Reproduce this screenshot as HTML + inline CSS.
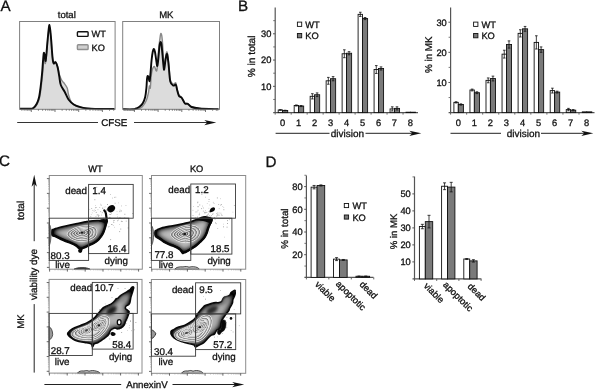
<!DOCTYPE html>
<html><head><meta charset="utf-8"><style>
html,body{margin:0;padding:0;background:#fff;overflow:hidden;}
svg{display:block;filter:grayscale(1) blur(0.3px);}
text{font-family:"Liberation Sans", sans-serif;stroke:#111;stroke-width:0.3px;text-rendering:geometricPrecision;}
</style></head><body>
<svg width="600" height="392" viewBox="0 0 600 392">
<rect x="0" y="0" width="600" height="392" fill="#fff"/>
<text x="0.6" y="10.6" font-size="15.2" text-anchor="start" fill="#111" >A</text>
<path d="M20.00,108.90 C21.83,108.90 28.58,109.08 31.00,108.90 C33.42,108.72 33.42,108.70 34.50,107.80 C35.58,106.90 36.62,105.38 37.50,103.50 C38.38,101.62 39.17,99.42 39.80,96.50 C40.43,93.58 40.83,89.75 41.30,86.00 C41.77,82.25 42.22,78.00 42.60,74.00 C42.98,70.00 43.33,64.83 43.60,62.00 C43.87,59.17 43.92,56.75 44.20,57.00 C44.48,57.25 44.90,64.00 45.30,63.50 C45.70,63.00 46.18,57.92 46.60,54.00 C47.02,50.08 47.32,44.50 47.80,40.00 C48.28,35.50 48.95,26.83 49.50,27.00 C50.05,27.17 50.72,37.00 51.10,41.00 C51.48,45.00 51.52,47.83 51.80,51.00 C52.08,54.17 52.47,58.00 52.80,60.00 C53.13,62.00 53.38,62.75 53.80,63.00 C54.22,63.25 54.83,61.42 55.30,61.50 C55.77,61.58 56.15,62.42 56.60,63.50 C57.05,64.58 57.52,66.08 58.00,68.00 C58.48,69.92 58.85,72.90 59.50,75.00 C60.15,77.10 61.15,79.27 61.90,80.60 C62.65,81.93 63.12,81.77 64.00,83.00 C64.88,84.23 66.45,86.08 67.20,88.00 C67.95,89.92 67.83,92.17 68.50,94.50 C69.17,96.83 69.95,100.08 71.20,102.00 C72.45,103.92 73.70,104.95 76.00,106.00 C78.30,107.05 81.83,107.82 85.00,108.30 C88.17,108.78 90.08,108.78 95.00,108.90 C99.92,109.02 111.25,108.98 114.50,109.00 L114.5,109 L20,108.9Z" fill="#dcdcdc" stroke="none"/>
<path d="M20.00,108.90 C21.83,108.90 28.58,109.08 31.00,108.90 C33.42,108.72 33.42,108.70 34.50,107.80 C35.58,106.90 36.62,105.38 37.50,103.50 C38.38,101.62 39.17,99.42 39.80,96.50 C40.43,93.58 40.83,89.75 41.30,86.00 C41.77,82.25 42.22,78.00 42.60,74.00 C42.98,70.00 43.33,64.83 43.60,62.00 C43.87,59.17 43.92,56.75 44.20,57.00 C44.48,57.25 44.90,64.00 45.30,63.50 C45.70,63.00 46.18,57.92 46.60,54.00 C47.02,50.08 47.32,44.50 47.80,40.00 C48.28,35.50 48.95,26.83 49.50,27.00 C50.05,27.17 50.72,37.00 51.10,41.00 C51.48,45.00 51.52,47.83 51.80,51.00 C52.08,54.17 52.47,58.00 52.80,60.00 C53.13,62.00 53.38,62.75 53.80,63.00 C54.22,63.25 54.83,61.42 55.30,61.50 C55.77,61.58 56.15,62.42 56.60,63.50 C57.05,64.58 57.52,66.08 58.00,68.00 C58.48,69.92 58.85,72.90 59.50,75.00 C60.15,77.10 61.15,79.27 61.90,80.60 C62.65,81.93 63.12,81.77 64.00,83.00 C64.88,84.23 66.45,86.08 67.20,88.00 C67.95,89.92 67.83,92.17 68.50,94.50 C69.17,96.83 69.95,100.08 71.20,102.00 C72.45,103.92 73.70,104.95 76.00,106.00 C78.30,107.05 81.83,107.82 85.00,108.30 C88.17,108.78 90.08,108.78 95.00,108.90 C99.92,109.02 111.25,108.98 114.50,109.00" fill="none" stroke="#888888" stroke-width="1.4" stroke-linejoin="round"/>
<path d="M20.00,108.70 C21.67,108.70 27.78,108.83 30.00,108.70 C32.22,108.57 32.20,108.68 33.30,107.90 C34.40,107.12 35.65,105.73 36.60,104.00 C37.55,102.27 38.33,100.33 39.00,97.50 C39.67,94.67 40.10,90.92 40.60,87.00 C41.10,83.08 41.60,78.33 42.00,74.00 C42.40,69.67 42.70,64.50 43.00,61.00 C43.30,57.50 43.52,53.92 43.80,53.00 C44.08,52.08 44.40,54.17 44.70,55.50 C45.00,56.83 45.28,61.58 45.60,61.00 C45.92,60.42 46.25,55.67 46.60,52.00 C46.95,48.33 47.22,43.50 47.70,39.00 C48.18,34.50 48.92,24.83 49.50,25.00 C50.08,25.17 50.80,35.83 51.20,40.00 C51.60,44.17 51.63,46.67 51.90,50.00 C52.17,53.33 52.50,57.75 52.80,60.00 C53.10,62.25 53.27,63.12 53.70,63.50 C54.13,63.88 54.92,62.22 55.40,62.30 C55.88,62.38 56.18,62.97 56.60,64.00 C57.02,65.03 57.47,66.50 57.90,68.50 C58.33,70.50 58.72,73.25 59.20,76.00 C59.68,78.75 59.87,82.33 60.80,85.00 C61.73,87.67 63.52,89.58 64.80,92.00 C66.08,94.42 67.00,97.42 68.50,99.50 C70.00,101.58 71.80,103.22 73.80,104.50 C75.80,105.78 78.30,106.55 80.50,107.20 C82.70,107.85 84.58,108.12 87.00,108.40 C89.42,108.68 90.42,108.80 95.00,108.90 C99.58,109.00 111.25,108.98 114.50,109.00" fill="none" stroke="#0a0a0a" stroke-width="1.9" stroke-linejoin="round"/>
<rect x="19.6" y="21.5" width="95.5" height="87.8" fill="none" stroke="#808080" stroke-width="1" />
<line x1="21.87" y1="109.4" x2="21.87" y2="110.7" stroke="#555" stroke-width="0.8" />
<line x1="24.17" y1="109.4" x2="24.17" y2="110.7" stroke="#555" stroke-width="0.8" />
<line x1="26.04" y1="109.4" x2="26.04" y2="110.7" stroke="#555" stroke-width="0.8" />
<line x1="27.63" y1="109.4" x2="27.63" y2="110.7" stroke="#555" stroke-width="0.8" />
<line x1="29.0" y1="109.4" x2="29.0" y2="110.7" stroke="#555" stroke-width="0.8" />
<line x1="30.22" y1="109.4" x2="30.22" y2="110.7" stroke="#555" stroke-width="0.8" />
<line x1="31.3" y1="109.4" x2="31.3" y2="112.0" stroke="#555" stroke-width="0.8" />
<line x1="38.43" y1="109.4" x2="38.43" y2="110.7" stroke="#555" stroke-width="0.8" />
<line x1="42.61" y1="109.4" x2="42.61" y2="110.7" stroke="#555" stroke-width="0.8" />
<line x1="45.57" y1="109.4" x2="45.57" y2="110.7" stroke="#555" stroke-width="0.8" />
<line x1="47.87" y1="109.4" x2="47.87" y2="110.7" stroke="#555" stroke-width="0.8" />
<line x1="49.74" y1="109.4" x2="49.74" y2="110.7" stroke="#555" stroke-width="0.8" />
<line x1="51.33" y1="109.4" x2="51.33" y2="110.7" stroke="#555" stroke-width="0.8" />
<line x1="52.7" y1="109.4" x2="52.7" y2="110.7" stroke="#555" stroke-width="0.8" />
<line x1="53.92" y1="109.4" x2="53.92" y2="110.7" stroke="#555" stroke-width="0.8" />
<line x1="55.0" y1="109.4" x2="55.0" y2="112.0" stroke="#555" stroke-width="0.8" />
<line x1="62.13" y1="109.4" x2="62.13" y2="110.7" stroke="#555" stroke-width="0.8" />
<line x1="66.31" y1="109.4" x2="66.31" y2="110.7" stroke="#555" stroke-width="0.8" />
<line x1="69.27" y1="109.4" x2="69.27" y2="110.7" stroke="#555" stroke-width="0.8" />
<line x1="71.57" y1="109.4" x2="71.57" y2="110.7" stroke="#555" stroke-width="0.8" />
<line x1="73.44" y1="109.4" x2="73.44" y2="110.7" stroke="#555" stroke-width="0.8" />
<line x1="75.03" y1="109.4" x2="75.03" y2="110.7" stroke="#555" stroke-width="0.8" />
<line x1="76.4" y1="109.4" x2="76.4" y2="110.7" stroke="#555" stroke-width="0.8" />
<line x1="77.62" y1="109.4" x2="77.62" y2="110.7" stroke="#555" stroke-width="0.8" />
<line x1="78.7" y1="109.4" x2="78.7" y2="112.0" stroke="#555" stroke-width="0.8" />
<line x1="85.83" y1="109.4" x2="85.83" y2="110.7" stroke="#555" stroke-width="0.8" />
<line x1="90.01" y1="109.4" x2="90.01" y2="110.7" stroke="#555" stroke-width="0.8" />
<line x1="92.97" y1="109.4" x2="92.97" y2="110.7" stroke="#555" stroke-width="0.8" />
<line x1="95.27" y1="109.4" x2="95.27" y2="110.7" stroke="#555" stroke-width="0.8" />
<line x1="97.14" y1="109.4" x2="97.14" y2="110.7" stroke="#555" stroke-width="0.8" />
<line x1="98.73" y1="109.4" x2="98.73" y2="110.7" stroke="#555" stroke-width="0.8" />
<line x1="100.1" y1="109.4" x2="100.1" y2="110.7" stroke="#555" stroke-width="0.8" />
<line x1="101.32" y1="109.4" x2="101.32" y2="110.7" stroke="#555" stroke-width="0.8" />
<line x1="102.4" y1="109.4" x2="102.4" y2="112.0" stroke="#555" stroke-width="0.8" />
<line x1="109.53" y1="109.4" x2="109.53" y2="110.7" stroke="#555" stroke-width="0.8" />
<line x1="113.71" y1="109.4" x2="113.71" y2="110.7" stroke="#555" stroke-width="0.8" />
<text x="66.8" y="18" font-size="9.5" text-anchor="middle" fill="#111" >total</text>
<path d="M123.00,109.30 C125.33,109.28 133.75,109.67 137.00,109.20 C140.25,108.73 140.95,107.95 142.50,106.50 C144.05,105.05 145.32,102.75 146.30,100.50 C147.28,98.25 147.88,95.42 148.40,93.00 C148.92,90.58 149.08,86.83 149.40,86.00 C149.72,85.17 150.00,89.67 150.30,88.00 C150.60,86.33 150.83,79.17 151.20,76.00 C151.57,72.83 151.97,70.58 152.50,69.00 C153.03,67.42 153.68,66.25 154.40,66.50 C155.12,66.75 156.13,72.92 156.80,70.50 C157.47,68.08 157.87,57.42 158.40,52.00 C158.93,46.58 159.55,41.08 160.00,38.00 C160.45,34.92 160.72,33.17 161.10,33.50 C161.48,33.83 161.92,35.92 162.30,40.00 C162.68,44.08 163.07,53.50 163.40,58.00 C163.73,62.50 163.93,67.17 164.30,67.00 C164.67,66.83 165.13,59.50 165.60,57.00 C166.07,54.50 166.58,51.00 167.10,52.00 C167.62,53.00 168.17,58.33 168.70,63.00 C169.23,67.67 169.52,76.50 170.30,80.00 C171.08,83.50 172.48,83.50 173.40,84.00 C174.32,84.50 175.13,82.00 175.80,83.00 C176.47,84.00 176.87,88.00 177.40,90.00 C177.93,92.00 178.33,93.83 179.00,95.00 C179.67,96.17 180.62,96.00 181.40,97.00 C182.18,98.00 183.05,99.92 183.70,101.00 C184.35,102.08 184.63,103.08 185.30,103.50 C185.97,103.92 186.65,102.92 187.70,103.50 C188.75,104.08 189.62,106.17 191.60,107.00 C193.58,107.83 195.12,108.13 199.60,108.50 C204.08,108.87 215.35,109.08 218.50,109.20 L218.5,109.2 L123,109.3Z" fill="#dcdcdc" stroke="none"/>
<path d="M123.00,109.30 C125.33,109.28 133.75,109.67 137.00,109.20 C140.25,108.73 140.95,107.95 142.50,106.50 C144.05,105.05 145.32,102.75 146.30,100.50 C147.28,98.25 147.88,95.42 148.40,93.00 C148.92,90.58 149.08,86.83 149.40,86.00 C149.72,85.17 150.00,89.67 150.30,88.00 C150.60,86.33 150.83,79.17 151.20,76.00 C151.57,72.83 151.97,70.58 152.50,69.00 C153.03,67.42 153.68,66.25 154.40,66.50 C155.12,66.75 156.13,72.92 156.80,70.50 C157.47,68.08 157.87,57.42 158.40,52.00 C158.93,46.58 159.55,41.08 160.00,38.00 C160.45,34.92 160.72,33.17 161.10,33.50 C161.48,33.83 161.92,35.92 162.30,40.00 C162.68,44.08 163.07,53.50 163.40,58.00 C163.73,62.50 163.93,67.17 164.30,67.00 C164.67,66.83 165.13,59.50 165.60,57.00 C166.07,54.50 166.58,51.00 167.10,52.00 C167.62,53.00 168.17,58.33 168.70,63.00 C169.23,67.67 169.52,76.50 170.30,80.00 C171.08,83.50 172.48,83.50 173.40,84.00 C174.32,84.50 175.13,82.00 175.80,83.00 C176.47,84.00 176.87,88.00 177.40,90.00 C177.93,92.00 178.33,93.83 179.00,95.00 C179.67,96.17 180.62,96.00 181.40,97.00 C182.18,98.00 183.05,99.92 183.70,101.00 C184.35,102.08 184.63,103.08 185.30,103.50 C185.97,103.92 186.65,102.92 187.70,103.50 C188.75,104.08 189.62,106.17 191.60,107.00 C193.58,107.83 195.12,108.13 199.60,108.50 C204.08,108.87 215.35,109.08 218.50,109.20" fill="none" stroke="#888888" stroke-width="1.4" stroke-linejoin="round"/>
<path d="M123.00,109.30 C124.67,109.30 130.83,109.43 133.00,109.30 C135.17,109.17 134.92,108.92 136.00,108.50 C137.08,108.08 138.37,107.67 139.50,106.80 C140.63,105.93 141.85,104.93 142.80,103.30 C143.75,101.67 144.60,99.55 145.20,97.00 C145.80,94.45 146.10,91.00 146.40,88.00 C146.70,85.00 146.80,81.00 147.00,79.00 C147.20,77.00 147.33,76.25 147.60,76.00 C147.87,75.75 148.27,76.67 148.60,77.50 C148.93,78.33 149.27,81.92 149.60,81.00 C149.93,80.08 150.27,75.50 150.60,72.00 C150.93,68.50 151.23,63.42 151.60,60.00 C151.97,56.58 152.42,53.33 152.80,51.50 C153.18,49.67 153.53,48.92 153.90,49.00 C154.27,49.08 154.62,50.17 155.00,52.00 C155.38,53.83 155.82,57.67 156.20,60.00 C156.58,62.33 156.92,66.50 157.30,66.00 C157.68,65.50 158.13,60.33 158.50,57.00 C158.87,53.67 159.17,48.50 159.50,46.00 C159.83,43.50 160.17,42.17 160.50,42.00 C160.83,41.83 161.17,42.83 161.50,45.00 C161.83,47.17 162.17,51.50 162.50,55.00 C162.83,58.50 163.22,63.58 163.50,66.00 C163.78,68.42 163.87,70.50 164.20,69.50 C164.53,68.50 165.02,62.58 165.50,60.00 C165.98,57.42 166.57,53.03 167.10,54.00 C167.63,54.97 168.17,61.20 168.70,65.80 C169.23,70.40 169.52,78.30 170.30,81.60 C171.08,84.90 172.48,85.07 173.40,85.60 C174.32,86.13 175.13,83.88 175.80,84.80 C176.47,85.72 176.87,89.25 177.40,91.10 C177.93,92.95 178.33,94.83 179.00,95.90 C179.67,96.97 180.62,96.58 181.40,97.50 C182.18,98.42 183.05,100.35 183.70,101.40 C184.35,102.45 184.63,103.40 185.30,103.80 C185.97,104.20 186.65,103.27 187.70,103.80 C188.75,104.33 189.62,106.22 191.60,107.00 C193.58,107.78 195.12,108.13 199.60,108.50 C204.08,108.87 215.35,109.08 218.50,109.20" fill="none" stroke="#0a0a0a" stroke-width="1.9" stroke-linejoin="round"/>
<rect x="122.7" y="21.5" width="96.8" height="87.8" fill="none" stroke="#808080" stroke-width="1" />
<line x1="124.97" y1="109.4" x2="124.97" y2="110.7" stroke="#555" stroke-width="0.8" />
<line x1="127.27" y1="109.4" x2="127.27" y2="110.7" stroke="#555" stroke-width="0.8" />
<line x1="129.14" y1="109.4" x2="129.14" y2="110.7" stroke="#555" stroke-width="0.8" />
<line x1="130.73" y1="109.4" x2="130.73" y2="110.7" stroke="#555" stroke-width="0.8" />
<line x1="132.1" y1="109.4" x2="132.1" y2="110.7" stroke="#555" stroke-width="0.8" />
<line x1="133.32" y1="109.4" x2="133.32" y2="110.7" stroke="#555" stroke-width="0.8" />
<line x1="134.4" y1="109.4" x2="134.4" y2="112.0" stroke="#555" stroke-width="0.8" />
<line x1="141.53" y1="109.4" x2="141.53" y2="110.7" stroke="#555" stroke-width="0.8" />
<line x1="145.71" y1="109.4" x2="145.71" y2="110.7" stroke="#555" stroke-width="0.8" />
<line x1="148.67" y1="109.4" x2="148.67" y2="110.7" stroke="#555" stroke-width="0.8" />
<line x1="150.97" y1="109.4" x2="150.97" y2="110.7" stroke="#555" stroke-width="0.8" />
<line x1="152.84" y1="109.4" x2="152.84" y2="110.7" stroke="#555" stroke-width="0.8" />
<line x1="154.43" y1="109.4" x2="154.43" y2="110.7" stroke="#555" stroke-width="0.8" />
<line x1="155.8" y1="109.4" x2="155.8" y2="110.7" stroke="#555" stroke-width="0.8" />
<line x1="157.02" y1="109.4" x2="157.02" y2="110.7" stroke="#555" stroke-width="0.8" />
<line x1="158.1" y1="109.4" x2="158.1" y2="112.0" stroke="#555" stroke-width="0.8" />
<line x1="165.23" y1="109.4" x2="165.23" y2="110.7" stroke="#555" stroke-width="0.8" />
<line x1="169.41" y1="109.4" x2="169.41" y2="110.7" stroke="#555" stroke-width="0.8" />
<line x1="172.37" y1="109.4" x2="172.37" y2="110.7" stroke="#555" stroke-width="0.8" />
<line x1="174.67" y1="109.4" x2="174.67" y2="110.7" stroke="#555" stroke-width="0.8" />
<line x1="176.54" y1="109.4" x2="176.54" y2="110.7" stroke="#555" stroke-width="0.8" />
<line x1="178.13" y1="109.4" x2="178.13" y2="110.7" stroke="#555" stroke-width="0.8" />
<line x1="179.5" y1="109.4" x2="179.5" y2="110.7" stroke="#555" stroke-width="0.8" />
<line x1="180.72" y1="109.4" x2="180.72" y2="110.7" stroke="#555" stroke-width="0.8" />
<line x1="181.8" y1="109.4" x2="181.8" y2="112.0" stroke="#555" stroke-width="0.8" />
<line x1="188.93" y1="109.4" x2="188.93" y2="110.7" stroke="#555" stroke-width="0.8" />
<line x1="193.11" y1="109.4" x2="193.11" y2="110.7" stroke="#555" stroke-width="0.8" />
<line x1="196.07" y1="109.4" x2="196.07" y2="110.7" stroke="#555" stroke-width="0.8" />
<line x1="198.37" y1="109.4" x2="198.37" y2="110.7" stroke="#555" stroke-width="0.8" />
<line x1="200.24" y1="109.4" x2="200.24" y2="110.7" stroke="#555" stroke-width="0.8" />
<line x1="201.83" y1="109.4" x2="201.83" y2="110.7" stroke="#555" stroke-width="0.8" />
<line x1="203.2" y1="109.4" x2="203.2" y2="110.7" stroke="#555" stroke-width="0.8" />
<line x1="204.42" y1="109.4" x2="204.42" y2="110.7" stroke="#555" stroke-width="0.8" />
<line x1="205.5" y1="109.4" x2="205.5" y2="112.0" stroke="#555" stroke-width="0.8" />
<line x1="212.63" y1="109.4" x2="212.63" y2="110.7" stroke="#555" stroke-width="0.8" />
<line x1="216.81" y1="109.4" x2="216.81" y2="110.7" stroke="#555" stroke-width="0.8" />
<text x="166.3" y="18" font-size="9.5" text-anchor="middle" fill="#111" >MK</text>
<rect x="77.4" y="31.7" width="10.7" height="4.7" fill="#fff" stroke="#111" stroke-width="1.4" rx="0.8"/>
<rect x="77.4" y="44.8" width="10.7" height="4.7" fill="#d0d0d0" stroke="#909090" stroke-width="1.4" rx="0.8"/>
<text x="91.6" y="36.9" font-size="9.2" text-anchor="start" fill="#111" >WT</text>
<text x="91.6" y="50.5" font-size="9.2" text-anchor="start" fill="#111" >KO</text>
<line x1="17.2" y1="122.5" x2="98" y2="122.5" stroke="#333" stroke-width="1" />
<text x="114.2" y="126.2" font-size="9.8" text-anchor="middle" fill="#111" >CFSE</text>
<line x1="134" y1="122.5" x2="208" y2="122.5" stroke="#333" stroke-width="1" />
<path d="M216.3,122.5 L204.3,119.9 L207.3,122.5 L204.3,125.3 Z" fill="#111"/>
<text x="238.0" y="10.8" font-size="15.2" text-anchor="start" fill="#111" >B</text>
<line x1="275.2" y1="7.5" x2="275.2" y2="113.1" stroke="#555" stroke-width="1.2" />
<line x1="273.0" y1="86.33" x2="275.2" y2="86.33" stroke="#555" stroke-width="1" />
<text x="271.35" y="89.63" font-size="9.3" text-anchor="end" fill="#111" >10</text>
<line x1="273.0" y1="60.06" x2="275.2" y2="60.06" stroke="#555" stroke-width="1" />
<text x="271.35" y="63.36" font-size="9.3" text-anchor="end" fill="#111" >20</text>
<line x1="273.0" y1="33.790000000000006" x2="275.2" y2="33.790000000000006" stroke="#555" stroke-width="1" />
<text x="271.35" y="37.09" font-size="9.3" text-anchor="end" fill="#111" >30</text>
<line x1="273.2" y1="99.465" x2="275.2" y2="99.465" stroke="#555" stroke-width="0.8" />
<line x1="273.2" y1="73.195" x2="275.2" y2="73.195" stroke="#555" stroke-width="0.8" />
<line x1="273.2" y1="46.925" x2="275.2" y2="46.925" stroke="#555" stroke-width="0.8" />
<line x1="273.2" y1="20.655" x2="275.2" y2="20.655" stroke="#555" stroke-width="0.8" />
<line x1="273.2" y1="112.6" x2="418" y2="112.6" stroke="#555" stroke-width="1.1" />
<line x1="275.2" y1="112.6" x2="275.2" y2="114.6" stroke="#555" stroke-width="0.9" />
<line x1="291.18" y1="112.6" x2="291.18" y2="114.6" stroke="#555" stroke-width="0.9" />
<line x1="307.15999999999997" y1="112.6" x2="307.15999999999997" y2="114.6" stroke="#555" stroke-width="0.9" />
<line x1="323.14" y1="112.6" x2="323.14" y2="114.6" stroke="#555" stroke-width="0.9" />
<line x1="339.12" y1="112.6" x2="339.12" y2="114.6" stroke="#555" stroke-width="0.9" />
<line x1="355.1" y1="112.6" x2="355.1" y2="114.6" stroke="#555" stroke-width="0.9" />
<line x1="371.08" y1="112.6" x2="371.08" y2="114.6" stroke="#555" stroke-width="0.9" />
<line x1="387.06" y1="112.6" x2="387.06" y2="114.6" stroke="#555" stroke-width="0.9" />
<line x1="403.03999999999996" y1="112.6" x2="403.03999999999996" y2="114.6" stroke="#555" stroke-width="0.9" />
<rect x="278.2" y="109.97" width="4.4" height="2.63" fill="#fff" stroke="#111" stroke-width="0.9" />
<rect x="282.6" y="110.5" width="5.1" height="2.1" fill="#7a7a7a" stroke="#111" stroke-width="0.9" />
<line x1="280.4" y1="109.71" x2="280.4" y2="110.24" stroke="#111" stroke-width="0.8" />
<line x1="279.1" y1="109.71" x2="281.7" y2="109.71" stroke="#111" stroke-width="0.8" />
<line x1="279.1" y1="110.24" x2="281.7" y2="110.24" stroke="#111" stroke-width="0.8" />
<line x1="285.15" y1="110.24" x2="285.15" y2="110.76" stroke="#111" stroke-width="0.8" />
<line x1="283.85" y1="110.24" x2="286.45" y2="110.24" stroke="#111" stroke-width="0.8" />
<line x1="283.85" y1="110.76" x2="286.45" y2="110.76" stroke="#111" stroke-width="0.8" />
<rect x="294.18" y="105.51" width="4.4" height="7.09" fill="#fff" stroke="#111" stroke-width="0.9" />
<rect x="298.58" y="106.03" width="5.1" height="6.57" fill="#7a7a7a" stroke="#111" stroke-width="0.9" />
<line x1="296.38" y1="104.98" x2="296.38" y2="106.03" stroke="#111" stroke-width="0.8" />
<line x1="295.08" y1="104.98" x2="297.68" y2="104.98" stroke="#111" stroke-width="0.8" />
<line x1="295.08" y1="106.03" x2="297.68" y2="106.03" stroke="#111" stroke-width="0.8" />
<line x1="301.13" y1="105.51" x2="301.13" y2="106.56" stroke="#111" stroke-width="0.8" />
<line x1="299.83" y1="105.51" x2="302.43" y2="105.51" stroke="#111" stroke-width="0.8" />
<line x1="299.83" y1="106.56" x2="302.43" y2="106.56" stroke="#111" stroke-width="0.8" />
<rect x="310.16" y="96.31" width="4.4" height="16.29" fill="#fff" stroke="#111" stroke-width="0.9" />
<rect x="314.56" y="94.74" width="5.1" height="17.86" fill="#7a7a7a" stroke="#111" stroke-width="0.9" />
<line x1="312.36" y1="93.69" x2="312.36" y2="98.94" stroke="#111" stroke-width="0.8" />
<line x1="311.06" y1="93.69" x2="313.66" y2="93.69" stroke="#111" stroke-width="0.8" />
<line x1="311.06" y1="98.94" x2="313.66" y2="98.94" stroke="#111" stroke-width="0.8" />
<line x1="317.11" y1="92.9" x2="317.11" y2="96.58" stroke="#111" stroke-width="0.8" />
<line x1="315.81" y1="92.9" x2="318.41" y2="92.9" stroke="#111" stroke-width="0.8" />
<line x1="315.81" y1="96.58" x2="318.41" y2="96.58" stroke="#111" stroke-width="0.8" />
<rect x="326.14" y="80.81" width="4.4" height="31.79" fill="#fff" stroke="#111" stroke-width="0.9" />
<rect x="330.54" y="78.71" width="5.1" height="33.89" fill="#7a7a7a" stroke="#111" stroke-width="0.9" />
<line x1="328.34" y1="77.4" x2="328.34" y2="84.23" stroke="#111" stroke-width="0.8" />
<line x1="327.04" y1="77.4" x2="329.64" y2="77.4" stroke="#111" stroke-width="0.8" />
<line x1="327.04" y1="84.23" x2="329.64" y2="84.23" stroke="#111" stroke-width="0.8" />
<line x1="333.09" y1="76.61" x2="333.09" y2="80.81" stroke="#111" stroke-width="0.8" />
<line x1="331.79" y1="76.61" x2="334.39" y2="76.61" stroke="#111" stroke-width="0.8" />
<line x1="331.79" y1="80.81" x2="334.39" y2="80.81" stroke="#111" stroke-width="0.8" />
<rect x="342.12" y="53.76" width="4.4" height="58.84" fill="#fff" stroke="#111" stroke-width="0.9" />
<rect x="346.52" y="53.23" width="5.1" height="59.37" fill="#7a7a7a" stroke="#111" stroke-width="0.9" />
<line x1="344.32" y1="49.81" x2="344.32" y2="57.7" stroke="#111" stroke-width="0.8" />
<line x1="343.02" y1="49.81" x2="345.62" y2="49.81" stroke="#111" stroke-width="0.8" />
<line x1="343.02" y1="57.7" x2="345.62" y2="57.7" stroke="#111" stroke-width="0.8" />
<line x1="349.07" y1="51.65" x2="349.07" y2="54.81" stroke="#111" stroke-width="0.8" />
<line x1="347.77" y1="51.65" x2="350.37" y2="51.65" stroke="#111" stroke-width="0.8" />
<line x1="347.77" y1="54.81" x2="350.37" y2="54.81" stroke="#111" stroke-width="0.8" />
<rect x="358.1" y="14.35" width="4.4" height="98.25" fill="#fff" stroke="#111" stroke-width="0.9" />
<rect x="362.5" y="18.55" width="5.1" height="94.05" fill="#7a7a7a" stroke="#111" stroke-width="0.9" />
<line x1="360.3" y1="12.25" x2="360.3" y2="16.45" stroke="#111" stroke-width="0.8" />
<line x1="359.0" y1="12.25" x2="361.6" y2="12.25" stroke="#111" stroke-width="0.8" />
<line x1="359.0" y1="16.45" x2="361.6" y2="16.45" stroke="#111" stroke-width="0.8" />
<line x1="365.05" y1="17.5" x2="365.05" y2="19.6" stroke="#111" stroke-width="0.8" />
<line x1="363.75" y1="17.5" x2="366.35" y2="17.5" stroke="#111" stroke-width="0.8" />
<line x1="363.75" y1="19.6" x2="366.35" y2="19.6" stroke="#111" stroke-width="0.8" />
<rect x="374.08" y="69.52" width="4.4" height="43.08" fill="#fff" stroke="#111" stroke-width="0.9" />
<rect x="378.48" y="68.47" width="5.1" height="44.13" fill="#7a7a7a" stroke="#111" stroke-width="0.9" />
<line x1="376.28" y1="65.58" x2="376.28" y2="73.46" stroke="#111" stroke-width="0.8" />
<line x1="374.98" y1="65.58" x2="377.58" y2="65.58" stroke="#111" stroke-width="0.8" />
<line x1="374.98" y1="73.46" x2="377.58" y2="73.46" stroke="#111" stroke-width="0.8" />
<line x1="381.03" y1="66.89" x2="381.03" y2="70.04" stroke="#111" stroke-width="0.8" />
<line x1="379.73" y1="66.89" x2="382.33" y2="66.89" stroke="#111" stroke-width="0.8" />
<line x1="379.73" y1="70.04" x2="382.33" y2="70.04" stroke="#111" stroke-width="0.8" />
<rect x="390.06" y="108.92" width="4.4" height="3.68" fill="#fff" stroke="#111" stroke-width="0.9" />
<rect x="394.46" y="108.4" width="5.1" height="4.2" fill="#7a7a7a" stroke="#111" stroke-width="0.9" />
<line x1="392.26" y1="106.82" x2="392.26" y2="111.02" stroke="#111" stroke-width="0.8" />
<line x1="390.96" y1="106.82" x2="393.56" y2="106.82" stroke="#111" stroke-width="0.8" />
<line x1="390.96" y1="111.02" x2="393.56" y2="111.02" stroke="#111" stroke-width="0.8" />
<line x1="397.01" y1="106.82" x2="397.01" y2="109.97" stroke="#111" stroke-width="0.8" />
<line x1="395.71" y1="106.82" x2="398.31" y2="106.82" stroke="#111" stroke-width="0.8" />
<line x1="395.71" y1="109.97" x2="398.31" y2="109.97" stroke="#111" stroke-width="0.8" />
<rect x="406.04" y="112.21" width="4.4" height="0.39" fill="#fff" stroke="#111" stroke-width="0.9" />
<rect x="410.44" y="112.21" width="5.1" height="0.39" fill="#7a7a7a" stroke="#111" stroke-width="0.9" />
<text x="282.6" y="125.7" font-size="9.3" text-anchor="middle" fill="#111" >0</text>
<text x="298.58" y="125.7" font-size="9.3" text-anchor="middle" fill="#111" >1</text>
<text x="314.56" y="125.7" font-size="9.3" text-anchor="middle" fill="#111" >2</text>
<text x="330.54" y="125.7" font-size="9.3" text-anchor="middle" fill="#111" >3</text>
<text x="346.52" y="125.7" font-size="9.3" text-anchor="middle" fill="#111" >4</text>
<text x="362.5" y="125.7" font-size="9.3" text-anchor="middle" fill="#111" >5</text>
<text x="378.48" y="125.7" font-size="9.3" text-anchor="middle" fill="#111" >6</text>
<text x="394.46" y="125.7" font-size="9.3" text-anchor="middle" fill="#111" >7</text>
<text x="410.44" y="125.7" font-size="9.3" text-anchor="middle" fill="#111" >8</text>
<rect x="297.4" y="22.1" width="4.3" height="4.3" fill="#fff" stroke="#111" stroke-width="0.9" />
<rect x="297.4" y="33.5" width="4.3" height="4.3" fill="#7a7a7a" stroke="#111" stroke-width="0.9" />
<text x="305.2" y="27.6" font-size="9.3" text-anchor="start" fill="#111" >WT</text>
<text x="305.2" y="39.0" font-size="9.3" text-anchor="start" fill="#111" >KO</text>
<text x="0" y="0" font-size="10.2" text-anchor="middle" fill="#111" transform="translate(254.8,56.4) rotate(-90)">% in total</text>
<line x1="275.6" y1="133.3" x2="329.5" y2="133.3" stroke="#222" stroke-width="1" />
<text x="347.4" y="136.8" font-size="10" text-anchor="middle" fill="#111" >division</text>
<line x1="365.5" y1="133.3" x2="414" y2="133.3" stroke="#222" stroke-width="1" />
<path d="M421.3,133.3 L409.3,130.70000000000002 L412.3,133.3 L409.3,136.10000000000002 Z" fill="#111"/>
<line x1="450.6" y1="7.5" x2="450.6" y2="113.1" stroke="#555" stroke-width="1.2" />
<line x1="448.40000000000003" y1="82.47" x2="450.6" y2="82.47" stroke="#555" stroke-width="1" />
<text x="446.75" y="85.77" font-size="9.3" text-anchor="end" fill="#111" >10</text>
<line x1="448.40000000000003" y1="52.339999999999996" x2="450.6" y2="52.339999999999996" stroke="#555" stroke-width="1" />
<text x="446.75" y="55.64" font-size="9.3" text-anchor="end" fill="#111" >20</text>
<line x1="448.40000000000003" y1="22.209999999999994" x2="450.6" y2="22.209999999999994" stroke="#555" stroke-width="1" />
<text x="446.75" y="25.51" font-size="9.3" text-anchor="end" fill="#111" >30</text>
<line x1="448.6" y1="97.535" x2="450.6" y2="97.535" stroke="#555" stroke-width="0.8" />
<line x1="448.6" y1="67.405" x2="450.6" y2="67.405" stroke="#555" stroke-width="0.8" />
<line x1="448.6" y1="37.27499999999999" x2="450.6" y2="37.27499999999999" stroke="#555" stroke-width="0.8" />
<line x1="448.6" y1="112.6" x2="594.5" y2="112.6" stroke="#555" stroke-width="1.1" />
<line x1="450.6" y1="112.6" x2="450.6" y2="114.6" stroke="#555" stroke-width="0.9" />
<line x1="466.65000000000003" y1="112.6" x2="466.65000000000003" y2="114.6" stroke="#555" stroke-width="0.9" />
<line x1="482.70000000000005" y1="112.6" x2="482.70000000000005" y2="114.6" stroke="#555" stroke-width="0.9" />
<line x1="498.75" y1="112.6" x2="498.75" y2="114.6" stroke="#555" stroke-width="0.9" />
<line x1="514.8000000000001" y1="112.6" x2="514.8000000000001" y2="114.6" stroke="#555" stroke-width="0.9" />
<line x1="530.85" y1="112.6" x2="530.85" y2="114.6" stroke="#555" stroke-width="0.9" />
<line x1="546.9000000000001" y1="112.6" x2="546.9000000000001" y2="114.6" stroke="#555" stroke-width="0.9" />
<line x1="562.95" y1="112.6" x2="562.95" y2="114.6" stroke="#555" stroke-width="0.9" />
<line x1="579.0" y1="112.6" x2="579.0" y2="114.6" stroke="#555" stroke-width="0.9" />
<rect x="453.9" y="102.36" width="4.4" height="10.24" fill="#fff" stroke="#111" stroke-width="0.9" />
<rect x="458.3" y="104.46" width="5.1" height="8.14" fill="#7a7a7a" stroke="#111" stroke-width="0.9" />
<line x1="456.1" y1="101.75" x2="456.1" y2="102.96" stroke="#111" stroke-width="0.8" />
<line x1="454.8" y1="101.75" x2="457.4" y2="101.75" stroke="#111" stroke-width="0.8" />
<line x1="454.8" y1="102.96" x2="457.4" y2="102.96" stroke="#111" stroke-width="0.8" />
<line x1="460.85" y1="103.86" x2="460.85" y2="105.07" stroke="#111" stroke-width="0.8" />
<line x1="459.55" y1="103.86" x2="462.15" y2="103.86" stroke="#111" stroke-width="0.8" />
<line x1="459.55" y1="105.07" x2="462.15" y2="105.07" stroke="#111" stroke-width="0.8" />
<rect x="469.95" y="90.0" width="4.4" height="22.6" fill="#fff" stroke="#111" stroke-width="0.9" />
<rect x="474.35" y="92.71" width="5.1" height="19.89" fill="#7a7a7a" stroke="#111" stroke-width="0.9" />
<line x1="472.15" y1="89.1" x2="472.15" y2="90.91" stroke="#111" stroke-width="0.8" />
<line x1="470.85" y1="89.1" x2="473.45" y2="89.1" stroke="#111" stroke-width="0.8" />
<line x1="470.85" y1="90.91" x2="473.45" y2="90.91" stroke="#111" stroke-width="0.8" />
<line x1="476.9" y1="91.81" x2="476.9" y2="93.62" stroke="#111" stroke-width="0.8" />
<line x1="475.6" y1="91.81" x2="478.2" y2="91.81" stroke="#111" stroke-width="0.8" />
<line x1="475.6" y1="93.62" x2="478.2" y2="93.62" stroke="#111" stroke-width="0.8" />
<rect x="486.0" y="80.36" width="4.4" height="32.24" fill="#fff" stroke="#111" stroke-width="0.9" />
<rect x="490.4" y="78.55" width="5.1" height="34.05" fill="#7a7a7a" stroke="#111" stroke-width="0.9" />
<line x1="488.2" y1="77.95" x2="488.2" y2="82.77" stroke="#111" stroke-width="0.8" />
<line x1="486.9" y1="77.95" x2="489.5" y2="77.95" stroke="#111" stroke-width="0.8" />
<line x1="486.9" y1="82.77" x2="489.5" y2="82.77" stroke="#111" stroke-width="0.8" />
<line x1="492.95" y1="76.14" x2="492.95" y2="80.96" stroke="#111" stroke-width="0.8" />
<line x1="491.65" y1="76.14" x2="494.25" y2="76.14" stroke="#111" stroke-width="0.8" />
<line x1="491.65" y1="80.96" x2="494.25" y2="80.96" stroke="#111" stroke-width="0.8" />
<rect x="502.05" y="54.15" width="4.4" height="58.45" fill="#fff" stroke="#111" stroke-width="0.9" />
<rect x="506.45" y="44.51" width="5.1" height="68.09" fill="#7a7a7a" stroke="#111" stroke-width="0.9" />
<line x1="504.25" y1="50.23" x2="504.25" y2="58.06" stroke="#111" stroke-width="0.8" />
<line x1="502.95" y1="50.23" x2="505.55" y2="50.23" stroke="#111" stroke-width="0.8" />
<line x1="502.95" y1="58.06" x2="505.55" y2="58.06" stroke="#111" stroke-width="0.8" />
<line x1="509.0" y1="40.89" x2="509.0" y2="48.12" stroke="#111" stroke-width="0.8" />
<line x1="507.7" y1="40.89" x2="510.3" y2="40.89" stroke="#111" stroke-width="0.8" />
<line x1="507.7" y1="48.12" x2="510.3" y2="48.12" stroke="#111" stroke-width="0.8" />
<rect x="518.1" y="33.36" width="4.4" height="79.24" fill="#fff" stroke="#111" stroke-width="0.9" />
<rect x="522.5" y="28.84" width="5.1" height="83.76" fill="#7a7a7a" stroke="#111" stroke-width="0.9" />
<line x1="520.3" y1="29.74" x2="520.3" y2="36.97" stroke="#111" stroke-width="0.8" />
<line x1="519.0" y1="29.74" x2="521.6" y2="29.74" stroke="#111" stroke-width="0.8" />
<line x1="519.0" y1="36.97" x2="521.6" y2="36.97" stroke="#111" stroke-width="0.8" />
<line x1="525.05" y1="26.43" x2="525.05" y2="31.25" stroke="#111" stroke-width="0.8" />
<line x1="523.75" y1="26.43" x2="526.35" y2="26.43" stroke="#111" stroke-width="0.8" />
<line x1="523.75" y1="31.25" x2="526.35" y2="31.25" stroke="#111" stroke-width="0.8" />
<rect x="534.15" y="42.4" width="4.4" height="70.2" fill="#fff" stroke="#111" stroke-width="0.9" />
<rect x="538.55" y="49.63" width="5.1" height="62.97" fill="#7a7a7a" stroke="#111" stroke-width="0.9" />
<line x1="536.35" y1="35.77" x2="536.35" y2="49.03" stroke="#111" stroke-width="0.8" />
<line x1="535.05" y1="35.77" x2="537.65" y2="35.77" stroke="#111" stroke-width="0.8" />
<line x1="535.05" y1="49.03" x2="537.65" y2="49.03" stroke="#111" stroke-width="0.8" />
<line x1="541.1" y1="46.92" x2="541.1" y2="52.34" stroke="#111" stroke-width="0.8" />
<line x1="539.8" y1="46.92" x2="542.4" y2="46.92" stroke="#111" stroke-width="0.8" />
<line x1="539.8" y1="52.34" x2="542.4" y2="52.34" stroke="#111" stroke-width="0.8" />
<rect x="550.2" y="90.61" width="4.4" height="21.99" fill="#fff" stroke="#111" stroke-width="0.9" />
<rect x="554.6" y="92.11" width="5.1" height="20.49" fill="#7a7a7a" stroke="#111" stroke-width="0.9" />
<line x1="552.4" y1="88.19" x2="552.4" y2="93.02" stroke="#111" stroke-width="0.8" />
<line x1="551.1" y1="88.19" x2="553.7" y2="88.19" stroke="#111" stroke-width="0.8" />
<line x1="551.1" y1="93.02" x2="553.7" y2="93.02" stroke="#111" stroke-width="0.8" />
<line x1="557.15" y1="91.21" x2="557.15" y2="93.02" stroke="#111" stroke-width="0.8" />
<line x1="555.85" y1="91.21" x2="558.45" y2="91.21" stroke="#111" stroke-width="0.8" />
<line x1="555.85" y1="93.02" x2="558.45" y2="93.02" stroke="#111" stroke-width="0.8" />
<rect x="566.25" y="109.59" width="4.4" height="3.01" fill="#fff" stroke="#111" stroke-width="0.9" />
<rect x="570.65" y="110.19" width="5.1" height="2.41" fill="#7a7a7a" stroke="#111" stroke-width="0.9" />
<line x1="568.45" y1="108.38" x2="568.45" y2="110.79" stroke="#111" stroke-width="0.8" />
<line x1="567.15" y1="108.38" x2="569.75" y2="108.38" stroke="#111" stroke-width="0.8" />
<line x1="567.15" y1="110.79" x2="569.75" y2="110.79" stroke="#111" stroke-width="0.8" />
<line x1="573.2" y1="109.59" x2="573.2" y2="110.79" stroke="#111" stroke-width="0.8" />
<line x1="571.9" y1="109.59" x2="574.5" y2="109.59" stroke="#111" stroke-width="0.8" />
<line x1="571.9" y1="110.79" x2="574.5" y2="110.79" stroke="#111" stroke-width="0.8" />
<rect x="582.3" y="111.85" width="4.4" height="0.75" fill="#fff" stroke="#111" stroke-width="0.9" />
<rect x="586.7" y="111.85" width="5.1" height="0.75" fill="#7a7a7a" stroke="#111" stroke-width="0.9" />
<text x="458.3" y="125.7" font-size="9.3" text-anchor="middle" fill="#111" >0</text>
<text x="474.35" y="125.7" font-size="9.3" text-anchor="middle" fill="#111" >1</text>
<text x="490.4" y="125.7" font-size="9.3" text-anchor="middle" fill="#111" >2</text>
<text x="506.45" y="125.7" font-size="9.3" text-anchor="middle" fill="#111" >3</text>
<text x="522.5" y="125.7" font-size="9.3" text-anchor="middle" fill="#111" >4</text>
<text x="538.55" y="125.7" font-size="9.3" text-anchor="middle" fill="#111" >5</text>
<text x="554.6" y="125.7" font-size="9.3" text-anchor="middle" fill="#111" >6</text>
<text x="570.65" y="125.7" font-size="9.3" text-anchor="middle" fill="#111" >7</text>
<text x="586.7" y="125.7" font-size="9.3" text-anchor="middle" fill="#111" >8</text>
<rect x="473.6" y="22.1" width="4.3" height="4.3" fill="#fff" stroke="#111" stroke-width="0.9" />
<rect x="473.6" y="33.5" width="4.3" height="4.3" fill="#7a7a7a" stroke="#111" stroke-width="0.9" />
<text x="481.4" y="27.6" font-size="9.3" text-anchor="start" fill="#111" >WT</text>
<text x="481.4" y="39.0" font-size="9.3" text-anchor="start" fill="#111" >KO</text>
<text x="0" y="0" font-size="9.9" text-anchor="middle" fill="#111" transform="translate(432.2,54.7) rotate(-90)">% in MK</text>
<line x1="450.5" y1="133.3" x2="501" y2="133.3" stroke="#222" stroke-width="1" />
<text x="523.4" y="136.8" font-size="10" text-anchor="middle" fill="#111" >division</text>
<line x1="541" y1="133.3" x2="586" y2="133.3" stroke="#222" stroke-width="1" />
<path d="M593.3,133.3 L581.3,130.70000000000002 L584.3,133.3 L581.3,136.10000000000002 Z" fill="#111"/>
<text x="-0.9" y="165.8" font-size="15.2" text-anchor="start" fill="#111" >C</text>
<text x="95.5" y="171.6" font-size="9.3" text-anchor="middle" fill="#111" >WT</text>
<text x="196.6" y="171.6" font-size="9.3" text-anchor="middle" fill="#111" >KO</text>
<text x="0" y="0" font-size="10.1" text-anchor="middle" fill="#111" transform="translate(23.9,210.4) rotate(-90)">total</text>
<text x="0" y="0" font-size="9.6" text-anchor="middle" fill="#111" transform="translate(23.7,321.5) rotate(-90)">MK</text>
<path d="M34.2,174.8 L31.6,186.8 L34.2,183.8 L36.800000000000004,186.8 Z" fill="#111"/>
<line x1="34.2" y1="184" x2="34.2" y2="241.2" stroke="#222" stroke-width="1" />
<text x="0" y="0" font-size="9.9" text-anchor="middle" fill="#111" transform="translate(37.4,274.6) rotate(-90)">viability dye</text>
<line x1="34.2" y1="304.1" x2="34.2" y2="372.6" stroke="#222" stroke-width="1" />
<line x1="44.4" y1="384.5" x2="121.2" y2="384.5" stroke="#222" stroke-width="1" />
<text x="147" y="388.3" font-size="9.7" text-anchor="middle" fill="#111" >AnnexinV</text>
<line x1="172.5" y1="384.5" x2="236" y2="384.5" stroke="#222" stroke-width="1" />
<path d="M244.2,384.5 L232.2,381.9 L235.2,384.5 L232.2,387.3 Z" fill="#111"/>
<defs>
<filter id="zo" x="-20%" y="-20%" width="140%" height="140%" color-interpolation-filters="sRGB">
<feGaussianBlur in="SourceAlpha" stdDeviation="3" result="b"/>
<feComposite in="SourceAlpha" in2="b" operator="arithmetic" k2="1.8" k3="-1.8" result="rim"/>
<feFlood flood-color="#000"/>
<feComposite in2="rim" operator="in" result="sh"/>
<feMerge><feMergeNode in="SourceGraphic"/><feMergeNode in="sh"/></feMerge>
</filter>
<filter id="zi" x="-30%" y="-30%" width="160%" height="160%" color-interpolation-filters="sRGB">
<feGaussianBlur in="SourceAlpha" stdDeviation="1.0" result="b"/>
<feComposite in="SourceAlpha" in2="b" operator="arithmetic" k2="1.6" k3="-1.6" result="rim"/>
<feFlood flood-color="#000"/>
<feComposite in2="rim" operator="in" result="sh"/>
<feMerge><feMergeNode in="SourceGraphic"/><feMergeNode in="sh"/></feMerge>
</filter>
<filter id="bl" x="-50%" y="-50%" width="200%" height="200%"><feGaussianBlur stdDeviation="1.5"/></filter>
</defs>
<rect x="102.2" y="220.1" width="0.6" height="0.6" fill="#9a9a9a"/>
<rect x="117.2" y="220.4" width="0.8" height="0.8" fill="#9a9a9a"/>
<rect x="106.0" y="219.1" width="0.9" height="0.9" fill="#9a9a9a"/>
<rect x="109.3" y="216.9" width="0.9" height="0.9" fill="#9a9a9a"/>
<rect x="118.2" y="219.7" width="0.7" height="0.7" fill="#9a9a9a"/>
<rect x="95.1" y="205.3" width="0.6" height="0.6" fill="#9a9a9a"/>
<rect x="95.2" y="210.3" width="0.7" height="0.7" fill="#9a9a9a"/>
<rect x="125.8" y="220.7" width="0.8" height="0.8" fill="#9a9a9a"/>
<rect x="93.0" y="221.1" width="0.8" height="0.8" fill="#9a9a9a"/>
<rect x="89.5" y="209.4" width="0.6" height="0.6" fill="#9a9a9a"/>
<rect x="91.3" y="208.0" width="0.8" height="0.8" fill="#9a9a9a"/>
<rect x="119.2" y="224.1" width="0.6" height="0.6" fill="#9a9a9a"/>
<rect x="95.6" y="207.0" width="0.9" height="0.9" fill="#9a9a9a"/>
<rect x="107.1" y="204.0" width="0.9" height="0.9" fill="#9a9a9a"/>
<rect x="99.6" y="220.8" width="0.7" height="0.7" fill="#9a9a9a"/>
<rect x="102.4" y="207.9" width="0.8" height="0.8" fill="#9a9a9a"/>
<rect x="103.8" y="206.8" width="0.6" height="0.6" fill="#9a9a9a"/>
<rect x="113.4" y="222.0" width="0.8" height="0.8" fill="#9a9a9a"/>
<rect x="112.4" y="224.5" width="0.6" height="0.6" fill="#9a9a9a"/>
<rect x="109.3" y="214.0" width="0.8" height="0.8" fill="#9a9a9a"/>
<rect x="99.5" y="222.8" width="0.9" height="0.9" fill="#9a9a9a"/>
<rect x="94.4" y="209.7" width="0.6" height="0.6" fill="#9a9a9a"/>
<rect x="116.7" y="211.1" width="0.6" height="0.6" fill="#9a9a9a"/>
<rect x="120.9" y="220.8" width="0.9" height="0.9" fill="#9a9a9a"/>
<rect x="102.7" y="224.6" width="0.8" height="0.8" fill="#9a9a9a"/>
<rect x="117.1" y="216.6" width="0.7" height="0.7" fill="#9a9a9a"/>
<rect x="95.2" y="207.5" width="0.7" height="0.7" fill="#9a9a9a"/>
<rect x="105.7" y="209.8" width="0.7" height="0.7" fill="#9a9a9a"/>
<rect x="98.4" y="215.1" width="0.9" height="0.9" fill="#9a9a9a"/>
<rect x="114.3" y="196.9" width="0.8" height="0.8" fill="#9a9a9a"/>
<rect x="96.3" y="186.8" width="0.9" height="0.9" fill="#9a9a9a"/>
<rect x="111.1" y="213.5" width="0.7" height="0.7" fill="#9a9a9a"/>
<rect x="114.4" y="226.9" width="0.6" height="0.6" fill="#9a9a9a"/>
<rect x="90.4" y="216.3" width="0.8" height="0.8" fill="#9a9a9a"/>
<rect x="103.8" y="220.5" width="0.8" height="0.8" fill="#9a9a9a"/>
<rect x="97.6" y="209.4" width="0.7" height="0.7" fill="#9a9a9a"/>
<rect x="100.2" y="203.8" width="0.6" height="0.6" fill="#9a9a9a"/>
<rect x="120.9" y="210.5" width="0.9" height="0.9" fill="#9a9a9a"/>
<rect x="96.2" y="221.0" width="0.9" height="0.9" fill="#9a9a9a"/>
<rect x="102.4" y="212.3" width="0.6" height="0.6" fill="#9a9a9a"/>
<rect x="116.8" y="214.0" width="0.6" height="0.6" fill="#9a9a9a"/>
<rect x="103.1" y="217.8" width="0.6" height="0.6" fill="#9a9a9a"/>
<rect x="92.5" y="209.9" width="0.8" height="0.8" fill="#9a9a9a"/>
<rect x="101.8" y="212.5" width="0.7" height="0.7" fill="#9a9a9a"/>
<rect x="100.3" y="211.3" width="0.8" height="0.8" fill="#9a9a9a"/>
<rect x="119.4" y="211.2" width="0.9" height="0.9" fill="#9a9a9a"/>
<rect x="120.3" y="228.6" width="0.9" height="0.9" fill="#9a9a9a"/>
<rect x="95.6" y="216.1" width="0.7" height="0.7" fill="#9a9a9a"/>
<rect x="113.1" y="220.5" width="0.8" height="0.8" fill="#9a9a9a"/>
<rect x="97.6" y="214.3" width="0.8" height="0.8" fill="#9a9a9a"/>
<rect x="113.3" y="225.0" width="0.6" height="0.6" fill="#9a9a9a"/>
<rect x="105.5" y="206.6" width="0.6" height="0.6" fill="#9a9a9a"/>
<rect x="102.2" y="207.7" width="0.8" height="0.8" fill="#9a9a9a"/>
<rect x="113.6" y="209.9" width="0.7" height="0.7" fill="#9a9a9a"/>
<rect x="101.2" y="221.2" width="0.7" height="0.7" fill="#9a9a9a"/>
<rect x="112.0" y="197.7" width="0.7" height="0.7" fill="#9a9a9a"/>
<rect x="109.0" y="226.1" width="0.6" height="0.6" fill="#9a9a9a"/>
<rect x="124.4" y="213.8" width="0.9" height="0.9" fill="#9a9a9a"/>
<rect x="104.0" y="230.3" width="0.8" height="0.8" fill="#9a9a9a"/>
<rect x="132.3" y="213.1" width="0.8" height="0.8" fill="#9a9a9a"/>
<rect x="109.5" y="217.3" width="0.9" height="0.9" fill="#9a9a9a"/>
<rect x="107.4" y="221.4" width="0.6" height="0.6" fill="#9a9a9a"/>
<rect x="106.4" y="211.0" width="0.6" height="0.6" fill="#9a9a9a"/>
<rect x="121.2" y="205.6" width="0.7" height="0.7" fill="#9a9a9a"/>
<rect x="98.2" y="215.9" width="0.8" height="0.8" fill="#9a9a9a"/>
<rect x="127.7" y="227.5" width="0.9" height="0.9" fill="#9a9a9a"/>
<rect x="110.6" y="218.0" width="0.7" height="0.7" fill="#9a9a9a"/>
<rect x="119.5" y="217.3" width="0.9" height="0.9" fill="#9a9a9a"/>
<rect x="107.1" y="209.7" width="0.9" height="0.9" fill="#9a9a9a"/>
<rect x="99.4" y="207.2" width="0.7" height="0.7" fill="#9a9a9a"/>
<rect x="124.5" y="217.4" width="0.6" height="0.6" fill="#9a9a9a"/>
<rect x="108.5" y="208.9" width="0.8" height="0.8" fill="#9a9a9a"/>
<rect x="108.0" y="226.5" width="0.8" height="0.8" fill="#9a9a9a"/>
<rect x="104.3" y="225.4" width="0.7" height="0.7" fill="#9a9a9a"/>
<rect x="121.7" y="221.1" width="0.9" height="0.9" fill="#9a9a9a"/>
<rect x="94.4" y="199.3" width="0.9" height="0.9" fill="#9a9a9a"/>
<rect x="115.5" y="196.8" width="0.7" height="0.7" fill="#9a9a9a"/>
<rect x="91.9" y="212.6" width="0.6" height="0.6" fill="#9a9a9a"/>
<rect x="118.3" y="202.6" width="0.6" height="0.6" fill="#9a9a9a"/>
<rect x="106.0" y="209.4" width="0.7" height="0.7" fill="#9a9a9a"/>
<rect x="95.8" y="211.9" width="0.9" height="0.9" fill="#9a9a9a"/>
<rect x="106.1" y="210.4" width="0.6" height="0.6" fill="#9a9a9a"/>
<rect x="105.1" y="223.1" width="0.6" height="0.6" fill="#9a9a9a"/>
<rect x="90.9" y="214.4" width="0.6" height="0.6" fill="#9a9a9a"/>
<rect x="90.8" y="219.8" width="0.7" height="0.7" fill="#9a9a9a"/>
<rect x="100.7" y="204.7" width="0.9" height="0.9" fill="#9a9a9a"/>
<rect x="96.7" y="214.6" width="0.8" height="0.8" fill="#9a9a9a"/>
<rect x="125.6" y="205.1" width="0.7" height="0.7" fill="#9a9a9a"/>
<rect x="108.2" y="210.4" width="0.6" height="0.6" fill="#9a9a9a"/>
<rect x="97.5" y="220.5" width="0.7" height="0.7" fill="#9a9a9a"/>
<rect x="98.2" y="218.0" width="0.8" height="0.8" fill="#9a9a9a"/>
<rect x="110.0" y="194.2" width="0.7" height="0.7" fill="#9a9a9a"/>
<rect x="119.7" y="209.7" width="0.8" height="0.8" fill="#9a9a9a"/>
<rect x="119.2" y="231.2" width="0.9" height="0.9" fill="#9a9a9a"/>
<rect x="110.2" y="239.2" width="0.9" height="0.9" fill="#9a9a9a"/>
<rect x="109.9" y="211.1" width="0.7" height="0.7" fill="#9a9a9a"/>
<rect x="111.2" y="224.0" width="0.9" height="0.9" fill="#9a9a9a"/>
<rect x="101.1" y="220.6" width="0.8" height="0.8" fill="#9a9a9a"/>
<rect x="113.8" y="220.2" width="0.8" height="0.8" fill="#9a9a9a"/>
<rect x="93.8" y="211.4" width="0.6" height="0.6" fill="#9a9a9a"/>
<rect x="95.1" y="223.0" width="0.8" height="0.8" fill="#9a9a9a"/>
<rect x="101.0" y="214.7" width="0.7" height="0.7" fill="#9a9a9a"/>
<rect x="110.1" y="214.2" width="0.8" height="0.8" fill="#9a9a9a"/>
<rect x="101.7" y="236.5" width="0.7" height="0.7" fill="#9a9a9a"/>
<rect x="104.3" y="220.2" width="0.9" height="0.9" fill="#9a9a9a"/>
<rect x="114.7" y="202.8" width="0.8" height="0.8" fill="#9a9a9a"/>
<rect x="93.7" y="221.9" width="0.9" height="0.9" fill="#9a9a9a"/>
<rect x="103.5" y="210.9" width="0.6" height="0.6" fill="#9a9a9a"/>
<rect x="107.1" y="208.9" width="0.6" height="0.6" fill="#9a9a9a"/>
<rect x="104.8" y="216.8" width="0.6" height="0.6" fill="#9a9a9a"/>
<path d="M52.63,230.12 C53.11,229.03 53.30,229.25 55.46,228.56 C57.62,227.87 62.20,226.77 65.58,225.98 C68.97,225.18 72.50,224.47 75.76,223.78 C79.03,223.10 83.07,222.31 85.16,221.88 C87.25,221.45 86.33,221.43 88.29,221.19 C90.25,220.96 94.41,220.58 96.93,220.50 C99.45,220.42 101.88,220.57 103.41,220.70 C104.95,220.82 105.73,220.65 106.14,221.26 C106.56,221.87 106.16,223.12 105.91,224.37 C105.66,225.61 105.11,227.32 104.64,228.75 C104.17,230.18 103.71,231.65 103.08,232.95 C102.45,234.25 101.72,235.32 100.85,236.53 C99.98,237.74 99.03,239.12 97.85,240.21 C96.68,241.31 95.10,242.36 93.80,243.11 C92.50,243.85 91.42,244.05 90.06,244.67 C88.71,245.30 86.96,246.28 85.67,246.87 C84.37,247.46 83.06,247.73 82.29,248.21 C81.52,248.70 81.55,249.82 81.04,249.80 C80.53,249.78 80.05,248.82 79.21,248.09 C78.38,247.36 77.42,246.29 76.02,245.42 C74.62,244.55 72.54,243.61 70.82,242.87 C69.10,242.12 67.39,241.64 65.70,240.96 C64.00,240.28 62.33,239.57 60.64,238.78 C58.95,237.98 56.89,236.80 55.55,236.18 C54.22,235.56 53.11,236.07 52.63,235.06 C52.14,234.05 52.16,231.20 52.63,230.12Z" fill="#bcbcbc" filter="url(#zo)"/>
<path d="M52.63,230.12 C53.11,229.03 53.30,229.25 55.46,228.56 C57.62,227.87 62.20,226.77 65.58,225.98 C68.97,225.18 72.50,224.47 75.76,223.78 C79.03,223.10 83.07,222.31 85.16,221.88 C87.25,221.45 86.33,221.43 88.29,221.19 C90.25,220.96 94.41,220.58 96.93,220.50 C99.45,220.42 101.88,220.57 103.41,220.70 C104.95,220.82 105.73,220.65 106.14,221.26 C106.56,221.87 106.16,223.12 105.91,224.37 C105.66,225.61 105.11,227.32 104.64,228.75 C104.17,230.18 103.71,231.65 103.08,232.95 C102.45,234.25 101.72,235.32 100.85,236.53 C99.98,237.74 99.03,239.12 97.85,240.21 C96.68,241.31 95.10,242.36 93.80,243.11 C92.50,243.85 91.42,244.05 90.06,244.67 C88.71,245.30 86.96,246.28 85.67,246.87 C84.37,247.46 83.06,247.73 82.29,248.21 C81.52,248.70 81.55,249.82 81.04,249.80 C80.53,249.78 80.05,248.82 79.21,248.09 C78.38,247.36 77.42,246.29 76.02,245.42 C74.62,244.55 72.54,243.61 70.82,242.87 C69.10,242.12 67.39,241.64 65.70,240.96 C64.00,240.28 62.33,239.57 60.64,238.78 C58.95,237.98 56.89,236.80 55.55,236.18 C54.22,235.56 53.11,236.07 52.63,235.06 C52.14,234.05 52.16,231.20 52.63,230.12Z" fill="none" stroke="#080808" stroke-width="1.6" stroke-linejoin="round"/>
<path d="M81.04,249.80 C80.74,249.52 80.05,248.82 79.21,248.09 C78.38,247.36 77.42,246.29 76.02,245.42 C74.62,244.55 72.54,243.61 70.82,242.87 C69.10,242.12 67.39,241.64 65.70,240.96 C64.00,240.28 62.33,239.57 60.64,238.78 C58.95,237.98 56.89,236.80 55.55,236.18 C54.22,235.56 53.11,236.07 52.63,235.06 C52.14,234.05 52.63,230.94 52.63,230.12" fill="none" stroke="#080808" stroke-width="2.6" stroke-linecap="round"/>
<path d="M105.91,224.37 C105.70,225.10 105.11,227.32 104.64,228.75 C104.17,230.18 103.71,231.65 103.08,232.95 C102.45,234.25 101.72,235.32 100.85,236.53 C99.98,237.74 99.03,239.12 97.85,240.21 C96.68,241.31 95.10,242.36 93.80,243.11 C92.50,243.85 91.42,244.05 90.06,244.67 C88.71,245.30 86.96,246.28 85.67,246.87 C84.37,247.46 82.85,247.99 82.29,248.21" fill="none" stroke="#080808" stroke-width="2.3" stroke-linecap="round"/>
<path d="M67.15,234.14 C67.15,232.55 69.62,230.77 71.55,229.52 C73.47,228.27 76.04,227.28 78.70,226.66 C81.36,226.04 84.84,225.67 87.50,225.78 C90.16,225.89 93.09,226.29 94.65,227.32 C96.21,228.35 96.85,230.25 96.85,231.94 C96.85,233.63 96.21,235.97 94.65,237.44 C93.09,238.91 90.16,240.10 87.50,240.74 C84.84,241.38 81.36,241.56 78.70,241.29 C76.04,241.01 73.47,240.28 71.55,239.09 C69.62,237.90 67.15,235.74 67.15,234.14Z" fill="#d0d0d0" filter="url(#zi)"/>
<path d="M67.15,234.14 C67.15,232.55 69.62,230.77 71.55,229.52 C73.47,228.27 76.04,227.28 78.70,226.66 C81.36,226.04 84.84,225.67 87.50,225.78 C90.16,225.89 93.09,226.29 94.65,227.32 C96.21,228.35 96.85,230.25 96.85,231.94 C96.85,233.63 96.21,235.97 94.65,237.44 C93.09,238.91 90.16,240.10 87.50,240.74 C84.84,241.38 81.36,241.56 78.70,241.29 C76.04,241.01 73.47,240.28 71.55,239.09 C69.62,237.90 67.15,235.74 67.15,234.14Z" fill="none" stroke="#f4f4f4" stroke-width="0.7"/>
<path d="M70.12,233.83 C70.12,232.56 72.10,231.13 73.64,230.14 C75.18,229.14 77.23,228.35 79.36,227.85 C81.49,227.35 84.27,227.06 86.40,227.14 C88.53,227.23 90.87,227.55 92.12,228.38 C93.37,229.20 93.88,230.72 93.88,232.07 C93.88,233.42 93.37,235.30 92.12,236.47 C90.87,237.65 88.53,238.60 86.40,239.11 C84.27,239.63 81.49,239.77 79.36,239.55 C77.23,239.33 75.18,238.75 73.64,237.79 C72.10,236.84 70.12,235.11 70.12,233.83Z" fill="#d0d0d0" filter="url(#zi)"/>
<path d="M70.12,233.83 C70.12,232.56 72.10,231.13 73.64,230.14 C75.18,229.14 77.23,228.35 79.36,227.85 C81.49,227.35 84.27,227.06 86.40,227.14 C88.53,227.23 90.87,227.55 92.12,228.38 C93.37,229.20 93.88,230.72 93.88,232.07 C93.88,233.42 93.37,235.30 92.12,236.47 C90.87,237.65 88.53,238.60 86.40,239.11 C84.27,239.63 81.49,239.77 79.36,239.55 C77.23,239.33 75.18,238.75 73.64,237.79 C72.10,236.84 70.12,235.11 70.12,233.83Z" fill="none" stroke="#f4f4f4" stroke-width="0.7"/>
<path d="M72.94,233.54 C72.94,232.57 74.45,231.48 75.63,230.72 C76.80,229.96 78.37,229.36 79.99,228.98 C81.61,228.60 83.73,228.37 85.36,228.44 C86.98,228.51 88.77,228.75 89.72,229.38 C90.67,230.01 91.06,231.17 91.06,232.20 C91.06,233.23 90.67,234.66 89.72,235.55 C88.77,236.45 86.98,237.17 85.36,237.57 C83.73,237.96 81.61,238.07 79.99,237.90 C78.37,237.73 76.80,237.29 75.63,236.56 C74.45,235.83 72.94,234.51 72.94,233.54Z" fill="#d0d0d0" filter="url(#zi)"/>
<path d="M72.94,233.54 C72.94,232.57 74.45,231.48 75.63,230.72 C76.80,229.96 78.37,229.36 79.99,228.98 C81.61,228.60 83.73,228.37 85.36,228.44 C86.98,228.51 88.77,228.75 89.72,229.38 C90.67,230.01 91.06,231.17 91.06,232.20 C91.06,233.23 90.67,234.66 89.72,235.55 C88.77,236.45 86.98,237.17 85.36,237.57 C83.73,237.96 81.61,238.07 79.99,237.90 C78.37,237.73 76.80,237.29 75.63,236.56 C74.45,235.83 72.94,234.51 72.94,233.54Z" fill="none" stroke="#f4f4f4" stroke-width="0.7"/>
<path d="M75.61,233.26 C75.61,232.58 76.68,231.81 77.51,231.28 C78.33,230.74 79.44,230.31 80.58,230.05 C81.72,229.78 83.22,229.62 84.36,229.67 C85.51,229.71 86.77,229.89 87.44,230.33 C88.11,230.77 88.39,231.59 88.39,232.32 C88.39,233.04 88.11,234.05 87.44,234.68 C86.77,235.31 85.51,235.82 84.36,236.10 C83.22,236.38 81.72,236.45 80.58,236.34 C79.44,236.22 78.33,235.90 77.51,235.39 C76.68,234.88 75.61,233.95 75.61,233.26Z" fill="#d0d0d0" filter="url(#zi)"/>
<path d="M75.61,233.26 C75.61,232.58 76.68,231.81 77.51,231.28 C78.33,230.74 79.44,230.31 80.58,230.05 C81.72,229.78 83.22,229.62 84.36,229.67 C85.51,229.71 86.77,229.89 87.44,230.33 C88.11,230.77 88.39,231.59 88.39,232.32 C88.39,233.04 88.11,234.05 87.44,234.68 C86.77,235.31 85.51,235.82 84.36,236.10 C83.22,236.38 81.72,236.45 80.58,236.34 C79.44,236.22 78.33,235.90 77.51,235.39 C76.68,234.88 75.61,233.95 75.61,233.26Z" fill="none" stroke="#f4f4f4" stroke-width="0.7"/>
<path d="M78.14,233.00 C78.14,232.59 78.78,232.12 79.28,231.80 C79.78,231.48 80.45,231.22 81.14,231.06 C81.83,230.89 82.74,230.80 83.43,230.83 C84.12,230.86 84.88,230.96 85.29,231.23 C85.69,231.49 85.86,231.99 85.86,232.43 C85.86,232.87 85.69,233.48 85.29,233.86 C84.88,234.24 84.12,234.55 83.43,234.72 C82.74,234.88 81.83,234.93 81.14,234.86 C80.45,234.79 79.78,234.60 79.28,234.29 C78.78,233.98 78.14,233.42 78.14,233.00Z" fill="#d0d0d0" filter="url(#zi)"/>
<path d="M78.14,233.00 C78.14,232.59 78.78,232.12 79.28,231.80 C79.78,231.48 80.45,231.22 81.14,231.06 C81.83,230.89 82.74,230.80 83.43,230.83 C84.12,230.86 84.88,230.96 85.29,231.23 C85.69,231.49 85.86,231.99 85.86,232.43 C85.86,232.87 85.69,233.48 85.29,233.86 C84.88,234.24 84.12,234.55 83.43,234.72 C82.74,234.88 81.83,234.93 81.14,234.86 C80.45,234.79 79.78,234.60 79.28,234.29 C78.78,233.98 78.14,233.42 78.14,233.00Z" fill="none" stroke="#f4f4f4" stroke-width="0.7"/>
<path d="M80.52,232.75 C80.52,232.59 80.76,232.42 80.95,232.29 C81.15,232.17 81.40,232.07 81.67,232.01 C81.94,231.94 82.28,231.91 82.55,231.92 C82.82,231.93 83.11,231.97 83.27,232.07 C83.42,232.17 83.48,232.37 83.48,232.53 C83.48,232.70 83.42,232.94 83.27,233.08 C83.11,233.23 82.82,233.35 82.55,233.41 C82.28,233.48 81.94,233.50 81.67,233.47 C81.40,233.44 81.15,233.37 80.95,233.25 C80.76,233.13 80.52,232.91 80.52,232.75Z" fill="#d0d0d0" filter="url(#zi)"/>
<path d="M80.52,232.75 C80.52,232.59 80.76,232.42 80.95,232.29 C81.15,232.17 81.40,232.07 81.67,232.01 C81.94,231.94 82.28,231.91 82.55,231.92 C82.82,231.93 83.11,231.97 83.27,232.07 C83.42,232.17 83.48,232.37 83.48,232.53 C83.48,232.70 83.42,232.94 83.27,233.08 C83.11,233.23 82.82,233.35 82.55,233.41 C82.28,233.48 81.94,233.50 81.67,233.47 C81.40,233.44 81.15,233.37 80.95,233.25 C80.76,233.13 80.52,232.91 80.52,232.75Z" fill="none" stroke="#f4f4f4" stroke-width="0.7"/>
<ellipse cx="82" cy="232.6" rx="1.5" ry="1.2" fill="#1a1a1a"/>
<path d="M99,220.2 C101.5,219 104.5,218.6 107.5,219.8 C108,221.5 107.8,223.5 107,224.5 C105,223 102,221.8 99,221.2 Z" fill="#080808"/>
<circle cx="80.2" cy="250.8" r="2.1" fill="#080808"/>
<path d="M106.9,221.5 C106.6,218 106.2,215.5 105.9,213.5 C105.6,212 104.8,211 104.3,210.4" fill="none" stroke="#080808" stroke-width="2.2" stroke-linecap="round"/>
<ellipse cx="111.2" cy="208.7" rx="4.1" ry="3.3" transform="rotate(-35 111.2 208.7)" fill="#080808"/>
<path d="M49.3,224.2 C51.5,226 51.8,240 49.3,245.6 Z" fill="#9a9a9a" stroke="#333" stroke-width="0.7"/>
<path d="M74,269.2 C76,268 79,267.6 82,267.7 C85,267.5 88,268 90,269.2 Z" fill="#222" stroke="#111" stroke-width="0.8"/>
<rect x="49.3" y="175.5" width="93.0" height="93.7" fill="none" stroke="#8c8c8c" stroke-width="1" />
<line x1="46.9" y1="178.6" x2="49.3" y2="178.6" stroke="#444" stroke-width="0.8" />
<line x1="46.9" y1="193.4" x2="49.3" y2="193.4" stroke="#444" stroke-width="0.8" />
<line x1="48.099999999999994" y1="188.94" x2="49.3" y2="188.94" stroke="#999" stroke-width="0.6" />
<line x1="48.099999999999994" y1="186.34" x2="49.3" y2="186.34" stroke="#999" stroke-width="0.6" />
<line x1="48.099999999999994" y1="184.49" x2="49.3" y2="184.49" stroke="#999" stroke-width="0.6" />
<line x1="48.099999999999994" y1="183.06" x2="49.3" y2="183.06" stroke="#999" stroke-width="0.6" />
<line x1="48.099999999999994" y1="181.88" x2="49.3" y2="181.88" stroke="#999" stroke-width="0.6" />
<line x1="48.099999999999994" y1="180.89" x2="49.3" y2="180.89" stroke="#999" stroke-width="0.6" />
<line x1="48.099999999999994" y1="180.03" x2="49.3" y2="180.03" stroke="#999" stroke-width="0.6" />
<line x1="48.099999999999994" y1="179.28" x2="49.3" y2="179.28" stroke="#999" stroke-width="0.6" />
<line x1="46.9" y1="208.2" x2="49.3" y2="208.2" stroke="#444" stroke-width="0.8" />
<line x1="48.099999999999994" y1="203.74" x2="49.3" y2="203.74" stroke="#999" stroke-width="0.6" />
<line x1="48.099999999999994" y1="201.14" x2="49.3" y2="201.14" stroke="#999" stroke-width="0.6" />
<line x1="48.099999999999994" y1="199.29" x2="49.3" y2="199.29" stroke="#999" stroke-width="0.6" />
<line x1="48.099999999999994" y1="197.86" x2="49.3" y2="197.86" stroke="#999" stroke-width="0.6" />
<line x1="48.099999999999994" y1="196.68" x2="49.3" y2="196.68" stroke="#999" stroke-width="0.6" />
<line x1="48.099999999999994" y1="195.69" x2="49.3" y2="195.69" stroke="#999" stroke-width="0.6" />
<line x1="48.099999999999994" y1="194.83" x2="49.3" y2="194.83" stroke="#999" stroke-width="0.6" />
<line x1="48.099999999999994" y1="194.08" x2="49.3" y2="194.08" stroke="#999" stroke-width="0.6" />
<line x1="46.9" y1="223.0" x2="49.3" y2="223.0" stroke="#444" stroke-width="0.8" />
<line x1="48.099999999999994" y1="218.54" x2="49.3" y2="218.54" stroke="#999" stroke-width="0.6" />
<line x1="48.099999999999994" y1="215.94" x2="49.3" y2="215.94" stroke="#999" stroke-width="0.6" />
<line x1="48.099999999999994" y1="214.09" x2="49.3" y2="214.09" stroke="#999" stroke-width="0.6" />
<line x1="48.099999999999994" y1="212.66" x2="49.3" y2="212.66" stroke="#999" stroke-width="0.6" />
<line x1="48.099999999999994" y1="211.48" x2="49.3" y2="211.48" stroke="#999" stroke-width="0.6" />
<line x1="48.099999999999994" y1="210.49" x2="49.3" y2="210.49" stroke="#999" stroke-width="0.6" />
<line x1="48.099999999999994" y1="209.63" x2="49.3" y2="209.63" stroke="#999" stroke-width="0.6" />
<line x1="48.099999999999994" y1="208.88" x2="49.3" y2="208.88" stroke="#999" stroke-width="0.6" />
<line x1="46.9" y1="237.8" x2="49.3" y2="237.8" stroke="#444" stroke-width="0.8" />
<line x1="48.099999999999994" y1="233.34" x2="49.3" y2="233.34" stroke="#999" stroke-width="0.6" />
<line x1="48.099999999999994" y1="230.74" x2="49.3" y2="230.74" stroke="#999" stroke-width="0.6" />
<line x1="48.099999999999994" y1="228.89" x2="49.3" y2="228.89" stroke="#999" stroke-width="0.6" />
<line x1="48.099999999999994" y1="227.46" x2="49.3" y2="227.46" stroke="#999" stroke-width="0.6" />
<line x1="48.099999999999994" y1="226.28" x2="49.3" y2="226.28" stroke="#999" stroke-width="0.6" />
<line x1="48.099999999999994" y1="225.29" x2="49.3" y2="225.29" stroke="#999" stroke-width="0.6" />
<line x1="48.099999999999994" y1="224.43" x2="49.3" y2="224.43" stroke="#999" stroke-width="0.6" />
<line x1="48.099999999999994" y1="223.68" x2="49.3" y2="223.68" stroke="#999" stroke-width="0.6" />
<line x1="46.9" y1="252.6" x2="49.3" y2="252.6" stroke="#444" stroke-width="0.8" />
<line x1="48.099999999999994" y1="248.14" x2="49.3" y2="248.14" stroke="#999" stroke-width="0.6" />
<line x1="48.099999999999994" y1="245.54" x2="49.3" y2="245.54" stroke="#999" stroke-width="0.6" />
<line x1="48.099999999999994" y1="243.69" x2="49.3" y2="243.69" stroke="#999" stroke-width="0.6" />
<line x1="48.099999999999994" y1="242.26" x2="49.3" y2="242.26" stroke="#999" stroke-width="0.6" />
<line x1="48.099999999999994" y1="241.08" x2="49.3" y2="241.08" stroke="#999" stroke-width="0.6" />
<line x1="48.099999999999994" y1="240.09" x2="49.3" y2="240.09" stroke="#999" stroke-width="0.6" />
<line x1="48.099999999999994" y1="239.23" x2="49.3" y2="239.23" stroke="#999" stroke-width="0.6" />
<line x1="48.099999999999994" y1="238.48" x2="49.3" y2="238.48" stroke="#999" stroke-width="0.6" />
<line x1="46.9" y1="267.4" x2="49.3" y2="267.4" stroke="#444" stroke-width="0.8" />
<line x1="48.099999999999994" y1="262.94" x2="49.3" y2="262.94" stroke="#999" stroke-width="0.6" />
<line x1="48.099999999999994" y1="260.34" x2="49.3" y2="260.34" stroke="#999" stroke-width="0.6" />
<line x1="48.099999999999994" y1="258.49" x2="49.3" y2="258.49" stroke="#999" stroke-width="0.6" />
<line x1="48.099999999999994" y1="257.06" x2="49.3" y2="257.06" stroke="#999" stroke-width="0.6" />
<line x1="48.099999999999994" y1="255.88" x2="49.3" y2="255.88" stroke="#999" stroke-width="0.6" />
<line x1="48.099999999999994" y1="254.89" x2="49.3" y2="254.89" stroke="#999" stroke-width="0.6" />
<line x1="48.099999999999994" y1="254.03" x2="49.3" y2="254.03" stroke="#999" stroke-width="0.6" />
<line x1="48.099999999999994" y1="253.28" x2="49.3" y2="253.28" stroke="#999" stroke-width="0.6" />
<line x1="49.6" y1="269.2" x2="49.6" y2="271.59999999999997" stroke="#444" stroke-width="0.8" />
<line x1="54.96" y1="269.2" x2="54.96" y2="270.4" stroke="#999" stroke-width="0.6" />
<line x1="58.09" y1="269.2" x2="58.09" y2="270.4" stroke="#999" stroke-width="0.6" />
<line x1="60.32" y1="269.2" x2="60.32" y2="270.4" stroke="#999" stroke-width="0.6" />
<line x1="62.04" y1="269.2" x2="62.04" y2="270.4" stroke="#999" stroke-width="0.6" />
<line x1="63.45" y1="269.2" x2="63.45" y2="270.4" stroke="#999" stroke-width="0.6" />
<line x1="64.64" y1="269.2" x2="64.64" y2="270.4" stroke="#999" stroke-width="0.6" />
<line x1="65.68" y1="269.2" x2="65.68" y2="270.4" stroke="#999" stroke-width="0.6" />
<line x1="66.59" y1="269.2" x2="66.59" y2="270.4" stroke="#999" stroke-width="0.6" />
<line x1="67.4" y1="269.2" x2="67.4" y2="271.59999999999997" stroke="#444" stroke-width="0.8" />
<line x1="72.76" y1="269.2" x2="72.76" y2="270.4" stroke="#999" stroke-width="0.6" />
<line x1="75.89" y1="269.2" x2="75.89" y2="270.4" stroke="#999" stroke-width="0.6" />
<line x1="78.12" y1="269.2" x2="78.12" y2="270.4" stroke="#999" stroke-width="0.6" />
<line x1="79.84" y1="269.2" x2="79.84" y2="270.4" stroke="#999" stroke-width="0.6" />
<line x1="81.25" y1="269.2" x2="81.25" y2="270.4" stroke="#999" stroke-width="0.6" />
<line x1="82.44" y1="269.2" x2="82.44" y2="270.4" stroke="#999" stroke-width="0.6" />
<line x1="83.48" y1="269.2" x2="83.48" y2="270.4" stroke="#999" stroke-width="0.6" />
<line x1="84.39" y1="269.2" x2="84.39" y2="270.4" stroke="#999" stroke-width="0.6" />
<line x1="85.2" y1="269.2" x2="85.2" y2="271.59999999999997" stroke="#444" stroke-width="0.8" />
<line x1="90.56" y1="269.2" x2="90.56" y2="270.4" stroke="#999" stroke-width="0.6" />
<line x1="93.69" y1="269.2" x2="93.69" y2="270.4" stroke="#999" stroke-width="0.6" />
<line x1="95.92" y1="269.2" x2="95.92" y2="270.4" stroke="#999" stroke-width="0.6" />
<line x1="97.64" y1="269.2" x2="97.64" y2="270.4" stroke="#999" stroke-width="0.6" />
<line x1="99.05" y1="269.2" x2="99.05" y2="270.4" stroke="#999" stroke-width="0.6" />
<line x1="100.24" y1="269.2" x2="100.24" y2="270.4" stroke="#999" stroke-width="0.6" />
<line x1="101.28" y1="269.2" x2="101.28" y2="270.4" stroke="#999" stroke-width="0.6" />
<line x1="102.19" y1="269.2" x2="102.19" y2="270.4" stroke="#999" stroke-width="0.6" />
<line x1="103.0" y1="269.2" x2="103.0" y2="271.59999999999997" stroke="#444" stroke-width="0.8" />
<line x1="108.36" y1="269.2" x2="108.36" y2="270.4" stroke="#999" stroke-width="0.6" />
<line x1="111.49" y1="269.2" x2="111.49" y2="270.4" stroke="#999" stroke-width="0.6" />
<line x1="113.72" y1="269.2" x2="113.72" y2="270.4" stroke="#999" stroke-width="0.6" />
<line x1="115.44" y1="269.2" x2="115.44" y2="270.4" stroke="#999" stroke-width="0.6" />
<line x1="116.85" y1="269.2" x2="116.85" y2="270.4" stroke="#999" stroke-width="0.6" />
<line x1="118.04" y1="269.2" x2="118.04" y2="270.4" stroke="#999" stroke-width="0.6" />
<line x1="119.08" y1="269.2" x2="119.08" y2="270.4" stroke="#999" stroke-width="0.6" />
<line x1="119.99" y1="269.2" x2="119.99" y2="270.4" stroke="#999" stroke-width="0.6" />
<line x1="120.8" y1="269.2" x2="120.8" y2="271.59999999999997" stroke="#444" stroke-width="0.8" />
<line x1="126.16" y1="269.2" x2="126.16" y2="270.4" stroke="#999" stroke-width="0.6" />
<line x1="129.29" y1="269.2" x2="129.29" y2="270.4" stroke="#999" stroke-width="0.6" />
<line x1="131.52" y1="269.2" x2="131.52" y2="270.4" stroke="#999" stroke-width="0.6" />
<line x1="133.24" y1="269.2" x2="133.24" y2="270.4" stroke="#999" stroke-width="0.6" />
<line x1="134.65" y1="269.2" x2="134.65" y2="270.4" stroke="#999" stroke-width="0.6" />
<line x1="135.84" y1="269.2" x2="135.84" y2="270.4" stroke="#999" stroke-width="0.6" />
<line x1="136.88" y1="269.2" x2="136.88" y2="270.4" stroke="#999" stroke-width="0.6" />
<line x1="137.79" y1="269.2" x2="137.79" y2="270.4" stroke="#999" stroke-width="0.6" />
<line x1="138.6" y1="269.2" x2="138.6" y2="271.59999999999997" stroke="#444" stroke-width="0.8" />
<rect x="88.6" y="184.4" width="44.6" height="33.8" fill="none" stroke="#3a3a3a" stroke-width="0.9" />
<rect x="49.3" y="218.2" width="39.3" height="42.2" fill="none" stroke="#3a3a3a" stroke-width="0.9" />
<rect x="88.6" y="218.2" width="40.2" height="35.4" fill="none" stroke="#3a3a3a" stroke-width="0.9" />
<rect x="208.5" y="211.0" width="0.7" height="0.7" fill="#9a9a9a"/>
<rect x="227.0" y="223.1" width="0.9" height="0.9" fill="#9a9a9a"/>
<rect x="204.6" y="212.9" width="0.7" height="0.7" fill="#9a9a9a"/>
<rect x="233.9" y="205.0" width="0.8" height="0.8" fill="#9a9a9a"/>
<rect x="214.0" y="217.1" width="0.8" height="0.8" fill="#9a9a9a"/>
<rect x="197.7" y="206.1" width="0.7" height="0.7" fill="#9a9a9a"/>
<rect x="203.8" y="226.4" width="0.7" height="0.7" fill="#9a9a9a"/>
<rect x="204.4" y="232.9" width="0.8" height="0.8" fill="#9a9a9a"/>
<rect x="209.1" y="215.4" width="0.7" height="0.7" fill="#9a9a9a"/>
<rect x="198.8" y="214.3" width="0.9" height="0.9" fill="#9a9a9a"/>
<rect x="223.0" y="226.4" width="0.9" height="0.9" fill="#9a9a9a"/>
<rect x="199.3" y="204.5" width="0.9" height="0.9" fill="#9a9a9a"/>
<rect x="216.3" y="213.4" width="0.7" height="0.7" fill="#9a9a9a"/>
<rect x="217.0" y="214.0" width="0.7" height="0.7" fill="#9a9a9a"/>
<rect x="198.6" y="220.2" width="0.6" height="0.6" fill="#9a9a9a"/>
<rect x="208.0" y="213.6" width="0.8" height="0.8" fill="#9a9a9a"/>
<rect x="203.6" y="216.4" width="0.9" height="0.9" fill="#9a9a9a"/>
<rect x="218.3" y="204.2" width="0.8" height="0.8" fill="#9a9a9a"/>
<rect x="193.3" y="206.1" width="0.6" height="0.6" fill="#9a9a9a"/>
<rect x="200.8" y="216.5" width="0.9" height="0.9" fill="#9a9a9a"/>
<rect x="217.5" y="215.2" width="0.8" height="0.8" fill="#9a9a9a"/>
<rect x="220.6" y="212.8" width="0.7" height="0.7" fill="#9a9a9a"/>
<rect x="229.2" y="219.4" width="0.7" height="0.7" fill="#9a9a9a"/>
<rect x="206.7" y="215.4" width="0.9" height="0.9" fill="#9a9a9a"/>
<rect x="214.7" y="219.1" width="0.7" height="0.7" fill="#9a9a9a"/>
<rect x="207.2" y="232.3" width="0.6" height="0.6" fill="#9a9a9a"/>
<rect x="206.6" y="219.3" width="0.9" height="0.9" fill="#9a9a9a"/>
<rect x="197.6" y="209.8" width="0.8" height="0.8" fill="#9a9a9a"/>
<rect x="204.3" y="221.9" width="0.7" height="0.7" fill="#9a9a9a"/>
<rect x="197.4" y="201.7" width="0.9" height="0.9" fill="#9a9a9a"/>
<rect x="208.6" y="199.1" width="0.9" height="0.9" fill="#9a9a9a"/>
<rect x="217.4" y="228.0" width="0.7" height="0.7" fill="#9a9a9a"/>
<rect x="227.1" y="220.2" width="0.9" height="0.9" fill="#9a9a9a"/>
<rect x="205.0" y="196.8" width="0.7" height="0.7" fill="#9a9a9a"/>
<rect x="222.5" y="206.0" width="0.6" height="0.6" fill="#9a9a9a"/>
<rect x="213.7" y="203.3" width="0.7" height="0.7" fill="#9a9a9a"/>
<rect x="209.8" y="216.5" width="0.8" height="0.8" fill="#9a9a9a"/>
<rect x="217.4" y="212.6" width="0.9" height="0.9" fill="#9a9a9a"/>
<rect x="192.6" y="209.9" width="0.7" height="0.7" fill="#9a9a9a"/>
<rect x="206.1" y="215.1" width="0.6" height="0.6" fill="#9a9a9a"/>
<rect x="206.9" y="203.2" width="0.6" height="0.6" fill="#9a9a9a"/>
<rect x="204.8" y="211.9" width="0.9" height="0.9" fill="#9a9a9a"/>
<rect x="206.9" y="218.9" width="0.8" height="0.8" fill="#9a9a9a"/>
<rect x="208.8" y="231.7" width="0.7" height="0.7" fill="#9a9a9a"/>
<rect x="205.1" y="187.8" width="0.9" height="0.9" fill="#9a9a9a"/>
<rect x="209.5" y="211.7" width="0.8" height="0.8" fill="#9a9a9a"/>
<rect x="208.6" y="201.2" width="0.7" height="0.7" fill="#9a9a9a"/>
<rect x="212.5" y="217.6" width="0.8" height="0.8" fill="#9a9a9a"/>
<rect x="197.2" y="202.5" width="0.7" height="0.7" fill="#9a9a9a"/>
<rect x="210.9" y="215.3" width="0.8" height="0.8" fill="#9a9a9a"/>
<rect x="212.0" y="214.2" width="0.7" height="0.7" fill="#9a9a9a"/>
<rect x="202.9" y="207.6" width="0.8" height="0.8" fill="#9a9a9a"/>
<rect x="195.0" y="217.5" width="0.6" height="0.6" fill="#9a9a9a"/>
<rect x="220.9" y="214.5" width="0.8" height="0.8" fill="#9a9a9a"/>
<rect x="232.6" y="211.8" width="0.6" height="0.6" fill="#9a9a9a"/>
<rect x="205.9" y="218.9" width="0.9" height="0.9" fill="#9a9a9a"/>
<rect x="217.9" y="214.6" width="0.7" height="0.7" fill="#9a9a9a"/>
<rect x="211.3" y="217.0" width="0.8" height="0.8" fill="#9a9a9a"/>
<rect x="212.6" y="213.4" width="0.8" height="0.8" fill="#9a9a9a"/>
<rect x="220.0" y="204.8" width="0.7" height="0.7" fill="#9a9a9a"/>
<rect x="201.9" y="218.6" width="0.9" height="0.9" fill="#9a9a9a"/>
<rect x="202.3" y="205.7" width="0.7" height="0.7" fill="#9a9a9a"/>
<rect x="197.8" y="219.9" width="0.6" height="0.6" fill="#9a9a9a"/>
<rect x="207.3" y="214.5" width="0.8" height="0.8" fill="#9a9a9a"/>
<rect x="210.0" y="210.7" width="0.7" height="0.7" fill="#9a9a9a"/>
<rect x="201.5" y="194.0" width="0.8" height="0.8" fill="#9a9a9a"/>
<rect x="206.9" y="218.7" width="0.9" height="0.9" fill="#9a9a9a"/>
<rect x="221.7" y="214.9" width="0.8" height="0.8" fill="#9a9a9a"/>
<rect x="223.5" y="207.4" width="0.6" height="0.6" fill="#9a9a9a"/>
<rect x="206.3" y="218.2" width="0.8" height="0.8" fill="#9a9a9a"/>
<rect x="202.9" y="210.7" width="0.8" height="0.8" fill="#9a9a9a"/>
<rect x="198.2" y="218.4" width="0.8" height="0.8" fill="#9a9a9a"/>
<rect x="209.5" y="204.7" width="0.6" height="0.6" fill="#9a9a9a"/>
<rect x="212.9" y="201.9" width="0.7" height="0.7" fill="#9a9a9a"/>
<rect x="206.3" y="211.9" width="0.9" height="0.9" fill="#9a9a9a"/>
<rect x="201.4" y="208.5" width="0.6" height="0.6" fill="#9a9a9a"/>
<rect x="218.8" y="208.4" width="0.7" height="0.7" fill="#9a9a9a"/>
<rect x="197.1" y="216.6" width="0.8" height="0.8" fill="#9a9a9a"/>
<rect x="206.3" y="231.4" width="0.8" height="0.8" fill="#9a9a9a"/>
<rect x="200.2" y="219.1" width="0.9" height="0.9" fill="#9a9a9a"/>
<rect x="196.7" y="211.5" width="0.7" height="0.7" fill="#9a9a9a"/>
<rect x="204.3" y="211.9" width="0.9" height="0.9" fill="#9a9a9a"/>
<rect x="195.5" y="211.6" width="0.8" height="0.8" fill="#9a9a9a"/>
<rect x="219.0" y="214.8" width="0.7" height="0.7" fill="#9a9a9a"/>
<rect x="199.1" y="212.8" width="0.7" height="0.7" fill="#9a9a9a"/>
<rect x="204.4" y="218.7" width="0.7" height="0.7" fill="#9a9a9a"/>
<rect x="193.4" y="228.4" width="0.7" height="0.7" fill="#9a9a9a"/>
<rect x="220.9" y="204.2" width="0.9" height="0.9" fill="#9a9a9a"/>
<rect x="193.5" y="226.1" width="0.7" height="0.7" fill="#9a9a9a"/>
<rect x="199.9" y="221.3" width="0.6" height="0.6" fill="#9a9a9a"/>
<rect x="192.6" y="215.2" width="0.8" height="0.8" fill="#9a9a9a"/>
<rect x="216.2" y="223.4" width="0.7" height="0.7" fill="#9a9a9a"/>
<rect x="226.6" y="226.7" width="0.9" height="0.9" fill="#9a9a9a"/>
<rect x="197.3" y="221.4" width="0.8" height="0.8" fill="#9a9a9a"/>
<rect x="220.0" y="198.5" width="0.6" height="0.6" fill="#9a9a9a"/>
<rect x="215.1" y="222.5" width="0.9" height="0.9" fill="#9a9a9a"/>
<rect x="219.5" y="212.7" width="0.6" height="0.6" fill="#9a9a9a"/>
<rect x="216.9" y="197.5" width="0.9" height="0.9" fill="#9a9a9a"/>
<rect x="207.1" y="219.8" width="0.7" height="0.7" fill="#9a9a9a"/>
<rect x="224.0" y="236.8" width="0.6" height="0.6" fill="#9a9a9a"/>
<rect x="223.4" y="209.3" width="0.9" height="0.9" fill="#9a9a9a"/>
<rect x="223.4" y="223.8" width="0.6" height="0.6" fill="#9a9a9a"/>
<rect x="208.6" y="207.9" width="0.6" height="0.6" fill="#9a9a9a"/>
<rect x="201.3" y="208.3" width="0.7" height="0.7" fill="#9a9a9a"/>
<rect x="197.6" y="206.3" width="0.9" height="0.9" fill="#9a9a9a"/>
<rect x="205.3" y="210.4" width="0.6" height="0.6" fill="#9a9a9a"/>
<rect x="198.8" y="237.8" width="0.7" height="0.7" fill="#9a9a9a"/>
<rect x="201.0" y="219.6" width="0.6" height="0.6" fill="#9a9a9a"/>
<rect x="216.3" y="215.6" width="0.9" height="0.9" fill="#9a9a9a"/>
<rect x="205.3" y="223.6" width="0.7" height="0.7" fill="#9a9a9a"/>
<path d="M155.76,230.95 C156.70,229.63 158.63,228.84 161.45,227.96 C164.26,227.08 168.92,226.43 172.66,225.68 C176.39,224.94 180.93,224.09 183.86,223.48 C186.79,222.88 188.46,222.59 190.23,222.07 C192.00,221.55 192.87,220.94 194.47,220.35 C196.08,219.77 198.41,219.01 199.83,218.56 C201.26,218.12 201.75,217.76 203.04,217.70 C204.33,217.64 206.19,217.95 207.56,218.19 C208.93,218.42 210.66,218.63 211.27,219.10 C211.88,219.57 211.72,219.55 211.23,220.98 C210.74,222.42 209.16,225.58 208.35,227.72 C207.54,229.85 207.13,232.02 206.37,233.78 C205.60,235.55 204.87,236.90 203.77,238.31 C202.67,239.71 201.20,240.89 199.76,242.21 C198.32,243.54 196.79,245.02 195.12,246.26 C193.46,247.49 191.35,248.65 189.78,249.62 C188.21,250.59 186.85,251.52 185.68,252.06 C184.52,252.61 183.76,253.31 182.82,252.87 C181.87,252.42 181.11,250.37 180.03,249.40 C178.96,248.44 177.58,247.73 176.37,247.09 C175.17,246.45 174.14,246.09 172.80,245.56 C171.46,245.02 169.80,244.53 168.32,243.87 C166.85,243.21 165.40,242.54 163.92,241.62 C162.45,240.70 160.82,239.31 159.47,238.35 C158.12,237.39 156.45,237.10 155.83,235.87 C155.21,234.63 154.83,232.27 155.76,230.95Z" fill="#bcbcbc" filter="url(#zo)"/>
<path d="M155.76,230.95 C156.70,229.63 158.63,228.84 161.45,227.96 C164.26,227.08 168.92,226.43 172.66,225.68 C176.39,224.94 180.93,224.09 183.86,223.48 C186.79,222.88 188.46,222.59 190.23,222.07 C192.00,221.55 192.87,220.94 194.47,220.35 C196.08,219.77 198.41,219.01 199.83,218.56 C201.26,218.12 201.75,217.76 203.04,217.70 C204.33,217.64 206.19,217.95 207.56,218.19 C208.93,218.42 210.66,218.63 211.27,219.10 C211.88,219.57 211.72,219.55 211.23,220.98 C210.74,222.42 209.16,225.58 208.35,227.72 C207.54,229.85 207.13,232.02 206.37,233.78 C205.60,235.55 204.87,236.90 203.77,238.31 C202.67,239.71 201.20,240.89 199.76,242.21 C198.32,243.54 196.79,245.02 195.12,246.26 C193.46,247.49 191.35,248.65 189.78,249.62 C188.21,250.59 186.85,251.52 185.68,252.06 C184.52,252.61 183.76,253.31 182.82,252.87 C181.87,252.42 181.11,250.37 180.03,249.40 C178.96,248.44 177.58,247.73 176.37,247.09 C175.17,246.45 174.14,246.09 172.80,245.56 C171.46,245.02 169.80,244.53 168.32,243.87 C166.85,243.21 165.40,242.54 163.92,241.62 C162.45,240.70 160.82,239.31 159.47,238.35 C158.12,237.39 156.45,237.10 155.83,235.87 C155.21,234.63 154.83,232.27 155.76,230.95Z" fill="none" stroke="#080808" stroke-width="1.6" stroke-linejoin="round"/>
<path d="M182.82,252.87 C182.35,252.29 181.11,250.37 180.03,249.40 C178.96,248.44 177.58,247.73 176.37,247.09 C175.17,246.45 174.14,246.09 172.80,245.56 C171.46,245.02 169.80,244.53 168.32,243.87 C166.85,243.21 165.40,242.54 163.92,241.62 C162.45,240.70 160.82,239.31 159.47,238.35 C158.12,237.39 156.45,237.10 155.83,235.87 C155.21,234.63 155.77,231.77 155.76,230.95" fill="none" stroke="#080808" stroke-width="2.6" stroke-linecap="round"/>
<path d="M207.56,218.19 C208.18,218.34 210.66,218.63 211.27,219.10 C211.88,219.57 211.72,219.55 211.23,220.98 C210.74,222.42 209.16,225.58 208.35,227.72 C207.54,229.85 207.13,232.02 206.37,233.78 C205.60,235.55 204.87,236.90 203.77,238.31 C202.67,239.71 201.20,240.89 199.76,242.21 C198.32,243.54 196.79,245.02 195.12,246.26 C193.46,247.49 191.35,248.65 189.78,249.62 C188.21,250.59 186.37,251.66 185.68,252.06" fill="none" stroke="#080808" stroke-width="2.3" stroke-linecap="round"/>
<path d="M170.74,234.88 C170.56,233.12 173.21,231.03 175.14,229.60 C177.06,228.17 179.91,227.07 182.29,226.30 C184.67,225.53 187.06,224.94 189.44,224.98 C191.82,225.02 194.79,225.47 196.59,226.52 C198.39,227.56 199.95,229.45 200.22,231.25 C200.50,233.05 199.58,235.59 198.24,237.30 C196.90,239.01 194.57,240.60 192.19,241.48 C189.81,242.36 186.60,242.80 183.94,242.58 C181.28,242.36 178.44,241.44 176.24,240.16 C174.04,238.88 170.92,236.64 170.74,234.88Z" fill="#d0d0d0" filter="url(#zi)"/>
<path d="M170.74,234.88 C170.56,233.12 173.21,231.03 175.14,229.60 C177.06,228.17 179.91,227.07 182.29,226.30 C184.67,225.53 187.06,224.94 189.44,224.98 C191.82,225.02 194.79,225.47 196.59,226.52 C198.39,227.56 199.95,229.45 200.22,231.25 C200.50,233.05 199.58,235.59 198.24,237.30 C196.90,239.01 194.57,240.60 192.19,241.48 C189.81,242.36 186.60,242.80 183.94,242.58 C181.28,242.36 178.44,241.44 176.24,240.16 C174.04,238.88 170.92,236.64 170.74,234.88Z" fill="none" stroke="#f4f4f4" stroke-width="0.7"/>
<path d="M173.51,234.70 C173.37,233.30 175.49,231.62 177.03,230.48 C178.57,229.34 180.85,228.46 182.75,227.84 C184.66,227.22 186.57,226.75 188.47,226.78 C190.38,226.81 192.75,227.18 194.19,228.02 C195.63,228.85 196.88,230.36 197.10,231.80 C197.32,233.24 196.58,235.28 195.51,236.64 C194.44,238.00 192.58,239.28 190.67,239.98 C188.77,240.69 186.20,241.04 184.07,240.86 C181.95,240.69 179.67,239.95 177.91,238.93 C176.15,237.90 173.66,236.11 173.51,234.70Z" fill="#d0d0d0" filter="url(#zi)"/>
<path d="M173.51,234.70 C173.37,233.30 175.49,231.62 177.03,230.48 C178.57,229.34 180.85,228.46 182.75,227.84 C184.66,227.22 186.57,226.75 188.47,226.78 C190.38,226.81 192.75,227.18 194.19,228.02 C195.63,228.85 196.88,230.36 197.10,231.80 C197.32,233.24 196.58,235.28 195.51,236.64 C194.44,238.00 192.58,239.28 190.67,239.98 C188.77,240.69 186.20,241.04 184.07,240.86 C181.95,240.69 179.67,239.95 177.91,238.93 C176.15,237.90 173.66,236.11 173.51,234.70Z" fill="none" stroke="#f4f4f4" stroke-width="0.7"/>
<path d="M176.15,234.54 C176.03,233.46 177.66,232.19 178.83,231.32 C180.00,230.44 181.74,229.77 183.19,229.30 C184.64,228.83 186.10,228.48 187.55,228.50 C189.01,228.52 190.82,228.80 191.91,229.44 C193.01,230.07 193.96,231.23 194.13,232.32 C194.30,233.42 193.74,234.97 192.92,236.01 C192.10,237.05 190.68,238.03 189.23,238.56 C187.78,239.10 185.82,239.37 184.20,239.23 C182.58,239.10 180.84,238.54 179.50,237.76 C178.16,236.97 176.26,235.61 176.15,234.54Z" fill="#d0d0d0" filter="url(#zi)"/>
<path d="M176.15,234.54 C176.03,233.46 177.66,232.19 178.83,231.32 C180.00,230.44 181.74,229.77 183.19,229.30 C184.64,228.83 186.10,228.48 187.55,228.50 C189.01,228.52 190.82,228.80 191.91,229.44 C193.01,230.07 193.96,231.23 194.13,232.32 C194.30,233.42 193.74,234.97 192.92,236.01 C192.10,237.05 190.68,238.03 189.23,238.56 C187.78,239.10 185.82,239.37 184.20,239.23 C182.58,239.10 180.84,238.54 179.50,237.76 C178.16,236.97 176.26,235.61 176.15,234.54Z" fill="none" stroke="#f4f4f4" stroke-width="0.7"/>
<path d="M178.64,234.38 C178.56,233.62 179.70,232.72 180.53,232.11 C181.36,231.49 182.58,231.02 183.61,230.69 C184.63,230.36 185.66,230.11 186.68,230.12 C187.71,230.14 188.98,230.33 189.76,230.78 C190.53,231.23 191.20,232.04 191.32,232.82 C191.43,233.59 191.04,234.69 190.47,235.42 C189.89,236.15 188.89,236.84 187.86,237.22 C186.84,237.59 185.46,237.78 184.32,237.69 C183.17,237.59 181.95,237.20 181.01,236.65 C180.06,236.10 178.72,235.14 178.64,234.38Z" fill="#d0d0d0" filter="url(#zi)"/>
<path d="M178.64,234.38 C178.56,233.62 179.70,232.72 180.53,232.11 C181.36,231.49 182.58,231.02 183.61,230.69 C184.63,230.36 185.66,230.11 186.68,230.12 C187.71,230.14 188.98,230.33 189.76,230.78 C190.53,231.23 191.20,232.04 191.32,232.82 C191.43,233.59 191.04,234.69 190.47,235.42 C189.89,236.15 188.89,236.84 187.86,237.22 C186.84,237.59 185.46,237.78 184.32,237.69 C183.17,237.59 181.95,237.20 181.01,236.65 C180.06,236.10 178.72,235.14 178.64,234.38Z" fill="none" stroke="#f4f4f4" stroke-width="0.7"/>
<path d="M181.00,234.23 C180.95,233.77 181.64,233.23 182.14,232.86 C182.64,232.48 183.38,232.20 184.00,232.00 C184.62,231.80 185.24,231.65 185.86,231.65 C186.48,231.66 187.25,231.78 187.72,232.06 C188.18,232.33 188.59,232.82 188.66,233.28 C188.73,233.75 188.49,234.41 188.15,234.86 C187.80,235.30 187.19,235.72 186.57,235.94 C185.95,236.17 185.12,236.29 184.43,236.23 C183.74,236.17 183.00,235.94 182.43,235.60 C181.85,235.27 181.04,234.69 181.00,234.23Z" fill="#d0d0d0" filter="url(#zi)"/>
<path d="M181.00,234.23 C180.95,233.77 181.64,233.23 182.14,232.86 C182.64,232.48 183.38,232.20 184.00,232.00 C184.62,231.80 185.24,231.65 185.86,231.65 C186.48,231.66 187.25,231.78 187.72,232.06 C188.18,232.33 188.59,232.82 188.66,233.28 C188.73,233.75 188.49,234.41 188.15,234.86 C187.80,235.30 187.19,235.72 186.57,235.94 C185.95,236.17 185.12,236.29 184.43,236.23 C183.74,236.17 183.00,235.94 182.43,235.60 C181.85,235.27 181.04,234.69 181.00,234.23Z" fill="none" stroke="#f4f4f4" stroke-width="0.7"/>
<path d="M183.21,234.09 C183.20,233.91 183.46,233.70 183.65,233.56 C183.85,233.42 184.13,233.31 184.37,233.23 C184.61,233.15 184.85,233.09 185.08,233.10 C185.32,233.10 185.62,233.15 185.80,233.25 C185.98,233.36 186.13,233.55 186.16,233.72 C186.19,233.90 186.10,234.16 185.96,234.33 C185.83,234.50 185.60,234.66 185.36,234.75 C185.12,234.84 184.80,234.88 184.53,234.86 C184.27,234.84 183.98,234.74 183.76,234.62 C183.54,234.49 183.23,234.26 183.21,234.09Z" fill="#d0d0d0" filter="url(#zi)"/>
<path d="M183.21,234.09 C183.20,233.91 183.46,233.70 183.65,233.56 C183.85,233.42 184.13,233.31 184.37,233.23 C184.61,233.15 184.85,233.09 185.08,233.10 C185.32,233.10 185.62,233.15 185.80,233.25 C185.98,233.36 186.13,233.55 186.16,233.72 C186.19,233.90 186.10,234.16 185.96,234.33 C185.83,234.50 185.60,234.66 185.36,234.75 C185.12,234.84 184.80,234.88 184.53,234.86 C184.27,234.84 183.98,234.74 183.76,234.62 C183.54,234.49 183.23,234.26 183.21,234.09Z" fill="none" stroke="#f4f4f4" stroke-width="0.7"/>
<ellipse cx="184.6" cy="234" rx="1.5" ry="1.2" fill="#1a1a1a"/>
<path d="M197,219.3 C199.5,217.5 202.5,215.8 205.5,216 C208.5,216.4 211.5,217.2 212.6,218.6 C213,220.5 212.3,222.5 211.2,224 C209,222.5 206,221.6 203,221 C201,220.6 199,220.3 197,220.4 Z" fill="#080808"/>
<path d="M209.5,212 C209.5,209.5 211,207.5 213.5,207.3 C215.5,207.5 215.5,210 213.5,211.2 C212,212 210.5,212.5 209.5,212 Z" fill="#080808"/>
<path d="M174.8,269.2 C176,267.3 179,266.6 183,266.9 C185.5,266.4 187.5,266.4 189,267.2 C191.5,266.4 195,266.5 197.5,267.6 C198.5,268.2 199,268.7 199.2,269.2 Z" fill="#c4c4c4" stroke="#222" stroke-width="0.8"/>
<path d="M151.5,225.5 C154,228 154.6,240 151.5,245.7 Z" fill="#9a9a9a" stroke="#333" stroke-width="0.7"/>
<rect x="151.5" y="175.5" width="94.2" height="93.7" fill="none" stroke="#8c8c8c" stroke-width="1" />
<line x1="149.1" y1="178.6" x2="151.5" y2="178.6" stroke="#444" stroke-width="0.8" />
<line x1="149.1" y1="193.4" x2="151.5" y2="193.4" stroke="#444" stroke-width="0.8" />
<line x1="150.3" y1="188.94" x2="151.5" y2="188.94" stroke="#999" stroke-width="0.6" />
<line x1="150.3" y1="186.34" x2="151.5" y2="186.34" stroke="#999" stroke-width="0.6" />
<line x1="150.3" y1="184.49" x2="151.5" y2="184.49" stroke="#999" stroke-width="0.6" />
<line x1="150.3" y1="183.06" x2="151.5" y2="183.06" stroke="#999" stroke-width="0.6" />
<line x1="150.3" y1="181.88" x2="151.5" y2="181.88" stroke="#999" stroke-width="0.6" />
<line x1="150.3" y1="180.89" x2="151.5" y2="180.89" stroke="#999" stroke-width="0.6" />
<line x1="150.3" y1="180.03" x2="151.5" y2="180.03" stroke="#999" stroke-width="0.6" />
<line x1="150.3" y1="179.28" x2="151.5" y2="179.28" stroke="#999" stroke-width="0.6" />
<line x1="149.1" y1="208.2" x2="151.5" y2="208.2" stroke="#444" stroke-width="0.8" />
<line x1="150.3" y1="203.74" x2="151.5" y2="203.74" stroke="#999" stroke-width="0.6" />
<line x1="150.3" y1="201.14" x2="151.5" y2="201.14" stroke="#999" stroke-width="0.6" />
<line x1="150.3" y1="199.29" x2="151.5" y2="199.29" stroke="#999" stroke-width="0.6" />
<line x1="150.3" y1="197.86" x2="151.5" y2="197.86" stroke="#999" stroke-width="0.6" />
<line x1="150.3" y1="196.68" x2="151.5" y2="196.68" stroke="#999" stroke-width="0.6" />
<line x1="150.3" y1="195.69" x2="151.5" y2="195.69" stroke="#999" stroke-width="0.6" />
<line x1="150.3" y1="194.83" x2="151.5" y2="194.83" stroke="#999" stroke-width="0.6" />
<line x1="150.3" y1="194.08" x2="151.5" y2="194.08" stroke="#999" stroke-width="0.6" />
<line x1="149.1" y1="223.0" x2="151.5" y2="223.0" stroke="#444" stroke-width="0.8" />
<line x1="150.3" y1="218.54" x2="151.5" y2="218.54" stroke="#999" stroke-width="0.6" />
<line x1="150.3" y1="215.94" x2="151.5" y2="215.94" stroke="#999" stroke-width="0.6" />
<line x1="150.3" y1="214.09" x2="151.5" y2="214.09" stroke="#999" stroke-width="0.6" />
<line x1="150.3" y1="212.66" x2="151.5" y2="212.66" stroke="#999" stroke-width="0.6" />
<line x1="150.3" y1="211.48" x2="151.5" y2="211.48" stroke="#999" stroke-width="0.6" />
<line x1="150.3" y1="210.49" x2="151.5" y2="210.49" stroke="#999" stroke-width="0.6" />
<line x1="150.3" y1="209.63" x2="151.5" y2="209.63" stroke="#999" stroke-width="0.6" />
<line x1="150.3" y1="208.88" x2="151.5" y2="208.88" stroke="#999" stroke-width="0.6" />
<line x1="149.1" y1="237.8" x2="151.5" y2="237.8" stroke="#444" stroke-width="0.8" />
<line x1="150.3" y1="233.34" x2="151.5" y2="233.34" stroke="#999" stroke-width="0.6" />
<line x1="150.3" y1="230.74" x2="151.5" y2="230.74" stroke="#999" stroke-width="0.6" />
<line x1="150.3" y1="228.89" x2="151.5" y2="228.89" stroke="#999" stroke-width="0.6" />
<line x1="150.3" y1="227.46" x2="151.5" y2="227.46" stroke="#999" stroke-width="0.6" />
<line x1="150.3" y1="226.28" x2="151.5" y2="226.28" stroke="#999" stroke-width="0.6" />
<line x1="150.3" y1="225.29" x2="151.5" y2="225.29" stroke="#999" stroke-width="0.6" />
<line x1="150.3" y1="224.43" x2="151.5" y2="224.43" stroke="#999" stroke-width="0.6" />
<line x1="150.3" y1="223.68" x2="151.5" y2="223.68" stroke="#999" stroke-width="0.6" />
<line x1="149.1" y1="252.6" x2="151.5" y2="252.6" stroke="#444" stroke-width="0.8" />
<line x1="150.3" y1="248.14" x2="151.5" y2="248.14" stroke="#999" stroke-width="0.6" />
<line x1="150.3" y1="245.54" x2="151.5" y2="245.54" stroke="#999" stroke-width="0.6" />
<line x1="150.3" y1="243.69" x2="151.5" y2="243.69" stroke="#999" stroke-width="0.6" />
<line x1="150.3" y1="242.26" x2="151.5" y2="242.26" stroke="#999" stroke-width="0.6" />
<line x1="150.3" y1="241.08" x2="151.5" y2="241.08" stroke="#999" stroke-width="0.6" />
<line x1="150.3" y1="240.09" x2="151.5" y2="240.09" stroke="#999" stroke-width="0.6" />
<line x1="150.3" y1="239.23" x2="151.5" y2="239.23" stroke="#999" stroke-width="0.6" />
<line x1="150.3" y1="238.48" x2="151.5" y2="238.48" stroke="#999" stroke-width="0.6" />
<line x1="149.1" y1="267.4" x2="151.5" y2="267.4" stroke="#444" stroke-width="0.8" />
<line x1="150.3" y1="262.94" x2="151.5" y2="262.94" stroke="#999" stroke-width="0.6" />
<line x1="150.3" y1="260.34" x2="151.5" y2="260.34" stroke="#999" stroke-width="0.6" />
<line x1="150.3" y1="258.49" x2="151.5" y2="258.49" stroke="#999" stroke-width="0.6" />
<line x1="150.3" y1="257.06" x2="151.5" y2="257.06" stroke="#999" stroke-width="0.6" />
<line x1="150.3" y1="255.88" x2="151.5" y2="255.88" stroke="#999" stroke-width="0.6" />
<line x1="150.3" y1="254.89" x2="151.5" y2="254.89" stroke="#999" stroke-width="0.6" />
<line x1="150.3" y1="254.03" x2="151.5" y2="254.03" stroke="#999" stroke-width="0.6" />
<line x1="150.3" y1="253.28" x2="151.5" y2="253.28" stroke="#999" stroke-width="0.6" />
<line x1="151.8" y1="269.2" x2="151.8" y2="271.59999999999997" stroke="#444" stroke-width="0.8" />
<line x1="157.16" y1="269.2" x2="157.16" y2="270.4" stroke="#999" stroke-width="0.6" />
<line x1="160.29" y1="269.2" x2="160.29" y2="270.4" stroke="#999" stroke-width="0.6" />
<line x1="162.52" y1="269.2" x2="162.52" y2="270.4" stroke="#999" stroke-width="0.6" />
<line x1="164.24" y1="269.2" x2="164.24" y2="270.4" stroke="#999" stroke-width="0.6" />
<line x1="165.65" y1="269.2" x2="165.65" y2="270.4" stroke="#999" stroke-width="0.6" />
<line x1="166.84" y1="269.2" x2="166.84" y2="270.4" stroke="#999" stroke-width="0.6" />
<line x1="167.88" y1="269.2" x2="167.88" y2="270.4" stroke="#999" stroke-width="0.6" />
<line x1="168.79" y1="269.2" x2="168.79" y2="270.4" stroke="#999" stroke-width="0.6" />
<line x1="169.6" y1="269.2" x2="169.6" y2="271.59999999999997" stroke="#444" stroke-width="0.8" />
<line x1="174.96" y1="269.2" x2="174.96" y2="270.4" stroke="#999" stroke-width="0.6" />
<line x1="178.09" y1="269.2" x2="178.09" y2="270.4" stroke="#999" stroke-width="0.6" />
<line x1="180.32" y1="269.2" x2="180.32" y2="270.4" stroke="#999" stroke-width="0.6" />
<line x1="182.04" y1="269.2" x2="182.04" y2="270.4" stroke="#999" stroke-width="0.6" />
<line x1="183.45" y1="269.2" x2="183.45" y2="270.4" stroke="#999" stroke-width="0.6" />
<line x1="184.64" y1="269.2" x2="184.64" y2="270.4" stroke="#999" stroke-width="0.6" />
<line x1="185.68" y1="269.2" x2="185.68" y2="270.4" stroke="#999" stroke-width="0.6" />
<line x1="186.59" y1="269.2" x2="186.59" y2="270.4" stroke="#999" stroke-width="0.6" />
<line x1="187.4" y1="269.2" x2="187.4" y2="271.59999999999997" stroke="#444" stroke-width="0.8" />
<line x1="192.76" y1="269.2" x2="192.76" y2="270.4" stroke="#999" stroke-width="0.6" />
<line x1="195.89" y1="269.2" x2="195.89" y2="270.4" stroke="#999" stroke-width="0.6" />
<line x1="198.12" y1="269.2" x2="198.12" y2="270.4" stroke="#999" stroke-width="0.6" />
<line x1="199.84" y1="269.2" x2="199.84" y2="270.4" stroke="#999" stroke-width="0.6" />
<line x1="201.25" y1="269.2" x2="201.25" y2="270.4" stroke="#999" stroke-width="0.6" />
<line x1="202.44" y1="269.2" x2="202.44" y2="270.4" stroke="#999" stroke-width="0.6" />
<line x1="203.48" y1="269.2" x2="203.48" y2="270.4" stroke="#999" stroke-width="0.6" />
<line x1="204.39" y1="269.2" x2="204.39" y2="270.4" stroke="#999" stroke-width="0.6" />
<line x1="205.2" y1="269.2" x2="205.2" y2="271.59999999999997" stroke="#444" stroke-width="0.8" />
<line x1="210.56" y1="269.2" x2="210.56" y2="270.4" stroke="#999" stroke-width="0.6" />
<line x1="213.69" y1="269.2" x2="213.69" y2="270.4" stroke="#999" stroke-width="0.6" />
<line x1="215.92" y1="269.2" x2="215.92" y2="270.4" stroke="#999" stroke-width="0.6" />
<line x1="217.64" y1="269.2" x2="217.64" y2="270.4" stroke="#999" stroke-width="0.6" />
<line x1="219.05" y1="269.2" x2="219.05" y2="270.4" stroke="#999" stroke-width="0.6" />
<line x1="220.24" y1="269.2" x2="220.24" y2="270.4" stroke="#999" stroke-width="0.6" />
<line x1="221.28" y1="269.2" x2="221.28" y2="270.4" stroke="#999" stroke-width="0.6" />
<line x1="222.19" y1="269.2" x2="222.19" y2="270.4" stroke="#999" stroke-width="0.6" />
<line x1="223.0" y1="269.2" x2="223.0" y2="271.59999999999997" stroke="#444" stroke-width="0.8" />
<line x1="228.36" y1="269.2" x2="228.36" y2="270.4" stroke="#999" stroke-width="0.6" />
<line x1="231.49" y1="269.2" x2="231.49" y2="270.4" stroke="#999" stroke-width="0.6" />
<line x1="233.72" y1="269.2" x2="233.72" y2="270.4" stroke="#999" stroke-width="0.6" />
<line x1="235.44" y1="269.2" x2="235.44" y2="270.4" stroke="#999" stroke-width="0.6" />
<line x1="236.85" y1="269.2" x2="236.85" y2="270.4" stroke="#999" stroke-width="0.6" />
<line x1="238.04" y1="269.2" x2="238.04" y2="270.4" stroke="#999" stroke-width="0.6" />
<line x1="239.08" y1="269.2" x2="239.08" y2="270.4" stroke="#999" stroke-width="0.6" />
<line x1="239.99" y1="269.2" x2="239.99" y2="270.4" stroke="#999" stroke-width="0.6" />
<line x1="240.8" y1="269.2" x2="240.8" y2="271.59999999999997" stroke="#444" stroke-width="0.8" />
<rect x="190.8" y="184.0" width="44.7" height="34.2" fill="none" stroke="#3a3a3a" stroke-width="0.9" />
<rect x="151.5" y="218.2" width="39.3" height="42.2" fill="none" stroke="#3a3a3a" stroke-width="0.9" />
<rect x="190.8" y="218.2" width="41.1" height="35.9" fill="none" stroke="#3a3a3a" stroke-width="0.9" />
<rect x="109.3" y="319.6" width="0.7" height="0.7" fill="#9a9a9a"/>
<rect x="130.2" y="320.6" width="0.8" height="0.8" fill="#9a9a9a"/>
<rect x="125.4" y="321.1" width="0.9" height="0.9" fill="#9a9a9a"/>
<rect x="125.5" y="322.9" width="0.9" height="0.9" fill="#9a9a9a"/>
<rect x="125.7" y="313.5" width="0.6" height="0.6" fill="#9a9a9a"/>
<rect x="111.6" y="297.0" width="0.8" height="0.8" fill="#9a9a9a"/>
<rect x="114.7" y="309.5" width="0.8" height="0.8" fill="#9a9a9a"/>
<rect x="117.0" y="301.4" width="0.7" height="0.7" fill="#9a9a9a"/>
<rect x="110.0" y="318.3" width="0.7" height="0.7" fill="#9a9a9a"/>
<rect x="119.0" y="327.8" width="0.8" height="0.8" fill="#9a9a9a"/>
<rect x="131.0" y="330.4" width="0.7" height="0.7" fill="#9a9a9a"/>
<rect x="129.0" y="308.2" width="0.6" height="0.6" fill="#9a9a9a"/>
<rect x="124.4" y="315.5" width="0.9" height="0.9" fill="#9a9a9a"/>
<rect x="120.5" y="319.0" width="0.7" height="0.7" fill="#9a9a9a"/>
<rect x="101.7" y="329.2" width="0.7" height="0.7" fill="#9a9a9a"/>
<rect x="97.9" y="336.6" width="0.8" height="0.8" fill="#9a9a9a"/>
<rect x="127.7" y="312.8" width="0.7" height="0.7" fill="#9a9a9a"/>
<rect x="109.6" y="304.0" width="0.9" height="0.9" fill="#9a9a9a"/>
<rect x="135.4" y="322.1" width="0.9" height="0.9" fill="#9a9a9a"/>
<rect x="136.5" y="283.6" width="0.9" height="0.9" fill="#9a9a9a"/>
<rect x="118.4" y="318.9" width="0.8" height="0.8" fill="#9a9a9a"/>
<rect x="129.0" y="325.1" width="0.6" height="0.6" fill="#9a9a9a"/>
<rect x="99.2" y="309.2" width="0.9" height="0.9" fill="#9a9a9a"/>
<rect x="104.2" y="338.4" width="0.9" height="0.9" fill="#9a9a9a"/>
<rect x="134.0" y="329.5" width="0.7" height="0.7" fill="#9a9a9a"/>
<rect x="99.2" y="340.5" width="0.7" height="0.7" fill="#9a9a9a"/>
<rect x="109.3" y="338.5" width="0.9" height="0.9" fill="#9a9a9a"/>
<rect x="130.1" y="320.7" width="0.9" height="0.9" fill="#9a9a9a"/>
<rect x="121.1" y="318.9" width="0.6" height="0.6" fill="#9a9a9a"/>
<rect x="119.4" y="313.3" width="0.7" height="0.7" fill="#9a9a9a"/>
<rect x="117.6" y="288.1" width="0.8" height="0.8" fill="#9a9a9a"/>
<rect x="110.9" y="327.6" width="0.6" height="0.6" fill="#9a9a9a"/>
<rect x="116.5" y="340.2" width="0.8" height="0.8" fill="#9a9a9a"/>
<rect x="127.0" y="312.6" width="0.6" height="0.6" fill="#9a9a9a"/>
<rect x="126.7" y="319.6" width="0.9" height="0.9" fill="#9a9a9a"/>
<rect x="115.1" y="302.7" width="0.9" height="0.9" fill="#9a9a9a"/>
<rect x="124.6" y="288.0" width="0.9" height="0.9" fill="#9a9a9a"/>
<rect x="127.4" y="330.1" width="0.6" height="0.6" fill="#9a9a9a"/>
<rect x="124.4" y="296.3" width="0.7" height="0.7" fill="#9a9a9a"/>
<rect x="109.6" y="310.2" width="0.8" height="0.8" fill="#9a9a9a"/>
<rect x="97.6" y="324.0" width="0.6" height="0.6" fill="#9a9a9a"/>
<rect x="106.1" y="317.0" width="0.7" height="0.7" fill="#9a9a9a"/>
<rect x="118.1" y="323.1" width="0.6" height="0.6" fill="#9a9a9a"/>
<rect x="103.0" y="320.0" width="0.7" height="0.7" fill="#9a9a9a"/>
<rect x="127.4" y="317.2" width="0.6" height="0.6" fill="#9a9a9a"/>
<rect x="121.2" y="332.1" width="0.9" height="0.9" fill="#9a9a9a"/>
<rect x="121.0" y="324.6" width="0.9" height="0.9" fill="#9a9a9a"/>
<rect x="104.9" y="303.6" width="0.6" height="0.6" fill="#9a9a9a"/>
<rect x="119.9" y="306.5" width="0.8" height="0.8" fill="#9a9a9a"/>
<rect x="107.4" y="312.5" width="0.8" height="0.8" fill="#9a9a9a"/>
<rect x="120.8" y="328.0" width="0.7" height="0.7" fill="#9a9a9a"/>
<rect x="118.9" y="329.3" width="0.7" height="0.7" fill="#9a9a9a"/>
<rect x="112.4" y="330.5" width="0.7" height="0.7" fill="#9a9a9a"/>
<rect x="109.3" y="317.5" width="0.6" height="0.6" fill="#9a9a9a"/>
<rect x="128.9" y="327.5" width="0.7" height="0.7" fill="#9a9a9a"/>
<path d="M67.70,333.12 C68.30,332.00 70.05,330.25 72.26,328.93 C74.47,327.61 78.45,326.25 80.94,325.21 C83.44,324.17 85.09,323.83 87.23,322.69 C89.38,321.55 92.13,319.78 93.82,318.39 C95.51,316.99 96.20,315.67 97.38,314.33 C98.55,312.99 99.88,311.44 100.87,310.33 C101.86,309.23 102.42,308.39 103.31,307.69 C104.20,307.00 105.23,306.61 106.21,306.15 C107.20,305.70 108.19,305.47 109.23,304.95 C110.26,304.42 111.45,303.75 112.41,302.99 C113.37,302.24 114.34,301.15 114.97,300.43 C115.61,299.71 115.70,299.09 116.21,298.69 C116.72,298.29 117.41,298.44 118.03,298.01 C118.65,297.58 119.20,296.75 119.92,296.13 C120.65,295.52 121.23,295.04 122.37,294.32 C123.51,293.61 125.40,292.66 126.76,291.83 C128.12,290.99 129.52,290.00 130.53,289.32 C131.53,288.64 132.31,287.88 132.80,287.75 C133.30,287.61 133.59,287.61 133.50,288.50 C133.41,289.39 132.68,291.71 132.27,293.11 C131.86,294.50 131.33,295.72 131.02,296.87 C130.71,298.02 130.62,298.97 130.41,300.00 C130.20,301.04 130.07,302.29 129.78,303.07 C129.49,303.86 129.28,304.22 128.68,304.72 C128.07,305.21 126.68,305.43 126.14,306.05 C125.60,306.67 125.22,307.74 125.43,308.42 C125.65,309.11 126.81,309.62 127.43,310.13 C128.04,310.64 128.95,310.72 129.11,311.51 C129.28,312.29 128.77,313.73 128.42,314.86 C128.08,315.99 127.52,317.22 127.04,318.30 C126.56,319.37 126.02,320.18 125.54,321.30 C125.06,322.43 124.90,323.92 124.18,325.03 C123.47,326.14 122.38,327.32 121.25,327.97 C120.12,328.61 118.47,328.91 117.40,328.90 C116.33,328.89 115.84,327.80 114.86,327.90 C113.87,328.00 112.33,328.88 111.50,329.50 C110.66,330.13 110.29,330.88 109.86,331.66 C109.43,332.45 109.56,333.28 108.89,334.21 C108.23,335.13 107.06,336.22 105.88,337.22 C104.70,338.22 103.17,339.27 101.82,340.19 C100.47,341.11 99.05,342.13 97.78,342.75 C96.51,343.37 95.05,343.20 94.19,343.91 C93.33,344.62 93.13,347.01 92.60,347.00 C92.07,346.99 92.33,344.63 91.00,343.87 C89.66,343.10 86.90,342.87 84.60,342.41 C82.29,341.95 79.20,341.74 77.15,341.12 C75.09,340.50 73.69,339.58 72.27,338.68 C70.85,337.77 69.41,336.62 68.65,335.70 C67.88,334.77 67.10,334.25 67.70,333.12Z" fill="#b0b0b0" filter="url(#zo)"/>
<path d="M67.70,333.12 C68.30,332.00 70.05,330.25 72.26,328.93 C74.47,327.61 78.45,326.25 80.94,325.21 C83.44,324.17 85.09,323.83 87.23,322.69 C89.38,321.55 92.13,319.78 93.82,318.39 C95.51,316.99 96.20,315.67 97.38,314.33 C98.55,312.99 99.88,311.44 100.87,310.33 C101.86,309.23 102.42,308.39 103.31,307.69 C104.20,307.00 105.23,306.61 106.21,306.15 C107.20,305.70 108.19,305.47 109.23,304.95 C110.26,304.42 111.45,303.75 112.41,302.99 C113.37,302.24 114.34,301.15 114.97,300.43 C115.61,299.71 115.70,299.09 116.21,298.69 C116.72,298.29 117.41,298.44 118.03,298.01 C118.65,297.58 119.20,296.75 119.92,296.13 C120.65,295.52 121.23,295.04 122.37,294.32 C123.51,293.61 125.40,292.66 126.76,291.83 C128.12,290.99 129.52,290.00 130.53,289.32 C131.53,288.64 132.31,287.88 132.80,287.75 C133.30,287.61 133.59,287.61 133.50,288.50 C133.41,289.39 132.68,291.71 132.27,293.11 C131.86,294.50 131.33,295.72 131.02,296.87 C130.71,298.02 130.62,298.97 130.41,300.00 C130.20,301.04 130.07,302.29 129.78,303.07 C129.49,303.86 129.28,304.22 128.68,304.72 C128.07,305.21 126.68,305.43 126.14,306.05 C125.60,306.67 125.22,307.74 125.43,308.42 C125.65,309.11 126.81,309.62 127.43,310.13 C128.04,310.64 128.95,310.72 129.11,311.51 C129.28,312.29 128.77,313.73 128.42,314.86 C128.08,315.99 127.52,317.22 127.04,318.30 C126.56,319.37 126.02,320.18 125.54,321.30 C125.06,322.43 124.90,323.92 124.18,325.03 C123.47,326.14 122.38,327.32 121.25,327.97 C120.12,328.61 118.47,328.91 117.40,328.90 C116.33,328.89 115.84,327.80 114.86,327.90 C113.87,328.00 112.33,328.88 111.50,329.50 C110.66,330.13 110.29,330.88 109.86,331.66 C109.43,332.45 109.56,333.28 108.89,334.21 C108.23,335.13 107.06,336.22 105.88,337.22 C104.70,338.22 103.17,339.27 101.82,340.19 C100.47,341.11 99.05,342.13 97.78,342.75 C96.51,343.37 95.05,343.20 94.19,343.91 C93.33,344.62 93.13,347.01 92.60,347.00 C92.07,346.99 92.33,344.63 91.00,343.87 C89.66,343.10 86.90,342.87 84.60,342.41 C82.29,341.95 79.20,341.74 77.15,341.12 C75.09,340.50 73.69,339.58 72.27,338.68 C70.85,337.77 69.41,336.62 68.65,335.70 C67.88,334.77 67.10,334.25 67.70,333.12Z" fill="none" stroke="#080808" stroke-width="1.5" stroke-linejoin="round"/>
<ellipse cx="111.5" cy="310.5" rx="6" ry="3.4" transform="rotate(-35 111.5 310.5)" fill="#1a1a1a" filter="url(#bl)"/>
<ellipse cx="123.5" cy="299" rx="4" ry="2.2" transform="rotate(-50 123.5 299)" fill="#888" filter="url(#bl)"/>
<path d="M71.50,333.00 C72.00,332.00 73.50,330.87 75.00,330.00 C76.50,329.13 78.42,328.60 80.50,327.80 C82.58,327.00 85.17,326.37 87.50,325.20 C89.83,324.03 92.50,322.13 94.50,320.80 C96.50,319.47 97.92,318.03 99.50,317.20 C101.08,316.37 102.58,315.83 104.00,315.80 C105.42,315.77 107.07,316.22 108.00,317.00 C108.93,317.78 109.47,319.08 109.60,320.50 C109.73,321.92 109.40,323.83 108.80,325.50 C108.20,327.17 107.22,328.83 106.00,330.50 C104.78,332.17 103.25,334.03 101.50,335.50 C99.75,336.97 97.67,338.47 95.50,339.30 C93.33,340.13 90.92,340.38 88.50,340.50 C86.08,340.62 83.25,340.38 81.00,340.00 C78.75,339.62 76.50,338.87 75.00,338.20 C73.50,337.53 72.58,336.87 72.00,336.00 C71.42,335.13 71.00,334.00 71.50,333.00Z" fill="#e4e4e4" filter="url(#zi)"/>
<path d="M71.50,333.00 C72.00,332.00 73.50,330.87 75.00,330.00 C76.50,329.13 78.42,328.60 80.50,327.80 C82.58,327.00 85.17,326.37 87.50,325.20 C89.83,324.03 92.50,322.13 94.50,320.80 C96.50,319.47 97.92,318.03 99.50,317.20 C101.08,316.37 102.58,315.83 104.00,315.80 C105.42,315.77 107.07,316.22 108.00,317.00 C108.93,317.78 109.47,319.08 109.60,320.50 C109.73,321.92 109.40,323.83 108.80,325.50 C108.20,327.17 107.22,328.83 106.00,330.50 C104.78,332.17 103.25,334.03 101.50,335.50 C99.75,336.97 97.67,338.47 95.50,339.30 C93.33,340.13 90.92,340.38 88.50,340.50 C86.08,340.62 83.25,340.38 81.00,340.00 C78.75,339.62 76.50,338.87 75.00,338.20 C73.50,337.53 72.58,336.87 72.00,336.00 C71.42,335.13 71.00,334.00 71.50,333.00Z" fill="none" stroke="#f4f4f4" stroke-width="0.7"/>
<path d="M74.86,332.33 C75.28,331.49 76.54,330.54 77.80,329.81 C79.06,329.08 80.67,328.63 82.42,327.96 C84.17,327.29 86.34,326.76 88.30,325.78 C90.26,324.80 92.50,323.20 94.18,322.08 C95.86,320.96 97.05,319.76 98.38,319.06 C99.71,318.36 100.97,317.91 102.16,317.88 C103.35,317.85 104.74,318.23 105.52,318.89 C106.30,319.55 106.75,320.64 106.86,321.83 C106.98,323.02 106.70,324.63 106.19,326.03 C105.69,327.43 104.86,328.83 103.84,330.23 C102.82,331.63 101.53,333.20 100.06,334.43 C98.59,335.66 96.84,336.92 95.02,337.62 C93.20,338.32 91.17,338.53 89.14,338.63 C87.11,338.73 84.73,338.53 82.84,338.21 C80.95,337.89 79.06,337.26 77.80,336.70 C76.54,336.14 75.77,335.58 75.28,334.85 C74.79,334.12 74.44,333.17 74.86,332.33Z" fill="#e4e4e4" filter="url(#zi)"/>
<path d="M74.86,332.33 C75.28,331.49 76.54,330.54 77.80,329.81 C79.06,329.08 80.67,328.63 82.42,327.96 C84.17,327.29 86.34,326.76 88.30,325.78 C90.26,324.80 92.50,323.20 94.18,322.08 C95.86,320.96 97.05,319.76 98.38,319.06 C99.71,318.36 100.97,317.91 102.16,317.88 C103.35,317.85 104.74,318.23 105.52,318.89 C106.30,319.55 106.75,320.64 106.86,321.83 C106.98,323.02 106.70,324.63 106.19,326.03 C105.69,327.43 104.86,328.83 103.84,330.23 C102.82,331.63 101.53,333.20 100.06,334.43 C98.59,335.66 96.84,336.92 95.02,337.62 C93.20,338.32 91.17,338.53 89.14,338.63 C87.11,338.73 84.73,338.53 82.84,338.21 C80.95,337.89 79.06,337.26 77.80,336.70 C76.54,336.14 75.77,335.58 75.28,334.85 C74.79,334.12 74.44,333.17 74.86,332.33Z" fill="none" stroke="#f4f4f4" stroke-width="0.7"/>
<path d="M78.22,331.66 C78.56,330.98 79.58,330.21 80.60,329.62 C81.62,329.03 82.92,328.66 84.34,328.12 C85.76,327.58 87.51,327.15 89.10,326.35 C90.69,325.56 92.50,324.27 93.86,323.36 C95.22,322.45 96.18,321.48 97.26,320.91 C98.34,320.35 99.36,319.98 100.32,319.96 C101.28,319.94 102.41,320.24 103.04,320.78 C103.67,321.31 104.04,322.19 104.13,323.16 C104.22,324.12 103.99,325.42 103.58,326.56 C103.18,327.69 102.51,328.82 101.68,329.96 C100.85,331.09 99.81,332.36 98.62,333.36 C97.43,334.35 96.01,335.37 94.54,335.94 C93.07,336.51 91.42,336.68 89.78,336.76 C88.14,336.84 86.21,336.68 84.68,336.42 C83.15,336.16 81.62,335.65 80.60,335.19 C79.58,334.74 78.96,334.29 78.56,333.70 C78.16,333.11 77.88,332.34 78.22,331.66Z" fill="#e4e4e4" filter="url(#zi)"/>
<path d="M78.22,331.66 C78.56,330.98 79.58,330.21 80.60,329.62 C81.62,329.03 82.92,328.66 84.34,328.12 C85.76,327.58 87.51,327.15 89.10,326.35 C90.69,325.56 92.50,324.27 93.86,323.36 C95.22,322.45 96.18,321.48 97.26,320.91 C98.34,320.35 99.36,319.98 100.32,319.96 C101.28,319.94 102.41,320.24 103.04,320.78 C103.67,321.31 104.04,322.19 104.13,323.16 C104.22,324.12 103.99,325.42 103.58,326.56 C103.18,327.69 102.51,328.82 101.68,329.96 C100.85,331.09 99.81,332.36 98.62,333.36 C97.43,334.35 96.01,335.37 94.54,335.94 C93.07,336.51 91.42,336.68 89.78,336.76 C88.14,336.84 86.21,336.68 84.68,336.42 C83.15,336.16 81.62,335.65 80.60,335.19 C79.58,334.74 78.96,334.29 78.56,333.70 C78.16,333.11 77.88,332.34 78.22,331.66Z" fill="none" stroke="#f4f4f4" stroke-width="0.7"/>
<ellipse cx="98.9" cy="325.4" rx="8.0" ry="4.96" transform="rotate(-30 98.9 325.4)" fill="#d8d8d8" filter="url(#zi)"/>
<ellipse cx="98.9" cy="325.4" rx="8.0" ry="4.96" transform="rotate(-30 98.9 325.4)" fill="none" stroke="#f4f4f4" stroke-width="0.7"/>
<ellipse cx="98.9" cy="325.4" rx="5.8" ry="3.60" transform="rotate(-30 98.9 325.4)" fill="#d8d8d8" filter="url(#zi)"/>
<ellipse cx="98.9" cy="325.4" rx="5.8" ry="3.60" transform="rotate(-30 98.9 325.4)" fill="none" stroke="#f4f4f4" stroke-width="0.7"/>
<ellipse cx="98.9" cy="325.4" rx="3.8" ry="2.36" transform="rotate(-30 98.9 325.4)" fill="#d8d8d8" filter="url(#zi)"/>
<ellipse cx="98.9" cy="325.4" rx="3.8" ry="2.36" transform="rotate(-30 98.9 325.4)" fill="none" stroke="#f4f4f4" stroke-width="0.7"/>
<ellipse cx="98.9" cy="325.4" rx="2.0" ry="1.24" transform="rotate(-30 98.9 325.4)" fill="#d8d8d8" filter="url(#zi)"/>
<ellipse cx="98.9" cy="325.4" rx="2.0" ry="1.24" transform="rotate(-30 98.9 325.4)" fill="none" stroke="#f4f4f4" stroke-width="0.7"/>
<ellipse cx="86.4" cy="330.4" rx="6.4" ry="3.97" transform="rotate(-22 86.4 330.4)" fill="#d8d8d8" filter="url(#zi)"/>
<ellipse cx="86.4" cy="330.4" rx="6.4" ry="3.97" transform="rotate(-22 86.4 330.4)" fill="none" stroke="#f4f4f4" stroke-width="0.7"/>
<ellipse cx="86.4" cy="330.4" rx="4.4" ry="2.73" transform="rotate(-22 86.4 330.4)" fill="#d8d8d8" filter="url(#zi)"/>
<ellipse cx="86.4" cy="330.4" rx="4.4" ry="2.73" transform="rotate(-22 86.4 330.4)" fill="none" stroke="#f4f4f4" stroke-width="0.7"/>
<ellipse cx="86.4" cy="330.4" rx="2.6" ry="1.61" transform="rotate(-22 86.4 330.4)" fill="#d8d8d8" filter="url(#zi)"/>
<ellipse cx="86.4" cy="330.4" rx="2.6" ry="1.61" transform="rotate(-22 86.4 330.4)" fill="none" stroke="#f4f4f4" stroke-width="0.7"/>
<ellipse cx="98.9" cy="325.4" rx="1.4" ry="1.1" fill="#222"/>
<ellipse cx="86.4" cy="330.4" rx="1.0" ry="0.8" fill="#444"/>
<ellipse cx="119.2" cy="322.3" rx="1.9" ry="2.6" fill="#fff" stroke="#080808" stroke-width="1.3"/>
<path d="M110.5,333 C111.5,331.5 114,332 115.5,333.5 C116,335 114.5,336.3 112.5,336 C111,335.6 110.2,334.3 110.5,333 Z" fill="#080808"/>
<ellipse cx="132.2" cy="288.3" rx="2.7" ry="1.7" transform="rotate(-45 132.2 288.3)" fill="#080808"/>
<path d="M49.1,326.6 C51.5,328 52.6,331 52.7,334.5 C52.5,337 51,339 49.1,340.4 Z" fill="#999" stroke="#333" stroke-width="0.8"/>
<path d="M77.5,373.1 C78.5,371.3 81,370.6 84,371 C86,370.5 87.5,370.3 89,371.2 C91,370.4 94,370.3 96.5,371.2 C98.5,371.6 99.5,372.4 100,373.1 Z" fill="#bbb" stroke="#222" stroke-width="0.8"/>
<rect x="49.1" y="279.4" width="92.9" height="93.7" fill="none" stroke="#8c8c8c" stroke-width="1" />
<line x1="46.7" y1="282.5" x2="49.1" y2="282.5" stroke="#444" stroke-width="0.8" />
<line x1="46.7" y1="297.3" x2="49.1" y2="297.3" stroke="#444" stroke-width="0.8" />
<line x1="47.9" y1="292.84" x2="49.1" y2="292.84" stroke="#999" stroke-width="0.6" />
<line x1="47.9" y1="290.24" x2="49.1" y2="290.24" stroke="#999" stroke-width="0.6" />
<line x1="47.9" y1="288.39" x2="49.1" y2="288.39" stroke="#999" stroke-width="0.6" />
<line x1="47.9" y1="286.96" x2="49.1" y2="286.96" stroke="#999" stroke-width="0.6" />
<line x1="47.9" y1="285.78" x2="49.1" y2="285.78" stroke="#999" stroke-width="0.6" />
<line x1="47.9" y1="284.79" x2="49.1" y2="284.79" stroke="#999" stroke-width="0.6" />
<line x1="47.9" y1="283.93" x2="49.1" y2="283.93" stroke="#999" stroke-width="0.6" />
<line x1="47.9" y1="283.18" x2="49.1" y2="283.18" stroke="#999" stroke-width="0.6" />
<line x1="46.7" y1="312.1" x2="49.1" y2="312.1" stroke="#444" stroke-width="0.8" />
<line x1="47.9" y1="307.64" x2="49.1" y2="307.64" stroke="#999" stroke-width="0.6" />
<line x1="47.9" y1="305.04" x2="49.1" y2="305.04" stroke="#999" stroke-width="0.6" />
<line x1="47.9" y1="303.19" x2="49.1" y2="303.19" stroke="#999" stroke-width="0.6" />
<line x1="47.9" y1="301.76" x2="49.1" y2="301.76" stroke="#999" stroke-width="0.6" />
<line x1="47.9" y1="300.58" x2="49.1" y2="300.58" stroke="#999" stroke-width="0.6" />
<line x1="47.9" y1="299.59" x2="49.1" y2="299.59" stroke="#999" stroke-width="0.6" />
<line x1="47.9" y1="298.73" x2="49.1" y2="298.73" stroke="#999" stroke-width="0.6" />
<line x1="47.9" y1="297.98" x2="49.1" y2="297.98" stroke="#999" stroke-width="0.6" />
<line x1="46.7" y1="326.9" x2="49.1" y2="326.9" stroke="#444" stroke-width="0.8" />
<line x1="47.9" y1="322.44" x2="49.1" y2="322.44" stroke="#999" stroke-width="0.6" />
<line x1="47.9" y1="319.84" x2="49.1" y2="319.84" stroke="#999" stroke-width="0.6" />
<line x1="47.9" y1="317.99" x2="49.1" y2="317.99" stroke="#999" stroke-width="0.6" />
<line x1="47.9" y1="316.56" x2="49.1" y2="316.56" stroke="#999" stroke-width="0.6" />
<line x1="47.9" y1="315.38" x2="49.1" y2="315.38" stroke="#999" stroke-width="0.6" />
<line x1="47.9" y1="314.39" x2="49.1" y2="314.39" stroke="#999" stroke-width="0.6" />
<line x1="47.9" y1="313.53" x2="49.1" y2="313.53" stroke="#999" stroke-width="0.6" />
<line x1="47.9" y1="312.78" x2="49.1" y2="312.78" stroke="#999" stroke-width="0.6" />
<line x1="46.7" y1="341.7" x2="49.1" y2="341.7" stroke="#444" stroke-width="0.8" />
<line x1="47.9" y1="337.24" x2="49.1" y2="337.24" stroke="#999" stroke-width="0.6" />
<line x1="47.9" y1="334.64" x2="49.1" y2="334.64" stroke="#999" stroke-width="0.6" />
<line x1="47.9" y1="332.79" x2="49.1" y2="332.79" stroke="#999" stroke-width="0.6" />
<line x1="47.9" y1="331.36" x2="49.1" y2="331.36" stroke="#999" stroke-width="0.6" />
<line x1="47.9" y1="330.18" x2="49.1" y2="330.18" stroke="#999" stroke-width="0.6" />
<line x1="47.9" y1="329.19" x2="49.1" y2="329.19" stroke="#999" stroke-width="0.6" />
<line x1="47.9" y1="328.33" x2="49.1" y2="328.33" stroke="#999" stroke-width="0.6" />
<line x1="47.9" y1="327.58" x2="49.1" y2="327.58" stroke="#999" stroke-width="0.6" />
<line x1="46.7" y1="356.5" x2="49.1" y2="356.5" stroke="#444" stroke-width="0.8" />
<line x1="47.9" y1="352.04" x2="49.1" y2="352.04" stroke="#999" stroke-width="0.6" />
<line x1="47.9" y1="349.44" x2="49.1" y2="349.44" stroke="#999" stroke-width="0.6" />
<line x1="47.9" y1="347.59" x2="49.1" y2="347.59" stroke="#999" stroke-width="0.6" />
<line x1="47.9" y1="346.16" x2="49.1" y2="346.16" stroke="#999" stroke-width="0.6" />
<line x1="47.9" y1="344.98" x2="49.1" y2="344.98" stroke="#999" stroke-width="0.6" />
<line x1="47.9" y1="343.99" x2="49.1" y2="343.99" stroke="#999" stroke-width="0.6" />
<line x1="47.9" y1="343.13" x2="49.1" y2="343.13" stroke="#999" stroke-width="0.6" />
<line x1="47.9" y1="342.38" x2="49.1" y2="342.38" stroke="#999" stroke-width="0.6" />
<line x1="46.7" y1="371.3" x2="49.1" y2="371.3" stroke="#444" stroke-width="0.8" />
<line x1="47.9" y1="366.84" x2="49.1" y2="366.84" stroke="#999" stroke-width="0.6" />
<line x1="47.9" y1="364.24" x2="49.1" y2="364.24" stroke="#999" stroke-width="0.6" />
<line x1="47.9" y1="362.39" x2="49.1" y2="362.39" stroke="#999" stroke-width="0.6" />
<line x1="47.9" y1="360.96" x2="49.1" y2="360.96" stroke="#999" stroke-width="0.6" />
<line x1="47.9" y1="359.78" x2="49.1" y2="359.78" stroke="#999" stroke-width="0.6" />
<line x1="47.9" y1="358.79" x2="49.1" y2="358.79" stroke="#999" stroke-width="0.6" />
<line x1="47.9" y1="357.93" x2="49.1" y2="357.93" stroke="#999" stroke-width="0.6" />
<line x1="47.9" y1="357.18" x2="49.1" y2="357.18" stroke="#999" stroke-width="0.6" />
<line x1="49.4" y1="373.1" x2="49.4" y2="375.5" stroke="#444" stroke-width="0.8" />
<line x1="54.76" y1="373.1" x2="54.76" y2="374.3" stroke="#999" stroke-width="0.6" />
<line x1="57.89" y1="373.1" x2="57.89" y2="374.3" stroke="#999" stroke-width="0.6" />
<line x1="60.12" y1="373.1" x2="60.12" y2="374.3" stroke="#999" stroke-width="0.6" />
<line x1="61.84" y1="373.1" x2="61.84" y2="374.3" stroke="#999" stroke-width="0.6" />
<line x1="63.25" y1="373.1" x2="63.25" y2="374.3" stroke="#999" stroke-width="0.6" />
<line x1="64.44" y1="373.1" x2="64.44" y2="374.3" stroke="#999" stroke-width="0.6" />
<line x1="65.48" y1="373.1" x2="65.48" y2="374.3" stroke="#999" stroke-width="0.6" />
<line x1="66.39" y1="373.1" x2="66.39" y2="374.3" stroke="#999" stroke-width="0.6" />
<line x1="67.2" y1="373.1" x2="67.2" y2="375.5" stroke="#444" stroke-width="0.8" />
<line x1="72.56" y1="373.1" x2="72.56" y2="374.3" stroke="#999" stroke-width="0.6" />
<line x1="75.69" y1="373.1" x2="75.69" y2="374.3" stroke="#999" stroke-width="0.6" />
<line x1="77.92" y1="373.1" x2="77.92" y2="374.3" stroke="#999" stroke-width="0.6" />
<line x1="79.64" y1="373.1" x2="79.64" y2="374.3" stroke="#999" stroke-width="0.6" />
<line x1="81.05" y1="373.1" x2="81.05" y2="374.3" stroke="#999" stroke-width="0.6" />
<line x1="82.24" y1="373.1" x2="82.24" y2="374.3" stroke="#999" stroke-width="0.6" />
<line x1="83.28" y1="373.1" x2="83.28" y2="374.3" stroke="#999" stroke-width="0.6" />
<line x1="84.19" y1="373.1" x2="84.19" y2="374.3" stroke="#999" stroke-width="0.6" />
<line x1="85.0" y1="373.1" x2="85.0" y2="375.5" stroke="#444" stroke-width="0.8" />
<line x1="90.36" y1="373.1" x2="90.36" y2="374.3" stroke="#999" stroke-width="0.6" />
<line x1="93.49" y1="373.1" x2="93.49" y2="374.3" stroke="#999" stroke-width="0.6" />
<line x1="95.72" y1="373.1" x2="95.72" y2="374.3" stroke="#999" stroke-width="0.6" />
<line x1="97.44" y1="373.1" x2="97.44" y2="374.3" stroke="#999" stroke-width="0.6" />
<line x1="98.85" y1="373.1" x2="98.85" y2="374.3" stroke="#999" stroke-width="0.6" />
<line x1="100.04" y1="373.1" x2="100.04" y2="374.3" stroke="#999" stroke-width="0.6" />
<line x1="101.08" y1="373.1" x2="101.08" y2="374.3" stroke="#999" stroke-width="0.6" />
<line x1="101.99" y1="373.1" x2="101.99" y2="374.3" stroke="#999" stroke-width="0.6" />
<line x1="102.8" y1="373.1" x2="102.8" y2="375.5" stroke="#444" stroke-width="0.8" />
<line x1="108.16" y1="373.1" x2="108.16" y2="374.3" stroke="#999" stroke-width="0.6" />
<line x1="111.29" y1="373.1" x2="111.29" y2="374.3" stroke="#999" stroke-width="0.6" />
<line x1="113.52" y1="373.1" x2="113.52" y2="374.3" stroke="#999" stroke-width="0.6" />
<line x1="115.24" y1="373.1" x2="115.24" y2="374.3" stroke="#999" stroke-width="0.6" />
<line x1="116.65" y1="373.1" x2="116.65" y2="374.3" stroke="#999" stroke-width="0.6" />
<line x1="117.84" y1="373.1" x2="117.84" y2="374.3" stroke="#999" stroke-width="0.6" />
<line x1="118.88" y1="373.1" x2="118.88" y2="374.3" stroke="#999" stroke-width="0.6" />
<line x1="119.79" y1="373.1" x2="119.79" y2="374.3" stroke="#999" stroke-width="0.6" />
<line x1="120.6" y1="373.1" x2="120.6" y2="375.5" stroke="#444" stroke-width="0.8" />
<line x1="125.96" y1="373.1" x2="125.96" y2="374.3" stroke="#999" stroke-width="0.6" />
<line x1="129.09" y1="373.1" x2="129.09" y2="374.3" stroke="#999" stroke-width="0.6" />
<line x1="131.32" y1="373.1" x2="131.32" y2="374.3" stroke="#999" stroke-width="0.6" />
<line x1="133.04" y1="373.1" x2="133.04" y2="374.3" stroke="#999" stroke-width="0.6" />
<line x1="134.45" y1="373.1" x2="134.45" y2="374.3" stroke="#999" stroke-width="0.6" />
<line x1="135.64" y1="373.1" x2="135.64" y2="374.3" stroke="#999" stroke-width="0.6" />
<line x1="136.68" y1="373.1" x2="136.68" y2="374.3" stroke="#999" stroke-width="0.6" />
<line x1="137.59" y1="373.1" x2="137.59" y2="374.3" stroke="#999" stroke-width="0.6" />
<line x1="138.4" y1="373.1" x2="138.4" y2="375.5" stroke="#444" stroke-width="0.8" />
<rect x="92.3" y="282.4" width="45.0" height="31.0" fill="none" stroke="#3a3a3a" stroke-width="0.9" />
<rect x="49.1" y="313.4" width="43.2" height="42.1" fill="none" stroke="#3a3a3a" stroke-width="0.9" />
<rect x="92.3" y="313.4" width="40.8" height="35.7" fill="none" stroke="#3a3a3a" stroke-width="0.9" />
<rect x="234.3" y="293.9" width="0.6" height="0.6" fill="#9a9a9a"/>
<rect x="226.3" y="312.9" width="0.6" height="0.6" fill="#9a9a9a"/>
<rect x="203.3" y="340.2" width="0.9" height="0.9" fill="#9a9a9a"/>
<rect x="203.5" y="305.4" width="0.6" height="0.6" fill="#9a9a9a"/>
<rect x="232.7" y="331.6" width="0.8" height="0.8" fill="#9a9a9a"/>
<rect x="222.3" y="333.2" width="0.7" height="0.7" fill="#9a9a9a"/>
<rect x="238.9" y="325.4" width="0.7" height="0.7" fill="#9a9a9a"/>
<rect x="228.8" y="296.2" width="0.9" height="0.9" fill="#9a9a9a"/>
<rect x="216.7" y="311.9" width="0.8" height="0.8" fill="#9a9a9a"/>
<rect x="222.7" y="321.7" width="0.9" height="0.9" fill="#9a9a9a"/>
<rect x="215.9" y="318.5" width="0.6" height="0.6" fill="#9a9a9a"/>
<rect x="225.0" y="300.2" width="0.7" height="0.7" fill="#9a9a9a"/>
<rect x="216.6" y="315.3" width="0.7" height="0.7" fill="#9a9a9a"/>
<rect x="212.4" y="326.7" width="0.8" height="0.8" fill="#9a9a9a"/>
<rect x="213.8" y="307.3" width="0.6" height="0.6" fill="#9a9a9a"/>
<rect x="214.1" y="336.7" width="0.8" height="0.8" fill="#9a9a9a"/>
<rect x="218.0" y="321.4" width="0.8" height="0.8" fill="#9a9a9a"/>
<rect x="212.6" y="309.0" width="0.9" height="0.9" fill="#9a9a9a"/>
<rect x="220.4" y="321.5" width="0.7" height="0.7" fill="#9a9a9a"/>
<rect x="200.3" y="332.0" width="0.9" height="0.9" fill="#9a9a9a"/>
<rect x="209.9" y="313.7" width="0.7" height="0.7" fill="#9a9a9a"/>
<rect x="222.7" y="323.3" width="0.7" height="0.7" fill="#9a9a9a"/>
<rect x="203.3" y="296.3" width="0.6" height="0.6" fill="#9a9a9a"/>
<rect x="219.4" y="311.4" width="0.8" height="0.8" fill="#9a9a9a"/>
<rect x="217.0" y="336.6" width="0.6" height="0.6" fill="#9a9a9a"/>
<rect x="230.8" y="330.3" width="0.7" height="0.7" fill="#9a9a9a"/>
<rect x="212.7" y="345.3" width="0.6" height="0.6" fill="#9a9a9a"/>
<rect x="233.6" y="317.5" width="0.6" height="0.6" fill="#9a9a9a"/>
<rect x="206.7" y="307.5" width="0.6" height="0.6" fill="#9a9a9a"/>
<rect x="233.8" y="309.0" width="0.7" height="0.7" fill="#9a9a9a"/>
<rect x="205.0" y="298.7" width="0.9" height="0.9" fill="#9a9a9a"/>
<rect x="214.0" y="313.9" width="0.9" height="0.9" fill="#9a9a9a"/>
<rect x="223.4" y="329.0" width="0.9" height="0.9" fill="#9a9a9a"/>
<rect x="226.5" y="316.9" width="0.8" height="0.8" fill="#9a9a9a"/>
<rect x="226.5" y="327.4" width="0.7" height="0.7" fill="#9a9a9a"/>
<rect x="234.9" y="324.6" width="0.6" height="0.6" fill="#9a9a9a"/>
<rect x="214.8" y="309.2" width="0.9" height="0.9" fill="#9a9a9a"/>
<rect x="207.7" y="309.6" width="0.8" height="0.8" fill="#9a9a9a"/>
<rect x="213.9" y="310.3" width="0.7" height="0.7" fill="#9a9a9a"/>
<rect x="204.3" y="329.2" width="0.9" height="0.9" fill="#9a9a9a"/>
<rect x="212.5" y="319.8" width="0.6" height="0.6" fill="#9a9a9a"/>
<rect x="209.8" y="309.0" width="0.7" height="0.7" fill="#9a9a9a"/>
<rect x="204.3" y="326.4" width="0.9" height="0.9" fill="#9a9a9a"/>
<rect x="231.3" y="298.1" width="0.9" height="0.9" fill="#9a9a9a"/>
<rect x="224.9" y="324.6" width="0.9" height="0.9" fill="#9a9a9a"/>
<rect x="205.7" y="338.9" width="0.6" height="0.6" fill="#9a9a9a"/>
<rect x="226.1" y="321.9" width="0.8" height="0.8" fill="#9a9a9a"/>
<rect x="222.5" y="303.5" width="0.6" height="0.6" fill="#9a9a9a"/>
<rect x="220.3" y="290.3" width="0.7" height="0.7" fill="#9a9a9a"/>
<rect x="224.4" y="320.8" width="0.6" height="0.6" fill="#9a9a9a"/>
<path d="M170.88,331.73 C171.17,330.70 172.46,330.30 173.76,329.53 C175.06,328.75 176.82,327.79 178.68,327.07 C180.55,326.35 182.85,326.15 184.95,325.21 C187.05,324.26 189.59,322.58 191.28,321.41 C192.98,320.25 194.07,319.49 195.13,318.22 C196.20,316.95 196.79,315.09 197.67,313.78 C198.54,312.46 199.19,311.68 200.38,310.33 C201.56,308.98 203.46,306.63 204.79,305.65 C206.13,304.68 207.19,304.88 208.41,304.47 C209.63,304.07 210.89,303.55 212.12,303.23 C213.35,302.92 214.65,302.71 215.80,302.60 C216.94,302.49 218.01,302.81 219.00,302.59 C220.00,302.37 221.09,301.90 221.75,301.25 C222.42,300.60 222.51,299.41 223.01,298.69 C223.51,297.97 224.05,297.32 224.75,296.93 C225.44,296.55 226.33,296.70 227.18,296.37 C228.03,296.04 229.20,295.60 229.86,294.95 C230.51,294.30 230.42,293.11 231.09,292.47 C231.75,291.83 233.16,291.08 233.86,291.10 C234.56,291.12 235.18,291.82 235.31,292.61 C235.44,293.40 235.02,294.68 234.63,295.84 C234.23,297.00 233.27,298.39 232.92,299.56 C232.57,300.73 232.81,301.83 232.52,302.86 C232.23,303.90 231.64,304.86 231.16,305.77 C230.68,306.67 230.05,307.45 229.65,308.28 C229.25,309.11 229.26,309.92 228.77,310.74 C228.28,311.56 227.38,312.32 226.70,313.19 C226.03,314.07 225.30,315.17 224.69,316.01 C224.09,316.85 223.56,317.50 223.08,318.22 C222.61,318.94 222.18,319.38 221.83,320.33 C221.48,321.28 221.15,322.77 221.00,323.94 C220.85,325.10 221.23,326.47 220.93,327.33 C220.63,328.19 219.93,328.62 219.22,329.09 C218.50,329.56 217.44,329.31 216.64,330.16 C215.84,331.00 215.40,333.23 214.41,334.13 C213.42,335.04 211.97,334.71 210.71,335.59 C209.46,336.47 208.15,338.15 206.90,339.40 C205.65,340.65 204.65,342.07 203.21,343.09 C201.77,344.12 199.57,344.90 198.28,345.55 C196.99,346.20 196.22,347.10 195.46,347.00 C194.70,346.90 194.86,345.52 193.72,344.95 C192.58,344.39 190.52,344.15 188.63,343.62 C186.75,343.09 184.48,342.49 182.41,341.78 C180.35,341.06 177.99,340.33 176.25,339.32 C174.52,338.31 172.91,336.98 172.01,335.72 C171.12,334.45 170.59,332.76 170.88,331.73Z" fill="#b0b0b0" filter="url(#zo)"/>
<path d="M170.88,331.73 C171.17,330.70 172.46,330.30 173.76,329.53 C175.06,328.75 176.82,327.79 178.68,327.07 C180.55,326.35 182.85,326.15 184.95,325.21 C187.05,324.26 189.59,322.58 191.28,321.41 C192.98,320.25 194.07,319.49 195.13,318.22 C196.20,316.95 196.79,315.09 197.67,313.78 C198.54,312.46 199.19,311.68 200.38,310.33 C201.56,308.98 203.46,306.63 204.79,305.65 C206.13,304.68 207.19,304.88 208.41,304.47 C209.63,304.07 210.89,303.55 212.12,303.23 C213.35,302.92 214.65,302.71 215.80,302.60 C216.94,302.49 218.01,302.81 219.00,302.59 C220.00,302.37 221.09,301.90 221.75,301.25 C222.42,300.60 222.51,299.41 223.01,298.69 C223.51,297.97 224.05,297.32 224.75,296.93 C225.44,296.55 226.33,296.70 227.18,296.37 C228.03,296.04 229.20,295.60 229.86,294.95 C230.51,294.30 230.42,293.11 231.09,292.47 C231.75,291.83 233.16,291.08 233.86,291.10 C234.56,291.12 235.18,291.82 235.31,292.61 C235.44,293.40 235.02,294.68 234.63,295.84 C234.23,297.00 233.27,298.39 232.92,299.56 C232.57,300.73 232.81,301.83 232.52,302.86 C232.23,303.90 231.64,304.86 231.16,305.77 C230.68,306.67 230.05,307.45 229.65,308.28 C229.25,309.11 229.26,309.92 228.77,310.74 C228.28,311.56 227.38,312.32 226.70,313.19 C226.03,314.07 225.30,315.17 224.69,316.01 C224.09,316.85 223.56,317.50 223.08,318.22 C222.61,318.94 222.18,319.38 221.83,320.33 C221.48,321.28 221.15,322.77 221.00,323.94 C220.85,325.10 221.23,326.47 220.93,327.33 C220.63,328.19 219.93,328.62 219.22,329.09 C218.50,329.56 217.44,329.31 216.64,330.16 C215.84,331.00 215.40,333.23 214.41,334.13 C213.42,335.04 211.97,334.71 210.71,335.59 C209.46,336.47 208.15,338.15 206.90,339.40 C205.65,340.65 204.65,342.07 203.21,343.09 C201.77,344.12 199.57,344.90 198.28,345.55 C196.99,346.20 196.22,347.10 195.46,347.00 C194.70,346.90 194.86,345.52 193.72,344.95 C192.58,344.39 190.52,344.15 188.63,343.62 C186.75,343.09 184.48,342.49 182.41,341.78 C180.35,341.06 177.99,340.33 176.25,339.32 C174.52,338.31 172.91,336.98 172.01,335.72 C171.12,334.45 170.59,332.76 170.88,331.73Z" fill="none" stroke="#080808" stroke-width="1.5" stroke-linejoin="round"/>
<ellipse cx="212" cy="310" rx="6.5" ry="3.6" transform="rotate(-30 212 310)" fill="#2a2a2a" filter="url(#bl)"/>
<ellipse cx="226" cy="300" rx="4" ry="2.3" transform="rotate(-55 226 300)" fill="#888" filter="url(#bl)"/>
<path d="M174.50,334.00 C175.03,333.08 176.42,332.00 178.00,331.00 C179.58,330.00 181.92,329.00 184.00,328.00 C186.08,327.00 188.50,326.20 190.50,325.00 C192.50,323.80 194.25,322.13 196.00,320.80 C197.75,319.47 199.33,317.97 201.00,317.00 C202.67,316.03 204.47,315.12 206.00,315.00 C207.53,314.88 209.20,315.38 210.20,316.30 C211.20,317.22 211.87,318.72 212.00,320.50 C212.13,322.28 211.67,324.92 211.00,327.00 C210.33,329.08 209.25,331.08 208.00,333.00 C206.75,334.92 205.25,337.07 203.50,338.50 C201.75,339.93 199.75,341.02 197.50,341.60 C195.25,342.18 192.50,342.10 190.00,342.00 C187.50,341.90 184.67,341.50 182.50,341.00 C180.33,340.50 178.28,339.75 177.00,339.00 C175.72,338.25 175.22,337.33 174.80,336.50 C174.38,335.67 173.97,334.92 174.50,334.00Z" fill="#e4e4e4" filter="url(#zi)"/>
<path d="M174.50,334.00 C175.03,333.08 176.42,332.00 178.00,331.00 C179.58,330.00 181.92,329.00 184.00,328.00 C186.08,327.00 188.50,326.20 190.50,325.00 C192.50,323.80 194.25,322.13 196.00,320.80 C197.75,319.47 199.33,317.97 201.00,317.00 C202.67,316.03 204.47,315.12 206.00,315.00 C207.53,314.88 209.20,315.38 210.20,316.30 C211.20,317.22 211.87,318.72 212.00,320.50 C212.13,322.28 211.67,324.92 211.00,327.00 C210.33,329.08 209.25,331.08 208.00,333.00 C206.75,334.92 205.25,337.07 203.50,338.50 C201.75,339.93 199.75,341.02 197.50,341.60 C195.25,342.18 192.50,342.10 190.00,342.00 C187.50,341.90 184.67,341.50 182.50,341.00 C180.33,340.50 178.28,339.75 177.00,339.00 C175.72,338.25 175.22,337.33 174.80,336.50 C174.38,335.67 173.97,334.92 174.50,334.00Z" fill="none" stroke="#f4f4f4" stroke-width="0.7"/>
<path d="M177.62,333.36 C178.07,332.59 179.23,331.68 180.56,330.84 C181.89,330.00 183.85,329.16 185.60,328.32 C187.35,327.48 189.38,326.81 191.06,325.80 C192.74,324.79 194.21,323.39 195.68,322.27 C197.15,321.15 198.48,319.89 199.88,319.08 C201.28,318.27 202.79,317.50 204.08,317.40 C205.37,317.30 206.77,317.72 207.61,318.49 C208.45,319.26 209.01,320.52 209.12,322.02 C209.23,323.52 208.84,325.73 208.28,327.48 C207.72,329.23 206.81,330.91 205.76,332.52 C204.71,334.13 203.45,335.94 201.98,337.14 C200.51,338.34 198.83,339.25 196.94,339.74 C195.05,340.23 192.74,340.16 190.64,340.08 C188.54,340.00 186.16,339.66 184.34,339.24 C182.52,338.82 180.80,338.19 179.72,337.56 C178.64,336.93 178.22,336.16 177.87,335.46 C177.52,334.76 177.17,334.13 177.62,333.36Z" fill="#e4e4e4" filter="url(#zi)"/>
<path d="M177.62,333.36 C178.07,332.59 179.23,331.68 180.56,330.84 C181.89,330.00 183.85,329.16 185.60,328.32 C187.35,327.48 189.38,326.81 191.06,325.80 C192.74,324.79 194.21,323.39 195.68,322.27 C197.15,321.15 198.48,319.89 199.88,319.08 C201.28,318.27 202.79,317.50 204.08,317.40 C205.37,317.30 206.77,317.72 207.61,318.49 C208.45,319.26 209.01,320.52 209.12,322.02 C209.23,323.52 208.84,325.73 208.28,327.48 C207.72,329.23 206.81,330.91 205.76,332.52 C204.71,334.13 203.45,335.94 201.98,337.14 C200.51,338.34 198.83,339.25 196.94,339.74 C195.05,340.23 192.74,340.16 190.64,340.08 C188.54,340.00 186.16,339.66 184.34,339.24 C182.52,338.82 180.80,338.19 179.72,337.56 C178.64,336.93 178.22,336.16 177.87,335.46 C177.52,334.76 177.17,334.13 177.62,333.36Z" fill="none" stroke="#f4f4f4" stroke-width="0.7"/>
<path d="M180.74,332.72 C181.10,332.10 182.04,331.36 183.12,330.68 C184.20,330.00 185.78,329.32 187.20,328.64 C188.62,327.96 190.26,327.42 191.62,326.60 C192.98,325.78 194.17,324.65 195.36,323.74 C196.55,322.84 197.63,321.82 198.76,321.16 C199.89,320.50 201.12,319.88 202.16,319.80 C203.20,319.72 204.34,320.06 205.02,320.68 C205.70,321.31 206.15,322.33 206.24,323.54 C206.33,324.75 206.01,326.54 205.56,327.96 C205.11,329.38 204.37,330.74 203.52,332.04 C202.67,333.34 201.65,334.81 200.46,335.78 C199.27,336.75 197.91,337.49 196.38,337.89 C194.85,338.28 192.98,338.23 191.28,338.16 C189.58,338.09 187.65,337.82 186.18,337.48 C184.71,337.14 183.31,336.63 182.44,336.12 C181.57,335.61 181.23,334.99 180.94,334.42 C180.66,333.85 180.38,333.34 180.74,332.72Z" fill="#e4e4e4" filter="url(#zi)"/>
<path d="M180.74,332.72 C181.10,332.10 182.04,331.36 183.12,330.68 C184.20,330.00 185.78,329.32 187.20,328.64 C188.62,327.96 190.26,327.42 191.62,326.60 C192.98,325.78 194.17,324.65 195.36,323.74 C196.55,322.84 197.63,321.82 198.76,321.16 C199.89,320.50 201.12,319.88 202.16,319.80 C203.20,319.72 204.34,320.06 205.02,320.68 C205.70,321.31 206.15,322.33 206.24,323.54 C206.33,324.75 206.01,326.54 205.56,327.96 C205.11,329.38 204.37,330.74 203.52,332.04 C202.67,333.34 201.65,334.81 200.46,335.78 C199.27,336.75 197.91,337.49 196.38,337.89 C194.85,338.28 192.98,338.23 191.28,338.16 C189.58,338.09 187.65,337.82 186.18,337.48 C184.71,337.14 183.31,336.63 182.44,336.12 C181.57,335.61 181.23,334.99 180.94,334.42 C180.66,333.85 180.38,333.34 180.74,332.72Z" fill="none" stroke="#f4f4f4" stroke-width="0.7"/>
<ellipse cx="199.75" cy="327.25" rx="8.2" ry="5.08" transform="rotate(-30 199.75 327.25)" fill="#d8d8d8" filter="url(#zi)"/>
<ellipse cx="199.75" cy="327.25" rx="8.2" ry="5.08" transform="rotate(-30 199.75 327.25)" fill="none" stroke="#f4f4f4" stroke-width="0.7"/>
<ellipse cx="199.75" cy="327.25" rx="6.0" ry="3.72" transform="rotate(-30 199.75 327.25)" fill="#d8d8d8" filter="url(#zi)"/>
<ellipse cx="199.75" cy="327.25" rx="6.0" ry="3.72" transform="rotate(-30 199.75 327.25)" fill="none" stroke="#f4f4f4" stroke-width="0.7"/>
<ellipse cx="199.75" cy="327.25" rx="3.9" ry="2.42" transform="rotate(-30 199.75 327.25)" fill="#d8d8d8" filter="url(#zi)"/>
<ellipse cx="199.75" cy="327.25" rx="3.9" ry="2.42" transform="rotate(-30 199.75 327.25)" fill="none" stroke="#f4f4f4" stroke-width="0.7"/>
<ellipse cx="199.75" cy="327.25" rx="2.0" ry="1.24" transform="rotate(-30 199.75 327.25)" fill="#d8d8d8" filter="url(#zi)"/>
<ellipse cx="199.75" cy="327.25" rx="2.0" ry="1.24" transform="rotate(-30 199.75 327.25)" fill="none" stroke="#f4f4f4" stroke-width="0.7"/>
<ellipse cx="186.6" cy="332.9" rx="6.4" ry="3.97" transform="rotate(-18 186.6 332.9)" fill="#d8d8d8" filter="url(#zi)"/>
<ellipse cx="186.6" cy="332.9" rx="6.4" ry="3.97" transform="rotate(-18 186.6 332.9)" fill="none" stroke="#f4f4f4" stroke-width="0.7"/>
<ellipse cx="186.6" cy="332.9" rx="4.4" ry="2.73" transform="rotate(-18 186.6 332.9)" fill="#d8d8d8" filter="url(#zi)"/>
<ellipse cx="186.6" cy="332.9" rx="4.4" ry="2.73" transform="rotate(-18 186.6 332.9)" fill="none" stroke="#f4f4f4" stroke-width="0.7"/>
<ellipse cx="186.6" cy="332.9" rx="2.6" ry="1.61" transform="rotate(-18 186.6 332.9)" fill="#d8d8d8" filter="url(#zi)"/>
<ellipse cx="186.6" cy="332.9" rx="2.6" ry="1.61" transform="rotate(-18 186.6 332.9)" fill="none" stroke="#f4f4f4" stroke-width="0.7"/>
<ellipse cx="199.75" cy="327.25" rx="1.4" ry="1.1" fill="#222"/>
<ellipse cx="186.6" cy="332.9" rx="1.0" ry="0.8" fill="#444"/>
<path d="M222.6,319.65 L225.3,320.4 L226,323.5 L225.65,327.3 L224.1,330.4 L221.45,332.3 L219.9,334.6 L218,334.2 L217.25,331.5 L218.4,330 L220.7,329.2 L221.45,327.3 L221.45,323.5 L221.8,321.2 Z" fill="#080808" stroke="#080808" stroke-width="0.6" stroke-linejoin="round"/>
<circle cx="231" cy="318.4" r="1.3" fill="#111"/>
<ellipse cx="234.2" cy="291.6" rx="2.3" ry="1.5" transform="rotate(-55 234.2 291.6)" fill="#111"/>
<path d="M151.4,329.7 C153.5,330.5 155.2,332 155.8,333.8 C155,336 153.3,337.8 151.4,339.1 Z" fill="#999" stroke="#222" stroke-width="0.9"/>
<path d="M181.5,373.3 C182.5,371.4 185,370.6 188,371 C190,370.3 191.5,370.3 193,371.2 C195,370.3 198,370.3 200.5,371.3 C202,371.8 202.8,372.5 203,373.3 Z" fill="#bbb" stroke="#222" stroke-width="0.8"/>
<rect x="151.4" y="279.5" width="94.3" height="93.8" fill="none" stroke="#8c8c8c" stroke-width="1" />
<line x1="149.0" y1="282.6" x2="151.4" y2="282.6" stroke="#444" stroke-width="0.8" />
<line x1="149.0" y1="297.4" x2="151.4" y2="297.4" stroke="#444" stroke-width="0.8" />
<line x1="150.20000000000002" y1="292.94" x2="151.4" y2="292.94" stroke="#999" stroke-width="0.6" />
<line x1="150.20000000000002" y1="290.34" x2="151.4" y2="290.34" stroke="#999" stroke-width="0.6" />
<line x1="150.20000000000002" y1="288.49" x2="151.4" y2="288.49" stroke="#999" stroke-width="0.6" />
<line x1="150.20000000000002" y1="287.06" x2="151.4" y2="287.06" stroke="#999" stroke-width="0.6" />
<line x1="150.20000000000002" y1="285.88" x2="151.4" y2="285.88" stroke="#999" stroke-width="0.6" />
<line x1="150.20000000000002" y1="284.89" x2="151.4" y2="284.89" stroke="#999" stroke-width="0.6" />
<line x1="150.20000000000002" y1="284.03" x2="151.4" y2="284.03" stroke="#999" stroke-width="0.6" />
<line x1="150.20000000000002" y1="283.28" x2="151.4" y2="283.28" stroke="#999" stroke-width="0.6" />
<line x1="149.0" y1="312.2" x2="151.4" y2="312.2" stroke="#444" stroke-width="0.8" />
<line x1="150.20000000000002" y1="307.74" x2="151.4" y2="307.74" stroke="#999" stroke-width="0.6" />
<line x1="150.20000000000002" y1="305.14" x2="151.4" y2="305.14" stroke="#999" stroke-width="0.6" />
<line x1="150.20000000000002" y1="303.29" x2="151.4" y2="303.29" stroke="#999" stroke-width="0.6" />
<line x1="150.20000000000002" y1="301.86" x2="151.4" y2="301.86" stroke="#999" stroke-width="0.6" />
<line x1="150.20000000000002" y1="300.68" x2="151.4" y2="300.68" stroke="#999" stroke-width="0.6" />
<line x1="150.20000000000002" y1="299.69" x2="151.4" y2="299.69" stroke="#999" stroke-width="0.6" />
<line x1="150.20000000000002" y1="298.83" x2="151.4" y2="298.83" stroke="#999" stroke-width="0.6" />
<line x1="150.20000000000002" y1="298.08" x2="151.4" y2="298.08" stroke="#999" stroke-width="0.6" />
<line x1="149.0" y1="327.0" x2="151.4" y2="327.0" stroke="#444" stroke-width="0.8" />
<line x1="150.20000000000002" y1="322.54" x2="151.4" y2="322.54" stroke="#999" stroke-width="0.6" />
<line x1="150.20000000000002" y1="319.94" x2="151.4" y2="319.94" stroke="#999" stroke-width="0.6" />
<line x1="150.20000000000002" y1="318.09" x2="151.4" y2="318.09" stroke="#999" stroke-width="0.6" />
<line x1="150.20000000000002" y1="316.66" x2="151.4" y2="316.66" stroke="#999" stroke-width="0.6" />
<line x1="150.20000000000002" y1="315.48" x2="151.4" y2="315.48" stroke="#999" stroke-width="0.6" />
<line x1="150.20000000000002" y1="314.49" x2="151.4" y2="314.49" stroke="#999" stroke-width="0.6" />
<line x1="150.20000000000002" y1="313.63" x2="151.4" y2="313.63" stroke="#999" stroke-width="0.6" />
<line x1="150.20000000000002" y1="312.88" x2="151.4" y2="312.88" stroke="#999" stroke-width="0.6" />
<line x1="149.0" y1="341.8" x2="151.4" y2="341.8" stroke="#444" stroke-width="0.8" />
<line x1="150.20000000000002" y1="337.34" x2="151.4" y2="337.34" stroke="#999" stroke-width="0.6" />
<line x1="150.20000000000002" y1="334.74" x2="151.4" y2="334.74" stroke="#999" stroke-width="0.6" />
<line x1="150.20000000000002" y1="332.89" x2="151.4" y2="332.89" stroke="#999" stroke-width="0.6" />
<line x1="150.20000000000002" y1="331.46" x2="151.4" y2="331.46" stroke="#999" stroke-width="0.6" />
<line x1="150.20000000000002" y1="330.28" x2="151.4" y2="330.28" stroke="#999" stroke-width="0.6" />
<line x1="150.20000000000002" y1="329.29" x2="151.4" y2="329.29" stroke="#999" stroke-width="0.6" />
<line x1="150.20000000000002" y1="328.43" x2="151.4" y2="328.43" stroke="#999" stroke-width="0.6" />
<line x1="150.20000000000002" y1="327.68" x2="151.4" y2="327.68" stroke="#999" stroke-width="0.6" />
<line x1="149.0" y1="356.6" x2="151.4" y2="356.6" stroke="#444" stroke-width="0.8" />
<line x1="150.20000000000002" y1="352.14" x2="151.4" y2="352.14" stroke="#999" stroke-width="0.6" />
<line x1="150.20000000000002" y1="349.54" x2="151.4" y2="349.54" stroke="#999" stroke-width="0.6" />
<line x1="150.20000000000002" y1="347.69" x2="151.4" y2="347.69" stroke="#999" stroke-width="0.6" />
<line x1="150.20000000000002" y1="346.26" x2="151.4" y2="346.26" stroke="#999" stroke-width="0.6" />
<line x1="150.20000000000002" y1="345.08" x2="151.4" y2="345.08" stroke="#999" stroke-width="0.6" />
<line x1="150.20000000000002" y1="344.09" x2="151.4" y2="344.09" stroke="#999" stroke-width="0.6" />
<line x1="150.20000000000002" y1="343.23" x2="151.4" y2="343.23" stroke="#999" stroke-width="0.6" />
<line x1="150.20000000000002" y1="342.48" x2="151.4" y2="342.48" stroke="#999" stroke-width="0.6" />
<line x1="149.0" y1="371.4" x2="151.4" y2="371.4" stroke="#444" stroke-width="0.8" />
<line x1="150.20000000000002" y1="366.94" x2="151.4" y2="366.94" stroke="#999" stroke-width="0.6" />
<line x1="150.20000000000002" y1="364.34" x2="151.4" y2="364.34" stroke="#999" stroke-width="0.6" />
<line x1="150.20000000000002" y1="362.49" x2="151.4" y2="362.49" stroke="#999" stroke-width="0.6" />
<line x1="150.20000000000002" y1="361.06" x2="151.4" y2="361.06" stroke="#999" stroke-width="0.6" />
<line x1="150.20000000000002" y1="359.88" x2="151.4" y2="359.88" stroke="#999" stroke-width="0.6" />
<line x1="150.20000000000002" y1="358.89" x2="151.4" y2="358.89" stroke="#999" stroke-width="0.6" />
<line x1="150.20000000000002" y1="358.03" x2="151.4" y2="358.03" stroke="#999" stroke-width="0.6" />
<line x1="150.20000000000002" y1="357.28" x2="151.4" y2="357.28" stroke="#999" stroke-width="0.6" />
<line x1="151.7" y1="373.3" x2="151.7" y2="375.7" stroke="#444" stroke-width="0.8" />
<line x1="157.06" y1="373.3" x2="157.06" y2="374.5" stroke="#999" stroke-width="0.6" />
<line x1="160.19" y1="373.3" x2="160.19" y2="374.5" stroke="#999" stroke-width="0.6" />
<line x1="162.42" y1="373.3" x2="162.42" y2="374.5" stroke="#999" stroke-width="0.6" />
<line x1="164.14" y1="373.3" x2="164.14" y2="374.5" stroke="#999" stroke-width="0.6" />
<line x1="165.55" y1="373.3" x2="165.55" y2="374.5" stroke="#999" stroke-width="0.6" />
<line x1="166.74" y1="373.3" x2="166.74" y2="374.5" stroke="#999" stroke-width="0.6" />
<line x1="167.78" y1="373.3" x2="167.78" y2="374.5" stroke="#999" stroke-width="0.6" />
<line x1="168.69" y1="373.3" x2="168.69" y2="374.5" stroke="#999" stroke-width="0.6" />
<line x1="169.5" y1="373.3" x2="169.5" y2="375.7" stroke="#444" stroke-width="0.8" />
<line x1="174.86" y1="373.3" x2="174.86" y2="374.5" stroke="#999" stroke-width="0.6" />
<line x1="177.99" y1="373.3" x2="177.99" y2="374.5" stroke="#999" stroke-width="0.6" />
<line x1="180.22" y1="373.3" x2="180.22" y2="374.5" stroke="#999" stroke-width="0.6" />
<line x1="181.94" y1="373.3" x2="181.94" y2="374.5" stroke="#999" stroke-width="0.6" />
<line x1="183.35" y1="373.3" x2="183.35" y2="374.5" stroke="#999" stroke-width="0.6" />
<line x1="184.54" y1="373.3" x2="184.54" y2="374.5" stroke="#999" stroke-width="0.6" />
<line x1="185.58" y1="373.3" x2="185.58" y2="374.5" stroke="#999" stroke-width="0.6" />
<line x1="186.49" y1="373.3" x2="186.49" y2="374.5" stroke="#999" stroke-width="0.6" />
<line x1="187.3" y1="373.3" x2="187.3" y2="375.7" stroke="#444" stroke-width="0.8" />
<line x1="192.66" y1="373.3" x2="192.66" y2="374.5" stroke="#999" stroke-width="0.6" />
<line x1="195.79" y1="373.3" x2="195.79" y2="374.5" stroke="#999" stroke-width="0.6" />
<line x1="198.02" y1="373.3" x2="198.02" y2="374.5" stroke="#999" stroke-width="0.6" />
<line x1="199.74" y1="373.3" x2="199.74" y2="374.5" stroke="#999" stroke-width="0.6" />
<line x1="201.15" y1="373.3" x2="201.15" y2="374.5" stroke="#999" stroke-width="0.6" />
<line x1="202.34" y1="373.3" x2="202.34" y2="374.5" stroke="#999" stroke-width="0.6" />
<line x1="203.38" y1="373.3" x2="203.38" y2="374.5" stroke="#999" stroke-width="0.6" />
<line x1="204.29" y1="373.3" x2="204.29" y2="374.5" stroke="#999" stroke-width="0.6" />
<line x1="205.1" y1="373.3" x2="205.1" y2="375.7" stroke="#444" stroke-width="0.8" />
<line x1="210.46" y1="373.3" x2="210.46" y2="374.5" stroke="#999" stroke-width="0.6" />
<line x1="213.59" y1="373.3" x2="213.59" y2="374.5" stroke="#999" stroke-width="0.6" />
<line x1="215.82" y1="373.3" x2="215.82" y2="374.5" stroke="#999" stroke-width="0.6" />
<line x1="217.54" y1="373.3" x2="217.54" y2="374.5" stroke="#999" stroke-width="0.6" />
<line x1="218.95" y1="373.3" x2="218.95" y2="374.5" stroke="#999" stroke-width="0.6" />
<line x1="220.14" y1="373.3" x2="220.14" y2="374.5" stroke="#999" stroke-width="0.6" />
<line x1="221.18" y1="373.3" x2="221.18" y2="374.5" stroke="#999" stroke-width="0.6" />
<line x1="222.09" y1="373.3" x2="222.09" y2="374.5" stroke="#999" stroke-width="0.6" />
<line x1="222.9" y1="373.3" x2="222.9" y2="375.7" stroke="#444" stroke-width="0.8" />
<line x1="228.26" y1="373.3" x2="228.26" y2="374.5" stroke="#999" stroke-width="0.6" />
<line x1="231.39" y1="373.3" x2="231.39" y2="374.5" stroke="#999" stroke-width="0.6" />
<line x1="233.62" y1="373.3" x2="233.62" y2="374.5" stroke="#999" stroke-width="0.6" />
<line x1="235.34" y1="373.3" x2="235.34" y2="374.5" stroke="#999" stroke-width="0.6" />
<line x1="236.75" y1="373.3" x2="236.75" y2="374.5" stroke="#999" stroke-width="0.6" />
<line x1="237.94" y1="373.3" x2="237.94" y2="374.5" stroke="#999" stroke-width="0.6" />
<line x1="238.98" y1="373.3" x2="238.98" y2="374.5" stroke="#999" stroke-width="0.6" />
<line x1="239.89" y1="373.3" x2="239.89" y2="374.5" stroke="#999" stroke-width="0.6" />
<line x1="240.7" y1="373.3" x2="240.7" y2="375.7" stroke="#444" stroke-width="0.8" />
<rect x="195.6" y="282.8" width="45.1" height="31.1" fill="none" stroke="#3a3a3a" stroke-width="0.9" />
<rect x="151.4" y="313.9" width="44.2" height="42.3" fill="none" stroke="#3a3a3a" stroke-width="0.9" />
<rect x="195.6" y="313.9" width="40.1" height="35.7" fill="none" stroke="#3a3a3a" stroke-width="0.9" />
<text x="65.2" y="193.6" font-size="9.8" text-anchor="start" fill="#111" >dead</text>
<text x="92.3" y="193.6" font-size="9.8" text-anchor="start" fill="#111" >1.4</text>
<text x="50.6" y="258.5" font-size="9.8" text-anchor="start" fill="#111" >80.3</text>
<text x="55.2" y="268.2" font-size="9.8" text-anchor="start" fill="#111" >live</text>
<text x="107.4" y="251.6" font-size="9.8" text-anchor="start" fill="#111" >16.4</text>
<text x="104.6" y="263.6" font-size="9.8" text-anchor="start" fill="#111" >dying</text>
<text x="168.3" y="193.4" font-size="9.8" text-anchor="start" fill="#111" >dead</text>
<text x="195.0" y="193.4" font-size="9.8" text-anchor="start" fill="#111" >1.2</text>
<text x="154.4" y="258.4" font-size="9.8" text-anchor="start" fill="#111" >77.8</text>
<text x="158.7" y="268.2" font-size="9.8" text-anchor="start" fill="#111" >live</text>
<text x="210.5" y="252.2" font-size="9.8" text-anchor="start" fill="#111" >18.5</text>
<text x="207.4" y="264.0" font-size="9.8" text-anchor="start" fill="#111" >dying</text>
<text x="70.3" y="291.2" font-size="9.8" text-anchor="start" fill="#111" >dead</text>
<text x="94.7" y="291.2" font-size="9.8" text-anchor="start" fill="#111" >10.7</text>
<text x="50.7" y="354.0" font-size="9.8" text-anchor="start" fill="#111" >28.7</text>
<text x="54.8" y="364.6" font-size="9.8" text-anchor="start" fill="#111" >live</text>
<text x="112.2" y="347.6" font-size="9.8" text-anchor="start" fill="#111" >58.4</text>
<text x="108.9" y="360.2" font-size="9.8" text-anchor="start" fill="#111" >dying</text>
<text x="171.9" y="292.6" font-size="9.8" text-anchor="start" fill="#111" >dead</text>
<text x="199.2" y="292.6" font-size="9.8" text-anchor="start" fill="#111" >9.5</text>
<text x="154.0" y="354.6" font-size="9.8" text-anchor="start" fill="#111" >30.4</text>
<text x="158.4" y="364.6" font-size="9.8" text-anchor="start" fill="#111" >live</text>
<text x="213.2" y="347.6" font-size="9.8" text-anchor="start" fill="#111" >57.2</text>
<text x="212.2" y="360.2" font-size="9.8" text-anchor="start" fill="#111" >dying</text>
<text x="265.4" y="166.8" font-size="15.2" text-anchor="start" fill="#111" >D</text>
<line x1="306.4" y1="175.4" x2="306.4" y2="277.9" stroke="#555" stroke-width="1.2" />
<line x1="304.2" y1="254.7" x2="306.4" y2="254.7" stroke="#555" stroke-width="1" />
<text x="302.65" y="258.0" font-size="9.3" text-anchor="end" fill="#111" >20</text>
<line x1="304.2" y1="231.99999999999997" x2="306.4" y2="231.99999999999997" stroke="#555" stroke-width="1" />
<text x="302.65" y="235.3" font-size="9.3" text-anchor="end" fill="#111" >40</text>
<line x1="304.2" y1="209.29999999999998" x2="306.4" y2="209.29999999999998" stroke="#555" stroke-width="1" />
<text x="302.65" y="212.6" font-size="9.3" text-anchor="end" fill="#111" >60</text>
<line x1="304.2" y1="186.59999999999997" x2="306.4" y2="186.59999999999997" stroke="#555" stroke-width="1" />
<text x="302.65" y="189.9" font-size="9.3" text-anchor="end" fill="#111" >80</text>
<line x1="304.4" y1="266.04999999999995" x2="306.4" y2="266.04999999999995" stroke="#555" stroke-width="0.8" />
<line x1="304.4" y1="243.34999999999997" x2="306.4" y2="243.34999999999997" stroke="#555" stroke-width="0.8" />
<line x1="304.4" y1="220.64999999999998" x2="306.4" y2="220.64999999999998" stroke="#555" stroke-width="0.8" />
<line x1="304.4" y1="197.95" x2="306.4" y2="197.95" stroke="#555" stroke-width="0.8" />
<line x1="304.4" y1="175.24999999999997" x2="306.4" y2="175.24999999999997" stroke="#555" stroke-width="0.8" />
<line x1="304.4" y1="277.4" x2="373.5" y2="277.4" stroke="#555" stroke-width="1.1" />
<line x1="306.4" y1="277.4" x2="306.4" y2="279.4" stroke="#555" stroke-width="0.9" />
<line x1="328.85" y1="277.4" x2="328.85" y2="279.4" stroke="#555" stroke-width="0.9" />
<line x1="351.3" y1="277.4" x2="351.3" y2="279.4" stroke="#555" stroke-width="0.9" />
<line x1="373.75" y1="277.4" x2="373.75" y2="279.4" stroke="#555" stroke-width="0.9" />
<rect x="311.1" y="187.17" width="6.0" height="90.23" fill="#fff" stroke="#111" stroke-width="0.9" />
<rect x="317.1" y="185.46" width="7.6" height="91.94" fill="#7a7a7a" stroke="#111" stroke-width="0.9" />
<line x1="314.1" y1="185.46" x2="314.1" y2="188.87" stroke="#111" stroke-width="0.8" />
<line x1="312.6" y1="185.46" x2="315.6" y2="185.46" stroke="#111" stroke-width="0.8" />
<line x1="312.6" y1="188.87" x2="315.6" y2="188.87" stroke="#111" stroke-width="0.8" />
<line x1="320.9" y1="184.9" x2="320.9" y2="186.03" stroke="#111" stroke-width="0.8" />
<line x1="319.4" y1="184.9" x2="322.4" y2="184.9" stroke="#111" stroke-width="0.8" />
<line x1="319.4" y1="186.03" x2="322.4" y2="186.03" stroke="#111" stroke-width="0.8" />
<rect x="333.55" y="259.13" width="6.0" height="18.27" fill="#fff" stroke="#111" stroke-width="0.9" />
<rect x="339.55" y="259.92" width="7.6" height="17.48" fill="#7a7a7a" stroke="#111" stroke-width="0.9" />
<line x1="336.55" y1="257.65" x2="336.55" y2="260.6" stroke="#111" stroke-width="0.8" />
<line x1="335.05" y1="257.65" x2="338.05" y2="257.65" stroke="#111" stroke-width="0.8" />
<line x1="335.05" y1="260.6" x2="338.05" y2="260.6" stroke="#111" stroke-width="0.8" />
<line x1="343.35" y1="259.47" x2="343.35" y2="260.38" stroke="#111" stroke-width="0.8" />
<line x1="341.85" y1="259.47" x2="344.85" y2="259.47" stroke="#111" stroke-width="0.8" />
<line x1="341.85" y1="260.38" x2="344.85" y2="260.38" stroke="#111" stroke-width="0.8" />
<rect x="356.0" y="276.26" width="6.0" height="1.14" fill="#fff" stroke="#111" stroke-width="0.9" />
<rect x="362.0" y="276.26" width="7.6" height="1.14" fill="#7a7a7a" stroke="#111" stroke-width="0.9" />
<line x1="359.0" y1="276.04" x2="359.0" y2="276.49" stroke="#111" stroke-width="0.8" />
<line x1="357.5" y1="276.04" x2="360.5" y2="276.04" stroke="#111" stroke-width="0.8" />
<line x1="357.5" y1="276.49" x2="360.5" y2="276.49" stroke="#111" stroke-width="0.8" />
<line x1="365.8" y1="276.04" x2="365.8" y2="276.49" stroke="#111" stroke-width="0.8" />
<line x1="364.3" y1="276.04" x2="367.3" y2="276.04" stroke="#111" stroke-width="0.8" />
<line x1="364.3" y1="276.49" x2="367.3" y2="276.49" stroke="#111" stroke-width="0.8" />
<text x="314.5" y="284.9" font-size="9.3" text-anchor="start" fill="#111" transform="rotate(45 314.5 284.9)">viable</text>
<text x="335.35" y="284.4" font-size="9.3" text-anchor="start" fill="#111" transform="rotate(45 335.35 284.4)">apoptotic</text>
<text x="359.0" y="284.9" font-size="9.3" text-anchor="start" fill="#111" transform="rotate(45 359.0 284.9)">dead</text>
<text x="0" y="0" font-size="9.8" text-anchor="middle" fill="#111" transform="translate(287.9,228.6) rotate(-90)">% in total</text>
<rect x="344.3" y="203.5" width="4.3" height="4.1" fill="#fff" stroke="#111" stroke-width="0.9" />
<rect x="344.3" y="215.0" width="4.3" height="4.1" fill="#7a7a7a" stroke="#111" stroke-width="0.9" />
<text x="352.4" y="209.3" font-size="9.3" text-anchor="start" fill="#111" >WT</text>
<text x="352.4" y="220.6" font-size="9.3" text-anchor="start" fill="#111" >KO</text>
<line x1="414.5" y1="176.6" x2="414.5" y2="279.4" stroke="#555" stroke-width="1.2" />
<line x1="412.3" y1="261.9" x2="414.5" y2="261.9" stroke="#555" stroke-width="1" />
<text x="410.75" y="265.2" font-size="9.3" text-anchor="end" fill="#111" >10</text>
<line x1="412.3" y1="244.89999999999998" x2="414.5" y2="244.89999999999998" stroke="#555" stroke-width="1" />
<text x="410.75" y="248.2" font-size="9.3" text-anchor="end" fill="#111" >20</text>
<line x1="412.3" y1="227.89999999999998" x2="414.5" y2="227.89999999999998" stroke="#555" stroke-width="1" />
<text x="410.75" y="231.2" font-size="9.3" text-anchor="end" fill="#111" >30</text>
<line x1="412.3" y1="210.89999999999998" x2="414.5" y2="210.89999999999998" stroke="#555" stroke-width="1" />
<text x="410.75" y="214.2" font-size="9.3" text-anchor="end" fill="#111" >40</text>
<line x1="412.3" y1="193.89999999999998" x2="414.5" y2="193.89999999999998" stroke="#555" stroke-width="1" />
<text x="410.75" y="197.2" font-size="9.3" text-anchor="end" fill="#111" >50</text>
<line x1="412.5" y1="176.89999999999998" x2="414.5" y2="176.89999999999998" stroke="#555" stroke-width="0.8" />
<line x1="412.5" y1="278.9" x2="481.4" y2="278.9" stroke="#555" stroke-width="1.1" />
<line x1="414.5" y1="278.9" x2="414.5" y2="280.9" stroke="#555" stroke-width="0.9" />
<line x1="436.7" y1="278.9" x2="436.7" y2="280.9" stroke="#555" stroke-width="0.9" />
<line x1="458.9" y1="278.9" x2="458.9" y2="280.9" stroke="#555" stroke-width="0.9" />
<line x1="481.1" y1="278.9" x2="481.1" y2="280.9" stroke="#555" stroke-width="0.9" />
<rect x="419.4" y="226.54" width="5.9" height="52.36" fill="#fff" stroke="#111" stroke-width="0.9" />
<rect x="425.3" y="221.61" width="7.4" height="57.29" fill="#7a7a7a" stroke="#111" stroke-width="0.9" />
<line x1="422.35" y1="224.33" x2="422.35" y2="228.75" stroke="#111" stroke-width="0.8" />
<line x1="420.85" y1="224.33" x2="423.85" y2="224.33" stroke="#111" stroke-width="0.8" />
<line x1="420.85" y1="228.75" x2="423.85" y2="228.75" stroke="#111" stroke-width="0.8" />
<line x1="429.0" y1="215.32" x2="429.0" y2="227.9" stroke="#111" stroke-width="0.8" />
<line x1="427.5" y1="215.32" x2="430.5" y2="215.32" stroke="#111" stroke-width="0.8" />
<line x1="427.5" y1="227.9" x2="430.5" y2="227.9" stroke="#111" stroke-width="0.8" />
<rect x="441.6" y="186.25" width="5.9" height="92.65" fill="#fff" stroke="#111" stroke-width="0.9" />
<rect x="447.5" y="187.1" width="7.4" height="91.8" fill="#7a7a7a" stroke="#111" stroke-width="0.9" />
<line x1="444.55" y1="182.85" x2="444.55" y2="189.65" stroke="#111" stroke-width="0.8" />
<line x1="443.05" y1="182.85" x2="446.05" y2="182.85" stroke="#111" stroke-width="0.8" />
<line x1="443.05" y1="189.65" x2="446.05" y2="189.65" stroke="#111" stroke-width="0.8" />
<line x1="451.2" y1="182.34" x2="451.2" y2="191.86" stroke="#111" stroke-width="0.8" />
<line x1="449.7" y1="182.34" x2="452.7" y2="182.34" stroke="#111" stroke-width="0.8" />
<line x1="449.7" y1="191.86" x2="452.7" y2="191.86" stroke="#111" stroke-width="0.8" />
<rect x="463.8" y="259.01" width="5.9" height="19.89" fill="#fff" stroke="#111" stroke-width="0.9" />
<rect x="469.7" y="260.88" width="7.4" height="18.02" fill="#7a7a7a" stroke="#111" stroke-width="0.9" />
<line x1="466.75" y1="258.5" x2="466.75" y2="259.52" stroke="#111" stroke-width="0.8" />
<line x1="465.25" y1="258.5" x2="468.25" y2="258.5" stroke="#111" stroke-width="0.8" />
<line x1="465.25" y1="259.52" x2="468.25" y2="259.52" stroke="#111" stroke-width="0.8" />
<line x1="473.4" y1="259.69" x2="473.4" y2="262.07" stroke="#111" stroke-width="0.8" />
<line x1="471.9" y1="259.69" x2="474.9" y2="259.69" stroke="#111" stroke-width="0.8" />
<line x1="471.9" y1="262.07" x2="474.9" y2="262.07" stroke="#111" stroke-width="0.8" />
<text x="423.3" y="286.5" font-size="9.3" text-anchor="start" fill="#111" transform="rotate(45 423.3 286.5)">viable</text>
<text x="442.5" y="285.3" font-size="9.3" text-anchor="start" fill="#111" transform="rotate(45 442.5 285.3)">apoptotic</text>
<text x="467.1" y="286.9" font-size="9.3" text-anchor="start" fill="#111" transform="rotate(45 467.1 286.9)">dead</text>
<text x="0" y="0" font-size="9.6" text-anchor="middle" fill="#111" transform="translate(397.2,231.5) rotate(-90)">% in MK</text>
</svg>
</body></html>
